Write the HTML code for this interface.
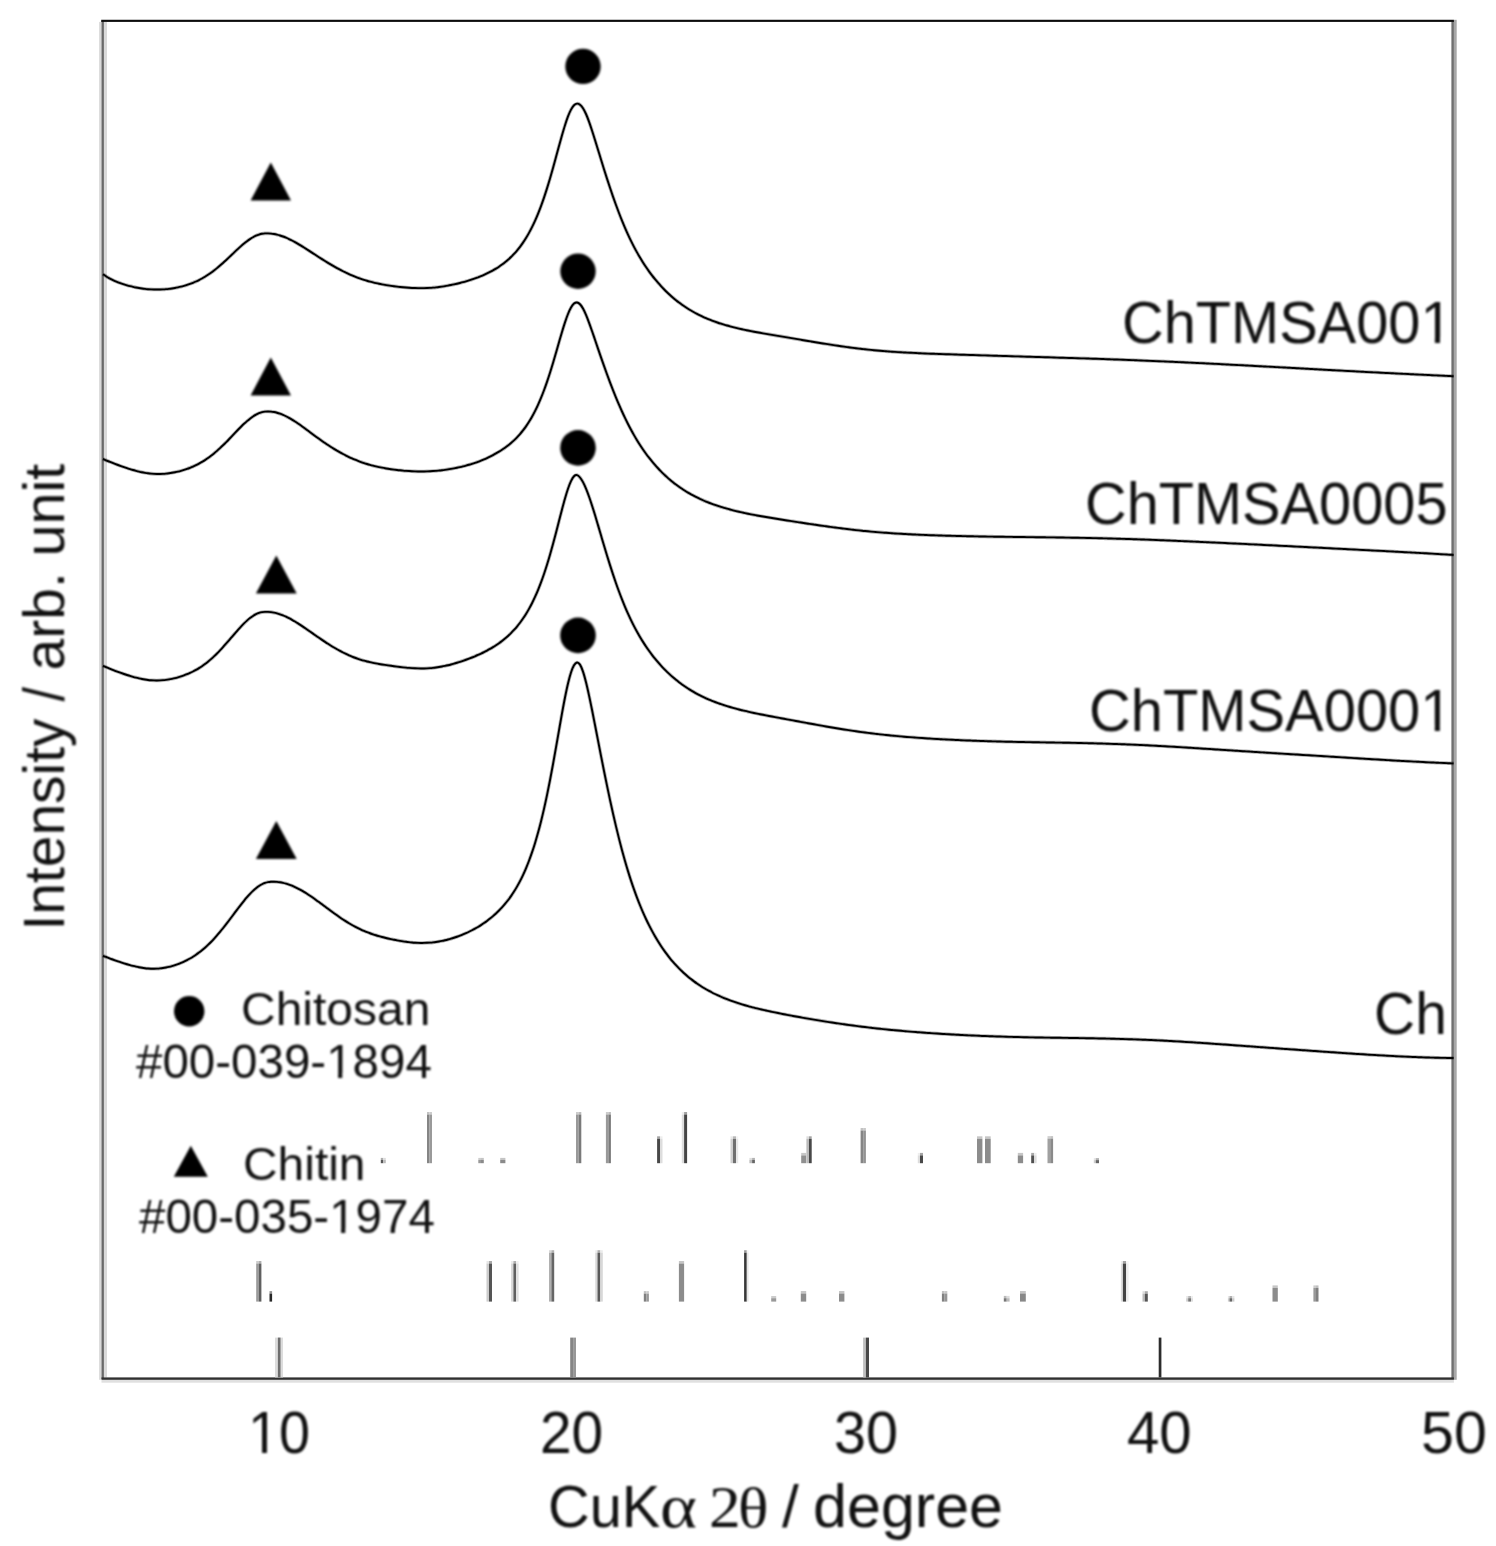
<!DOCTYPE html>
<html><head><meta charset="utf-8"><title>XRD</title>
<style>
html,body{margin:0;padding:0;background:#fff;}
body{width:1496px;height:1546px;overflow:hidden;font-family:"Liberation Sans",sans-serif;}
svg{display:block;}
text{font-family:"Liberation Sans",sans-serif;fill:#111;}
</style></head><body>
<svg width="1496" height="1546" viewBox="0 0 1496 1546">
<defs><filter id="soft" color-interpolation-filters="sRGB" x="-2%" y="-2%" width="104%" height="104%"><feGaussianBlur stdDeviation="0.8"/></filter></defs>
<rect width="1496" height="1546" fill="#fff"/>
<g id="all" filter="url(#soft)">
<rect id="bgw" x="-10" y="-10" width="1516" height="1566" fill="#fff"/>
<g id="curves_ph"></g>
<g id="markers" fill="#000">
<circle cx="583.0" cy="66.4" r="17.7"/>
<circle cx="578.0" cy="271.2" r="17.7"/>
<circle cx="578.0" cy="447.9" r="17.8"/>
<circle cx="578.0" cy="635.4" r="17.8"/>
<polygon points="250.6,200.6 291.0,200.6 270.8,162.6"/>
<polygon points="250.6,395.6 291.0,395.6 270.8,357.6"/>
<polygon points="255.9,593.6 296.7,593.6 276.3,555.6"/>
<polygon points="255.9,858.9 296.7,858.9 276.3,821.0"/>
<circle cx="189.2" cy="1011.3" r="15.2"/>
<polygon points="173.8,1176.8 207.8,1176.8 190.8,1145.8"/>
</g>
<g id="labels">
<g id="g_t10"><text id="t10" x="248.0" y="1453.2" font-size="58.5" textLength="62.06" lengthAdjust="spacingAndGlyphs">10</text><rect x="250.34" y="1447.54" width="11.69" height="6.80" fill="#fff"/><rect x="266.97" y="1447.54" width="11.25" height="6.80" fill="#fff"/></g>
<g id="g_t20"><text id="t20" x="540.0" y="1453.2" font-size="58.5" textLength="63.21" lengthAdjust="spacingAndGlyphs">20</text></g>
<g id="g_t30"><text id="t30" x="834.0" y="1453.2" font-size="58.5" textLength="64.09" lengthAdjust="spacingAndGlyphs">30</text></g>
<g id="g_t40"><text id="t40" x="1127.0" y="1453.2" font-size="58.5" textLength="64.69" lengthAdjust="spacingAndGlyphs">40</text></g>
<g id="g_t50"><text id="t50" x="1421.0" y="1453.2" font-size="58.5" textLength="65.8" lengthAdjust="spacingAndGlyphs">50</text></g>
<g id="g_xl1"><text id="xl1" x="548.0" y="1527.2" font-size="60" textLength="112.41" lengthAdjust="spacingAndGlyphs">CuK</text></g>
<g id="g_xa"><text id="xa" x="660.0" y="1527.2" font-size="62" style="font-family:'Liberation Serif',serif" textLength="37.0" lengthAdjust="spacingAndGlyphs" fill="#2a2a2a">α</text></g>
<g id="g_x2"><text id="x2" x="709.0" y="1527.2" font-size="60" style="font-family:'Liberation Serif',serif" textLength="31.73" lengthAdjust="spacingAndGlyphs" fill="#2a2a2a">2</text></g>
<g id="g_xt"><text id="xt" x="738.0" y="1527.2" font-size="58" style="font-family:'Liberation Serif',serif" textLength="30.49" lengthAdjust="spacingAndGlyphs" fill="#2a2a2a">θ</text></g>
<g id="g_xs"><text id="xs" x="782.0" y="1527.2" font-size="60" textLength="16.78" lengthAdjust="spacingAndGlyphs" fill="#555">/</text></g>
<g id="g_xl3"><text id="xl3" x="813.0" y="1526.8" font-size="60.5" textLength="190.04" lengthAdjust="spacingAndGlyphs">degree</text></g>
<g id="g_yl1"><text id="yl1" x="63.8" y="930.5" font-size="57.5" textLength="211.9" lengthAdjust="spacingAndGlyphs" transform="rotate(-90 63.8 930.5)">Intensity</text></g>
<g id="g_yl2"><text id="yl2" x="63.8" y="701.5" font-size="57.5" textLength="14.62" lengthAdjust="spacingAndGlyphs" transform="rotate(-90 63.8 701.5)">/</text></g>
<g id="g_yl3"><text id="yl3" x="63.8" y="670.5" font-size="57.5" textLength="98.23" lengthAdjust="spacingAndGlyphs" transform="rotate(-90 63.8 670.5)">arb.</text></g>
<g id="g_yl4"><text id="yl4" x="63.8" y="556.5" font-size="57.5" textLength="92.74" lengthAdjust="spacingAndGlyphs" transform="rotate(-90 63.8 556.5)">unit</text></g>
<g id="g_l1"><text id="l1" x="1122.0" y="342.6" font-size="58.5" textLength="330.5" lengthAdjust="spacingAndGlyphs">ChTMSA001</text><rect x="1422.80" y="336.94" width="12.10" height="6.80" fill="#fff"/><rect x="1440.01" y="336.94" width="11.65" height="6.80" fill="#fff"/></g>
<g id="g_l2"><text id="l2" x="1085.0" y="524.0" font-size="58.5" textLength="362.54" lengthAdjust="spacingAndGlyphs">ChTMSA0005</text></g>
<g id="g_l3"><text id="l3" x="1089.0" y="730.8" font-size="58.5" textLength="363.43" lengthAdjust="spacingAndGlyphs">ChTMSA0001</text><rect x="1422.65" y="725.14" width="12.13" height="6.80" fill="#fff"/><rect x="1439.90" y="725.14" width="11.68" height="6.80" fill="#fff"/></g>
<g id="g_l4"><text id="l4" x="1374.0" y="1034.4" font-size="58.5" textLength="72.83" lengthAdjust="spacingAndGlyphs">Ch</text></g>
<g id="g_g1"><text id="g1" x="241.0" y="1024.7" font-size="46.5" textLength="189.31" lengthAdjust="spacingAndGlyphs">Chitosan</text></g>
<g id="g_g2"><text id="g2" x="136.0" y="1078.0" font-size="47.5" textLength="295.81" lengthAdjust="spacingAndGlyphs">#00-039-1894</text><rect x="328.12" y="1073.41" width="9.96" height="5.52" fill="#fff"/><rect x="342.28" y="1073.41" width="9.59" height="5.52" fill="#fff"/></g>
<g id="g_g3"><text id="g3" x="243.0" y="1179.6" font-size="46.5" textLength="122.49" lengthAdjust="spacingAndGlyphs">Chitin</text></g>
<g id="g_g4"><text id="g4" x="139.0" y="1233.4" font-size="47.5" textLength="295.81" lengthAdjust="spacingAndGlyphs">#00-035-1974</text><rect x="331.12" y="1228.81" width="9.96" height="5.52" fill="#fff"/><rect x="345.28" y="1228.81" width="9.59" height="5.52" fill="#fff"/></g>
</g>
</g>
<g id="sticks">
<rect x="380.8" y="1157.9" width="2.5" height="2.1" fill="#acacac"/>
<rect x="380.8" y="1160.0" width="2.5" height="3.2" fill="#585858"/>
<rect x="383.3" y="1157.9" width="2.5" height="2.1" fill="#dddddd"/>
<rect x="383.3" y="1160.0" width="2.5" height="3.2" fill="#bbbbbb"/>
<rect x="427.0" y="1112.0" width="2.5" height="2.5" fill="#c2c2c2"/>
<rect x="427.0" y="1114.5" width="2.5" height="48.7" fill="#858585"/>
<rect x="429.5" y="1112.0" width="2.5" height="2.5" fill="#cccccc"/>
<rect x="429.5" y="1114.5" width="2.5" height="48.7" fill="#9a9a9a"/>
<rect x="478.3" y="1157.9" width="2.7" height="2.1" fill="#cccccc"/>
<rect x="478.3" y="1160.0" width="2.7" height="3.2" fill="#999999"/>
<rect x="481.0" y="1157.9" width="2.8" height="2.1" fill="#c4c4c4"/>
<rect x="481.0" y="1160.0" width="2.8" height="3.2" fill="#8a8a8a"/>
<rect x="500.2" y="1157.9" width="5.2" height="2.1" fill="#c4c4c4"/>
<rect x="500.2" y="1160.0" width="5.2" height="3.2" fill="#8a8a8a"/>
<rect x="576.0" y="1112.0" width="2.6" height="2.5" fill="#cccccc"/>
<rect x="576.0" y="1114.5" width="2.6" height="48.7" fill="#999999"/>
<rect x="578.6" y="1112.0" width="2.7" height="2.5" fill="#bcbcbc"/>
<rect x="578.6" y="1114.5" width="2.7" height="48.7" fill="#7a7a7a"/>
<rect x="605.9" y="1112.0" width="2.5" height="2.5" fill="#cccccc"/>
<rect x="605.9" y="1114.5" width="2.5" height="48.7" fill="#999999"/>
<rect x="608.4" y="1112.0" width="2.5" height="2.5" fill="#bcbcbc"/>
<rect x="608.4" y="1114.5" width="2.5" height="48.7" fill="#7a7a7a"/>
<rect x="657.1" y="1136.3" width="3.0" height="2.5" fill="#a4a4a4"/>
<rect x="657.1" y="1138.8" width="3.0" height="24.4" fill="#484848"/>
<rect x="660.1" y="1136.3" width="2.4" height="2.5" fill="#eeeeee"/>
<rect x="660.1" y="1138.8" width="2.4" height="24.4" fill="#dddddd"/>
<rect x="681.8" y="1112.0" width="2.3" height="2.5" fill="#eeeeee"/>
<rect x="681.8" y="1114.5" width="2.3" height="48.7" fill="#dddddd"/>
<rect x="684.1" y="1112.0" width="3.0" height="2.5" fill="#a2a2a2"/>
<rect x="684.1" y="1114.5" width="3.0" height="48.7" fill="#444444"/>
<rect x="730.5" y="1136.3" width="2.5" height="2.5" fill="#e8e8e8"/>
<rect x="730.5" y="1138.8" width="2.5" height="24.4" fill="#d0d0d0"/>
<rect x="733.0" y="1136.3" width="3.0" height="2.5" fill="#b8b8b8"/>
<rect x="733.0" y="1138.8" width="3.0" height="24.4" fill="#707070"/>
<rect x="736.0" y="1136.3" width="2.2" height="2.5" fill="#f4f4f4"/>
<rect x="736.0" y="1138.8" width="2.2" height="24.4" fill="#e8e8e8"/>
<rect x="749.4" y="1157.9" width="2.7" height="2.1" fill="#dddddd"/>
<rect x="749.4" y="1160.0" width="2.7" height="3.2" fill="#bbbbbb"/>
<rect x="752.1" y="1157.9" width="2.8" height="2.1" fill="#b2b2b2"/>
<rect x="752.1" y="1160.0" width="2.8" height="3.2" fill="#666666"/>
<rect x="801.2" y="1152.9" width="5.0" height="2.5" fill="#c8c8c8"/>
<rect x="801.2" y="1155.4" width="5.0" height="7.8" fill="#909090"/>
<rect x="806.4" y="1136.3" width="2.6" height="2.5" fill="#dddddd"/>
<rect x="806.4" y="1138.8" width="2.6" height="24.4" fill="#bbbbbb"/>
<rect x="809.0" y="1136.3" width="2.7" height="2.5" fill="#a4a4a4"/>
<rect x="809.0" y="1138.8" width="2.7" height="24.4" fill="#484848"/>
<rect x="860.6" y="1128.0" width="2.6" height="2.5" fill="#c2c2c2"/>
<rect x="860.6" y="1130.5" width="2.6" height="32.7" fill="#858585"/>
<rect x="863.2" y="1128.0" width="2.7" height="2.5" fill="#c9c9c9"/>
<rect x="863.2" y="1130.5" width="2.7" height="32.7" fill="#939393"/>
<rect x="917.8" y="1152.9" width="2.2" height="2.5" fill="#eeeeee"/>
<rect x="917.8" y="1155.4" width="2.2" height="7.8" fill="#dddddd"/>
<rect x="920.0" y="1152.9" width="3.0" height="2.5" fill="#a4a4a4"/>
<rect x="920.0" y="1155.4" width="3.0" height="7.8" fill="#484848"/>
<rect x="977.0" y="1136.3" width="5.4" height="2.5" fill="#c6c6c6"/>
<rect x="977.0" y="1138.8" width="5.4" height="24.4" fill="#8c8c8c"/>
<rect x="985.0" y="1136.3" width="5.7" height="2.5" fill="#c6c6c6"/>
<rect x="985.0" y="1138.8" width="5.7" height="24.4" fill="#8c8c8c"/>
<rect x="1017.8" y="1152.9" width="5.3" height="2.5" fill="#c6c6c6"/>
<rect x="1017.8" y="1155.4" width="5.3" height="7.8" fill="#8c8c8c"/>
<rect x="1031.2" y="1152.9" width="3.0" height="2.5" fill="#a8a8a8"/>
<rect x="1031.2" y="1155.4" width="3.0" height="7.8" fill="#505050"/>
<rect x="1034.2" y="1152.9" width="2.4" height="2.5" fill="#eeeeee"/>
<rect x="1034.2" y="1155.4" width="2.4" height="7.8" fill="#dddddd"/>
<rect x="1047.5" y="1136.1" width="2.7" height="2.5" fill="#d0d0d0"/>
<rect x="1047.5" y="1138.6" width="2.7" height="24.6" fill="#a0a0a0"/>
<rect x="1050.2" y="1136.1" width="2.9" height="2.5" fill="#c4c4c4"/>
<rect x="1050.2" y="1138.6" width="2.9" height="24.6" fill="#8a8a8a"/>
<rect x="1093.8" y="1158.1" width="2.0" height="2.0" fill="#e6e6e6"/>
<rect x="1093.8" y="1160.1" width="2.0" height="3.1" fill="#cccccc"/>
<rect x="1095.8" y="1158.1" width="3.2" height="2.0" fill="#b2b2b2"/>
<rect x="1095.8" y="1160.1" width="3.2" height="3.1" fill="#666666"/>
<rect x="256.2" y="1261.0" width="2.6" height="2.5" fill="#cccccc"/>
<rect x="256.2" y="1263.5" width="2.6" height="38.1" fill="#9a9a9a"/>
<rect x="258.8" y="1261.0" width="2.6" height="2.5" fill="#b0b0b0"/>
<rect x="258.8" y="1263.5" width="2.6" height="38.1" fill="#606060"/>
<rect x="269.5" y="1291.1" width="2.6" height="2.5" fill="#949494"/>
<rect x="269.5" y="1293.6" width="2.6" height="8.0" fill="#282828"/>
<rect x="486.5" y="1261.0" width="2.5" height="2.5" fill="#e6e6e6"/>
<rect x="486.5" y="1263.5" width="2.5" height="38.1" fill="#cccccc"/>
<rect x="489.0" y="1261.0" width="3.0" height="2.5" fill="#aaaaaa"/>
<rect x="489.0" y="1263.5" width="3.0" height="38.1" fill="#555555"/>
<rect x="511.1" y="1261.0" width="2.3" height="2.5" fill="#ececec"/>
<rect x="511.1" y="1263.5" width="2.3" height="38.1" fill="#d8d8d8"/>
<rect x="513.4" y="1261.0" width="2.7" height="2.5" fill="#b0b0b0"/>
<rect x="513.4" y="1263.5" width="2.7" height="38.1" fill="#606060"/>
<rect x="516.1" y="1261.0" width="2.5" height="2.5" fill="#f0f0f0"/>
<rect x="516.1" y="1263.5" width="2.5" height="38.1" fill="#e0e0e0"/>
<rect x="549.0" y="1250.2" width="2.4" height="2.5" fill="#d8d8d8"/>
<rect x="549.0" y="1252.7" width="2.4" height="48.9" fill="#b0b0b0"/>
<rect x="551.4" y="1250.2" width="2.8" height="2.5" fill="#b2b2b2"/>
<rect x="551.4" y="1252.7" width="2.8" height="48.9" fill="#666666"/>
<rect x="595.3" y="1250.2" width="2.2" height="2.5" fill="#ececec"/>
<rect x="595.3" y="1252.7" width="2.2" height="48.9" fill="#d8d8d8"/>
<rect x="597.5" y="1250.2" width="2.8" height="2.5" fill="#acacac"/>
<rect x="597.5" y="1252.7" width="2.8" height="48.9" fill="#5a5a5a"/>
<rect x="600.3" y="1250.2" width="2.5" height="2.5" fill="#ececec"/>
<rect x="600.3" y="1252.7" width="2.5" height="48.9" fill="#d8d8d8"/>
<rect x="643.8" y="1291.1" width="2.6" height="2.5" fill="#c0c0c0"/>
<rect x="643.8" y="1293.6" width="2.6" height="8.0" fill="#808080"/>
<rect x="646.4" y="1291.1" width="2.5" height="2.5" fill="#cccccc"/>
<rect x="646.4" y="1293.6" width="2.5" height="8.0" fill="#999999"/>
<rect x="678.9" y="1261.0" width="5.2" height="2.5" fill="#c6c6c6"/>
<rect x="678.9" y="1263.5" width="5.2" height="38.1" fill="#8c8c8c"/>
<rect x="744.1" y="1250.2" width="2.7" height="2.5" fill="#9c9c9c"/>
<rect x="744.1" y="1252.7" width="2.7" height="48.9" fill="#383838"/>
<rect x="746.8" y="1250.2" width="1.8" height="2.5" fill="#f4f4f4"/>
<rect x="746.8" y="1252.7" width="1.8" height="48.9" fill="#e8e8e8"/>
<rect x="771.2" y="1296.0" width="5.0" height="2.2" fill="#cccccc"/>
<rect x="771.2" y="1298.2" width="5.0" height="3.4" fill="#999999"/>
<rect x="800.8" y="1291.0" width="5.4" height="2.5" fill="#c6c6c6"/>
<rect x="800.8" y="1293.5" width="5.4" height="8.1" fill="#8c8c8c"/>
<rect x="839.0" y="1291.0" width="5.4" height="2.5" fill="#c6c6c6"/>
<rect x="839.0" y="1293.5" width="5.4" height="8.1" fill="#8c8c8c"/>
<rect x="941.9" y="1291.0" width="2.7" height="2.5" fill="#c0c0c0"/>
<rect x="941.9" y="1293.5" width="2.7" height="8.1" fill="#808080"/>
<rect x="944.6" y="1291.0" width="2.7" height="2.5" fill="#cacaca"/>
<rect x="944.6" y="1293.5" width="2.7" height="8.1" fill="#969696"/>
<rect x="1003.8" y="1295.9" width="2.9" height="2.3" fill="#bbbbbb"/>
<rect x="1003.8" y="1298.2" width="2.9" height="3.4" fill="#777777"/>
<rect x="1006.7" y="1295.9" width="2.9" height="2.3" fill="#dddddd"/>
<rect x="1006.7" y="1298.2" width="2.9" height="3.4" fill="#bbbbbb"/>
<rect x="1020.0" y="1291.0" width="5.8" height="2.5" fill="#c4c4c4"/>
<rect x="1020.0" y="1293.5" width="5.8" height="8.1" fill="#888888"/>
<rect x="1120.9" y="1261.0" width="2.0" height="2.5" fill="#eeeeee"/>
<rect x="1120.9" y="1263.5" width="2.0" height="38.1" fill="#dddddd"/>
<rect x="1122.9" y="1261.0" width="3.3" height="2.5" fill="#a2a2a2"/>
<rect x="1122.9" y="1263.5" width="3.3" height="38.1" fill="#444444"/>
<rect x="1126.2" y="1261.0" width="2.4" height="2.5" fill="#f6f6f6"/>
<rect x="1126.2" y="1263.5" width="2.4" height="38.1" fill="#eeeeee"/>
<rect x="1142.5" y="1291.2" width="2.4" height="2.5" fill="#dddddd"/>
<rect x="1142.5" y="1293.7" width="2.4" height="7.9" fill="#bbbbbb"/>
<rect x="1144.9" y="1291.2" width="2.9" height="2.5" fill="#aaaaaa"/>
<rect x="1144.9" y="1293.7" width="2.9" height="7.9" fill="#555555"/>
<rect x="1186.2" y="1296.0" width="2.0" height="2.2" fill="#e6e6e6"/>
<rect x="1186.2" y="1298.2" width="2.0" height="3.4" fill="#cccccc"/>
<rect x="1188.2" y="1296.0" width="2.9" height="2.2" fill="#bbbbbb"/>
<rect x="1188.2" y="1298.2" width="2.9" height="3.4" fill="#777777"/>
<rect x="1191.1" y="1296.0" width="1.9" height="2.2" fill="#eeeeee"/>
<rect x="1191.1" y="1298.2" width="1.9" height="3.4" fill="#dddddd"/>
<rect x="1227.9" y="1296.0" width="1.6" height="2.2" fill="#e6e6e6"/>
<rect x="1227.9" y="1298.2" width="1.6" height="3.4" fill="#cccccc"/>
<rect x="1229.5" y="1296.0" width="2.5" height="2.2" fill="#b2b2b2"/>
<rect x="1229.5" y="1298.2" width="2.5" height="3.4" fill="#666666"/>
<rect x="1232.0" y="1296.0" width="2.4" height="2.2" fill="#e6e6e6"/>
<rect x="1232.0" y="1298.2" width="2.4" height="3.4" fill="#cccccc"/>
<rect x="1272.5" y="1285.4" width="5.3" height="2.5" fill="#c6c6c6"/>
<rect x="1272.5" y="1287.9" width="5.3" height="13.7" fill="#8c8c8c"/>
<rect x="1313.4" y="1285.4" width="2.6" height="2.5" fill="#cccccc"/>
<rect x="1313.4" y="1287.9" width="2.6" height="13.7" fill="#999999"/>
<rect x="1316.0" y="1285.4" width="2.5" height="2.5" fill="#c0c0c0"/>
<rect x="1316.0" y="1287.9" width="2.5" height="13.7" fill="#808080"/>
</g>
<g id="frame">
<rect x="99.1" y="21.9" width="2.4" height="1357.9" fill="#dadada"/>
<rect x="103.9" y="21.9" width="3.1" height="1355.5" fill="#dadada"/>
<rect x="101.5" y="1379.8" width="1352.4" height="2.9" fill="#e0e0e0"/>
<rect x="1453.9" y="19.8" width="2.8" height="1360" fill="#a8a8a8"/>
<rect x="101.5" y="21" width="2.4" height="1358" fill="#6a6a6a"/>
<rect x="1451.4" y="21" width="2.5" height="1358" fill="#707070"/>
<rect x="101.2" y="19.76" width="1352.7" height="2.15" fill="#0d0d0d"/>
<rect x="101.5" y="1377.4" width="1352.4" height="2.4" fill="#303030"/>
<rect x="275" y="1337.6" width="8" height="39.8" fill="#dcdcdc"/>
<rect x="277.9" y="1337.6" width="2.6" height="39.8" fill="#6e6e6e"/>
<rect x="570.2" y="1337.6" width="2.9" height="39.8" fill="#858585"/>
<rect x="573.1" y="1337.6" width="2.9" height="39.8" fill="#979797"/>
<rect x="863.1" y="1337.6" width="2.8" height="39.8" fill="#c0c0c0"/>
<rect x="865.9" y="1337.6" width="3.1" height="39.8" fill="#484848"/>
<rect x="1158.7" y="1337.6" width="2.7" height="39.8" fill="#2c2c2c"/>
</g>
<g id="curves" fill="none" stroke="#000" stroke-linejoin="round">
<g stroke-width="3.6" stroke-opacity="0.3">
<path d="M103.00,274.28 C103.50,274.62 105.00,275.67 106.00,276.30 C107.00,276.93 108.00,277.52 109.00,278.08 C110.00,278.63 111.00,279.15 112.00,279.65 C113.00,280.14 114.00,280.60 115.00,281.04 C116.00,281.48 117.00,281.89 118.00,282.29 C119.00,282.68 120.00,283.05 121.00,283.40 C122.00,283.75 123.00,284.08 124.00,284.40 C125.00,284.71 126.00,285.01 127.00,285.30 C128.00,285.58 129.00,285.85 130.00,286.10 C131.00,286.35 132.00,286.59 133.00,286.82 C134.00,287.04 135.00,287.26 136.00,287.45 C137.00,287.65 138.00,287.84 139.00,288.01 C140.00,288.18 141.00,288.34 142.00,288.49 C143.00,288.63 144.00,288.76 145.00,288.88 C146.00,289.00 147.00,289.10 148.00,289.19 C149.00,289.28 150.00,289.35 151.00,289.41 C152.00,289.47 153.00,289.51 154.00,289.53 C155.00,289.56 156.00,289.57 157.00,289.57 C158.00,289.57 159.00,289.55 160.00,289.52 C161.00,289.49 162.00,289.45 163.00,289.39 C164.00,289.33 165.00,289.25 166.00,289.16 C167.00,289.08 168.00,288.97 169.00,288.85 C170.00,288.74 171.00,288.60 172.00,288.45 C173.00,288.31 174.00,288.14 175.00,287.96 C176.00,287.78 177.00,287.58 178.00,287.37 C179.00,287.16 180.00,286.93 181.00,286.68 C182.00,286.43 183.00,286.16 184.00,285.88 C185.00,285.59 186.00,285.29 187.00,284.96 C188.00,284.64 189.00,284.30 190.00,283.93 C191.00,283.57 192.00,283.19 193.00,282.78 C194.00,282.37 195.00,281.95 196.00,281.49 C197.00,281.04 198.00,280.57 199.00,280.06 C200.00,279.56 201.00,279.03 202.00,278.48 C203.00,277.92 204.00,277.34 205.00,276.73 C206.00,276.12 207.00,275.48 208.00,274.82 C209.00,274.15 210.00,273.46 211.00,272.74 C212.00,272.02 213.00,271.27 214.00,270.50 C215.00,269.73 216.00,268.93 217.00,268.11 C218.00,267.29 219.00,266.45 220.00,265.58 C221.00,264.72 222.00,263.84 223.00,262.94 C224.00,262.04 225.00,261.12 226.00,260.20 C227.00,259.27 228.00,258.33 229.00,257.38 C230.00,256.44 231.00,255.48 232.00,254.53 C233.00,253.58 234.00,252.62 235.00,251.68 C236.00,250.73 237.00,249.79 238.00,248.87 C239.00,247.95 240.00,247.04 241.00,246.16 C242.00,245.29 243.00,244.42 244.00,243.60 C245.00,242.78 246.00,241.98 247.00,241.23 C248.00,240.48 249.00,239.77 250.00,239.10 C251.00,238.44 252.00,237.82 253.00,237.26 C254.00,236.69 255.00,236.18 256.00,235.73 C257.00,235.28 258.00,234.88 259.00,234.55 C260.00,234.23 261.00,233.96 262.00,233.76 C263.00,233.56 264.00,233.44 265.00,233.37 C266.00,233.30 267.00,233.32 268.00,233.35 C269.00,233.38 270.00,233.46 271.00,233.57 C272.00,233.67 273.00,233.82 274.00,234.00 C275.00,234.18 276.00,234.39 277.00,234.64 C278.00,234.88 279.00,235.16 280.00,235.47 C281.00,235.78 282.00,236.13 283.00,236.49 C284.00,236.86 285.00,237.26 286.00,237.69 C287.00,238.11 288.00,238.56 289.00,239.03 C290.00,239.51 291.00,240.00 292.00,240.52 C293.00,241.04 294.00,241.58 295.00,242.13 C296.00,242.68 297.00,243.26 298.00,243.85 C299.00,244.43 300.00,245.04 301.00,245.65 C302.00,246.26 303.00,246.88 304.00,247.52 C305.00,248.15 306.00,248.79 307.00,249.43 C308.00,250.08 309.00,250.73 310.00,251.38 C311.00,252.03 312.00,252.68 313.00,253.33 C314.00,253.98 315.00,254.64 316.00,255.29 C317.00,255.93 318.00,256.58 319.00,257.23 C320.00,257.87 321.00,258.51 322.00,259.14 C323.00,259.78 324.00,260.41 325.00,261.03 C326.00,261.65 327.00,262.27 328.00,262.88 C329.00,263.48 330.00,264.08 331.00,264.67 C332.00,265.26 333.00,265.84 334.00,266.41 C335.00,266.98 336.00,267.54 337.00,268.09 C338.00,268.64 339.00,269.18 340.00,269.70 C341.00,270.23 342.00,270.74 343.00,271.24 C344.00,271.74 345.00,272.23 346.00,272.71 C347.00,273.18 348.00,273.64 349.00,274.09 C350.00,274.54 351.00,274.98 352.00,275.40 C353.00,275.82 354.00,276.23 355.00,276.63 C356.00,277.02 357.00,277.41 358.00,277.77 C359.00,278.14 360.00,278.50 361.00,278.84 C362.00,279.19 363.00,279.52 364.00,279.84 C365.00,280.15 366.00,280.46 367.00,280.75 C368.00,281.05 369.00,281.33 370.00,281.60 C371.00,281.87 372.00,282.12 373.00,282.37 C374.00,282.62 375.00,282.86 376.00,283.08 C377.00,283.31 378.00,283.53 379.00,283.73 C380.00,283.94 381.00,284.14 382.00,284.33 C383.00,284.52 384.00,284.70 385.00,284.87 C386.00,285.05 387.00,285.21 388.00,285.37 C389.00,285.53 390.00,285.69 391.00,285.83 C392.00,285.98 393.00,286.12 394.00,286.26 C395.00,286.39 396.00,286.52 397.00,286.64 C398.00,286.76 399.00,286.88 400.00,286.98 C401.00,287.09 402.00,287.19 403.00,287.29 C404.00,287.38 405.00,287.47 406.00,287.55 C407.00,287.63 408.00,287.70 409.00,287.76 C410.00,287.83 411.00,287.89 412.00,287.93 C413.00,287.98 414.00,288.02 415.00,288.06 C416.00,288.09 417.00,288.11 418.00,288.13 C419.00,288.14 420.00,288.15 421.00,288.15 C422.00,288.14 423.00,288.13 424.00,288.11 C425.00,288.09 426.00,288.06 427.00,288.01 C428.00,287.97 429.00,287.92 430.00,287.85 C431.00,287.79 432.00,287.71 433.00,287.63 C434.00,287.54 435.00,287.45 436.00,287.34 C437.00,287.23 438.00,287.12 439.00,286.99 C440.00,286.86 441.00,286.72 442.00,286.58 C443.00,286.43 444.00,286.28 445.00,286.11 C446.00,285.95 447.00,285.77 448.00,285.59 C449.00,285.41 450.00,285.21 451.00,285.01 C452.00,284.81 453.00,284.60 454.00,284.38 C455.00,284.16 456.00,283.93 457.00,283.70 C458.00,283.46 459.00,283.21 460.00,282.96 C461.00,282.70 462.00,282.44 463.00,282.16 C464.00,281.89 465.00,281.61 466.00,281.31 C467.00,281.02 468.00,280.72 469.00,280.40 C470.00,280.09 471.00,279.77 472.00,279.43 C473.00,279.10 474.00,278.76 475.00,278.40 C476.00,278.04 477.00,277.67 478.00,277.29 C479.00,276.90 480.00,276.50 481.00,276.09 C482.00,275.68 483.00,275.25 484.00,274.81 C485.00,274.37 486.00,273.91 487.00,273.43 C488.00,272.95 489.00,272.46 490.00,271.95 C491.00,271.43 492.00,270.90 493.00,270.34 C494.00,269.78 495.00,269.20 496.00,268.59 C497.00,267.98 498.00,267.35 499.00,266.68 C500.00,266.02 501.00,265.33 502.00,264.60 C503.00,263.87 504.00,263.11 505.00,262.31 C506.00,261.51 507.00,260.68 508.00,259.80 C509.00,258.92 510.00,258.00 511.00,257.03 C512.00,256.05 513.00,255.04 514.00,253.96 C515.00,252.89 516.00,251.77 517.00,250.57 C518.00,249.38 519.00,248.14 520.00,246.82 C521.00,245.49 522.00,244.10 523.00,242.63 C524.00,241.16 525.00,239.62 526.00,237.99 C527.00,236.36 528.00,234.65 529.00,232.84 C530.00,231.03 531.00,229.13 532.00,227.12 C533.00,225.11 534.00,223.01 535.00,220.78 C536.00,218.56 537.00,216.23 538.00,213.78 C539.00,211.32 540.00,208.75 541.00,206.06 C542.00,203.36 543.00,200.54 544.00,197.60 C545.00,194.65 546.00,191.58 547.00,188.39 C548.00,185.21 549.00,181.89 550.00,178.50 C551.00,175.10 552.00,171.57 553.00,168.00 C554.00,164.43 555.00,160.75 556.00,157.09 C557.00,153.43 558.00,149.68 559.00,146.04 C560.00,142.40 561.00,138.72 562.00,135.24 C563.00,131.77 564.00,128.32 565.00,125.19 C566.00,122.06 567.00,119.05 568.00,116.46 C569.00,113.87 570.00,111.51 571.00,109.64 C572.00,107.77 573.00,106.25 574.00,105.25 C575.00,104.26 576.00,103.76 577.00,103.67 C578.00,103.59 579.00,103.97 580.00,104.72 C581.00,105.48 582.00,106.65 583.00,108.20 C584.00,109.74 585.00,111.76 586.00,114.00 C587.00,116.24 588.00,118.88 589.00,121.62 C590.00,124.37 591.00,127.40 592.00,130.45 C593.00,133.51 594.00,136.74 595.00,139.95 C596.00,143.16 597.00,146.46 598.00,149.72 C599.00,152.98 600.00,156.28 601.00,159.53 C602.00,162.77 603.00,166.01 604.00,169.20 C605.00,172.39 606.00,175.55 607.00,178.65 C608.00,181.75 609.00,184.80 610.00,187.80 C611.00,190.79 612.00,193.73 613.00,196.60 C614.00,199.47 615.00,202.28 616.00,205.02 C617.00,207.76 618.00,210.43 619.00,213.03 C620.00,215.64 621.00,218.17 622.00,220.63 C623.00,223.10 624.00,225.49 625.00,227.81 C626.00,230.14 627.00,232.39 628.00,234.58 C629.00,236.76 630.00,238.88 631.00,240.92 C632.00,242.97 633.00,244.93 634.00,246.84 C635.00,248.76 636.00,250.60 637.00,252.40 C638.00,254.19 639.00,255.92 640.00,257.60 C641.00,259.28 642.00,260.90 643.00,262.48 C644.00,264.05 645.00,265.57 646.00,267.05 C647.00,268.53 648.00,269.96 649.00,271.34 C650.00,272.73 651.00,274.07 652.00,275.37 C653.00,276.67 654.00,277.93 655.00,279.16 C656.00,280.38 657.00,281.57 658.00,282.72 C659.00,283.88 660.00,284.99 661.00,286.08 C662.00,287.17 663.00,288.22 664.00,289.25 C665.00,290.28 666.00,291.27 667.00,292.24 C668.00,293.21 669.00,294.16 670.00,295.07 C671.00,295.98 672.00,296.85 673.00,297.71 C674.00,298.56 675.00,299.38 676.00,300.18 C677.00,300.99 678.00,301.76 679.00,302.51 C680.00,303.27 681.00,304.00 682.00,304.71 C683.00,305.42 684.00,306.11 685.00,306.77 C686.00,307.44 687.00,308.09 688.00,308.72 C689.00,309.34 690.00,309.95 691.00,310.54 C692.00,311.13 693.00,311.71 694.00,312.26 C695.00,312.82 696.00,313.35 697.00,313.88 C698.00,314.40 699.00,314.90 700.00,315.39 C701.00,315.88 702.00,316.36 703.00,316.81 C704.00,317.27 705.00,317.72 706.00,318.15 C707.00,318.58 708.00,319.00 709.00,319.40 C710.00,319.81 711.00,320.20 712.00,320.58 C713.00,320.96 714.00,321.33 715.00,321.69 C716.00,322.04 717.00,322.39 718.00,322.73 C719.00,323.07 720.00,323.39 721.00,323.71 C722.00,324.03 723.00,324.34 724.00,324.64 C725.00,324.94 726.00,325.23 727.00,325.51 C728.00,325.80 729.00,326.07 730.00,326.34 C731.00,326.61 732.00,326.87 733.00,327.13 C734.00,327.38 735.00,327.63 736.00,327.87 C737.00,328.11 738.00,328.35 739.00,328.58 C740.00,328.81 741.00,329.04 742.00,329.26 C743.00,329.48 744.00,329.69 745.00,329.91 C746.00,330.12 747.00,330.32 748.00,330.53 C749.00,330.73 750.00,330.93 751.00,331.12 C752.00,331.32 753.00,331.51 754.00,331.70 C755.00,331.89 756.00,332.08 757.00,332.26 C758.00,332.44 759.00,332.62 760.00,332.80 C761.00,332.98 762.00,333.16 763.00,333.33 C764.00,333.51 765.00,333.68 766.00,333.85 C767.00,334.03 768.00,334.20 769.00,334.37 C770.00,334.54 771.00,334.71 772.00,334.87 C773.00,335.04 774.00,335.21 775.00,335.38 C776.00,335.54 777.00,335.71 778.00,335.88 C779.00,336.05 780.00,336.21 781.00,336.38 C782.00,336.55 783.00,336.72 784.00,336.89 C785.00,337.06 786.00,337.23 787.00,337.39 C788.00,337.56 789.00,337.73 790.00,337.90 C791.00,338.07 792.00,338.24 793.00,338.41 C794.00,338.58 795.00,338.75 796.00,338.92 C797.00,339.09 798.00,339.26 799.00,339.43 C800.00,339.60 801.00,339.77 802.00,339.94 C803.00,340.11 804.00,340.28 805.00,340.45 C806.00,340.62 807.00,340.79 808.00,340.96 C809.00,341.12 810.00,341.29 811.00,341.46 C812.00,341.63 813.00,341.79 814.00,341.96 C815.00,342.13 816.00,342.29 817.00,342.46 C818.00,342.62 819.00,342.79 820.00,342.95 C821.00,343.12 822.00,343.28 823.00,343.44 C824.00,343.60 825.00,343.76 826.00,343.92 C827.00,344.08 828.00,344.24 829.00,344.40 C830.00,344.56 831.00,344.71 832.00,344.87 C833.00,345.02 834.00,345.18 835.00,345.33 C836.00,345.48 837.00,345.63 838.00,345.78 C839.00,345.93 840.00,346.07 841.00,346.22 C842.00,346.37 843.00,346.51 844.00,346.65 C845.00,346.79 846.00,346.93 847.00,347.07 C848.00,347.21 849.00,347.34 850.00,347.48 C851.00,347.61 852.00,347.74 853.00,347.87 C854.00,348.00 855.00,348.13 856.00,348.25 C857.00,348.38 858.00,348.50 859.00,348.62 C860.00,348.74 861.00,348.85 862.00,348.97 C863.00,349.08 864.00,349.19 865.00,349.30 C866.00,349.41 867.00,349.52 868.00,349.62 C869.00,349.72 870.00,349.82 871.00,349.92 C872.00,350.02 873.00,350.12 874.00,350.21 C875.00,350.31 876.00,350.40 877.00,350.49 C878.00,350.58 879.00,350.67 880.00,350.75 C881.00,350.84 882.00,350.92 883.00,351.00 C884.00,351.08 885.00,351.16 886.00,351.24 C887.00,351.32 888.00,351.39 889.00,351.47 C890.00,351.54 891.00,351.61 892.00,351.68 C893.00,351.75 894.00,351.82 895.00,351.89 C896.00,351.96 897.00,352.02 898.00,352.08 C899.00,352.15 900.00,352.21 901.00,352.27 C902.00,352.33 903.00,352.39 904.00,352.45 C905.00,352.50 906.00,352.56 907.00,352.61 C908.00,352.67 909.00,352.72 910.00,352.77 C911.00,352.82 912.00,352.88 913.00,352.92 C914.00,352.97 915.00,353.02 916.00,353.07 C917.00,353.12 918.00,353.16 919.00,353.21 C920.00,353.25 921.00,353.30 922.00,353.34 C923.00,353.38 924.00,353.42 925.00,353.46 C926.00,353.51 927.00,353.55 928.00,353.58 C929.00,353.62 930.00,353.66 931.00,353.70 C932.00,353.74 933.00,353.78 934.00,353.81 C935.00,353.85 936.00,353.88 937.00,353.92 C938.00,353.95 939.00,353.99 940.00,354.02 C941.00,354.06 942.00,354.09 943.00,354.12 C944.00,354.16 945.00,354.19 946.00,354.22 C947.00,354.25 948.00,354.28 949.00,354.32 C950.00,354.35 951.00,354.38 952.00,354.41 C953.00,354.44 954.00,354.47 955.00,354.50 C956.00,354.53 957.00,354.57 958.00,354.60 C959.00,354.63 960.00,354.66 961.00,354.69 C962.00,354.72 963.00,354.75 964.00,354.78 C965.00,354.81 966.00,354.84 967.00,354.87 C968.00,354.90 969.00,354.93 970.00,354.96 C971.00,354.99 972.00,355.02 973.00,355.05 C974.00,355.09 975.00,355.12 976.00,355.15 C977.00,355.18 978.00,355.21 979.00,355.24 C980.00,355.27 981.00,355.30 982.00,355.33 C983.00,355.36 984.00,355.39 985.00,355.42 C986.00,355.45 987.00,355.48 988.00,355.51 C989.00,355.54 990.00,355.57 991.00,355.60 C992.00,355.63 993.00,355.66 994.00,355.69 C995.00,355.72 996.00,355.75 997.00,355.78 C998.00,355.81 999.00,355.85 1000.00,355.88 C1001.00,355.91 1002.00,355.94 1003.00,355.97 C1004.00,356.00 1005.00,356.03 1006.00,356.06 C1007.00,356.09 1008.00,356.12 1009.00,356.15 C1010.00,356.18 1011.00,356.21 1012.00,356.24 C1013.00,356.27 1014.00,356.30 1015.00,356.33 C1016.00,356.36 1017.00,356.39 1018.00,356.42 C1019.00,356.45 1020.00,356.48 1021.00,356.51 C1022.00,356.54 1023.00,356.57 1024.00,356.60 C1025.00,356.63 1026.00,356.66 1027.00,356.69 C1028.00,356.71 1029.00,356.74 1030.00,356.77 C1031.00,356.80 1032.00,356.83 1033.00,356.86 C1034.00,356.89 1035.00,356.92 1036.00,356.95 C1037.00,356.98 1038.00,357.01 1039.00,357.04 C1040.00,357.07 1041.00,357.10 1042.00,357.13 C1043.00,357.16 1044.00,357.19 1045.00,357.22 C1046.00,357.25 1047.00,357.28 1048.00,357.31 C1049.00,357.34 1050.00,357.37 1051.00,357.40 C1052.00,357.43 1053.00,357.46 1054.00,357.49 C1055.00,357.52 1056.00,357.55 1057.00,357.59 C1058.00,357.62 1059.00,357.65 1060.00,357.68 C1061.00,357.71 1062.00,357.74 1063.00,357.77 C1064.00,357.80 1065.00,357.83 1066.00,357.86 C1067.00,357.89 1068.00,357.92 1069.00,357.95 C1070.00,357.98 1071.00,358.01 1072.00,358.05 C1073.00,358.08 1074.00,358.11 1075.00,358.14 C1076.00,358.17 1077.00,358.20 1078.00,358.23 C1079.00,358.27 1080.00,358.30 1081.00,358.33 C1082.00,358.36 1083.00,358.39 1084.00,358.42 C1085.00,358.46 1086.00,358.49 1087.00,358.52 C1088.00,358.55 1089.00,358.59 1090.00,358.62 C1091.00,358.65 1092.00,358.68 1093.00,358.72 C1094.00,358.75 1095.00,358.78 1096.00,358.82 C1097.00,358.85 1098.00,358.88 1099.00,358.92 C1100.00,358.95 1101.00,358.98 1102.00,359.02 C1103.00,359.05 1104.00,359.09 1105.00,359.12 C1106.00,359.16 1107.00,359.19 1108.00,359.22 C1109.00,359.26 1110.00,359.29 1111.00,359.33 C1112.00,359.37 1113.00,359.40 1114.00,359.44 C1115.00,359.47 1116.00,359.51 1117.00,359.54 C1118.00,359.58 1119.00,359.62 1120.00,359.65 C1121.00,359.69 1122.00,359.73 1123.00,359.76 C1124.00,359.80 1125.00,359.84 1126.00,359.88 C1127.00,359.91 1128.00,359.95 1129.00,359.99 C1130.00,360.03 1131.00,360.07 1132.00,360.10 C1133.00,360.14 1134.00,360.18 1135.00,360.22 C1136.00,360.26 1137.00,360.30 1138.00,360.34 C1139.00,360.38 1140.00,360.42 1141.00,360.46 C1142.00,360.50 1143.00,360.54 1144.00,360.58 C1145.00,360.62 1146.00,360.66 1147.00,360.70 C1148.00,360.75 1149.00,360.79 1150.00,360.83 C1151.00,360.87 1152.00,360.91 1153.00,360.95 C1154.00,361.00 1155.00,361.04 1156.00,361.08 C1157.00,361.13 1158.00,361.17 1159.00,361.21 C1160.00,361.26 1161.00,361.30 1162.00,361.34 C1163.00,361.39 1164.00,361.43 1165.00,361.48 C1166.00,361.52 1167.00,361.56 1168.00,361.61 C1169.00,361.65 1170.00,361.70 1171.00,361.75 C1172.00,361.79 1173.00,361.84 1174.00,361.88 C1175.00,361.93 1176.00,361.97 1177.00,362.02 C1178.00,362.07 1179.00,362.11 1180.00,362.16 C1181.00,362.21 1182.00,362.25 1183.00,362.30 C1184.00,362.35 1185.00,362.40 1186.00,362.44 C1187.00,362.49 1188.00,362.54 1189.00,362.59 C1190.00,362.64 1191.00,362.68 1192.00,362.73 C1193.00,362.78 1194.00,362.83 1195.00,362.88 C1196.00,362.93 1197.00,362.97 1198.00,363.02 C1199.00,363.07 1200.00,363.12 1201.00,363.17 C1202.00,363.22 1203.00,363.27 1204.00,363.32 C1205.00,363.37 1206.00,363.42 1207.00,363.47 C1208.00,363.52 1209.00,363.57 1210.00,363.62 C1211.00,363.67 1212.00,363.72 1213.00,363.77 C1214.00,363.82 1215.00,363.87 1216.00,363.92 C1217.00,363.97 1218.00,364.02 1219.00,364.07 C1220.00,364.12 1221.00,364.17 1222.00,364.22 C1223.00,364.27 1224.00,364.32 1225.00,364.38 C1226.00,364.43 1227.00,364.48 1228.00,364.53 C1229.00,364.58 1230.00,364.63 1231.00,364.68 C1232.00,364.74 1233.00,364.79 1234.00,364.84 C1235.00,364.89 1236.00,364.94 1237.00,365.00 C1238.00,365.05 1239.00,365.10 1240.00,365.15 C1241.00,365.21 1242.00,365.26 1243.00,365.31 C1244.00,365.36 1245.00,365.42 1246.00,365.47 C1247.00,365.52 1248.00,365.58 1249.00,365.63 C1250.00,365.68 1251.00,365.73 1252.00,365.79 C1253.00,365.84 1254.00,365.89 1255.00,365.95 C1256.00,366.00 1257.00,366.05 1258.00,366.11 C1259.00,366.16 1260.00,366.22 1261.00,366.27 C1262.00,366.32 1263.00,366.38 1264.00,366.43 C1265.00,366.48 1266.00,366.54 1267.00,366.59 C1268.00,366.65 1269.00,366.70 1270.00,366.76 C1271.00,366.81 1272.00,366.86 1273.00,366.92 C1274.00,366.97 1275.00,367.03 1276.00,367.08 C1277.00,367.13 1278.00,367.19 1279.00,367.24 C1280.00,367.30 1281.00,367.35 1282.00,367.41 C1283.00,367.46 1284.00,367.52 1285.00,367.57 C1286.00,367.62 1287.00,367.68 1288.00,367.73 C1289.00,367.79 1290.00,367.84 1291.00,367.90 C1292.00,367.95 1293.00,368.01 1294.00,368.06 C1295.00,368.12 1296.00,368.17 1297.00,368.22 C1298.00,368.28 1299.00,368.33 1300.00,368.39 C1301.00,368.44 1302.00,368.50 1303.00,368.55 C1304.00,368.61 1305.00,368.66 1306.00,368.72 C1307.00,368.77 1308.00,368.83 1309.00,368.88 C1310.00,368.93 1311.00,368.99 1312.00,369.04 C1313.00,369.10 1314.00,369.15 1315.00,369.21 C1316.00,369.26 1317.00,369.32 1318.00,369.37 C1319.00,369.42 1320.00,369.48 1321.00,369.53 C1322.00,369.59 1323.00,369.64 1324.00,369.70 C1325.00,369.75 1326.00,369.80 1327.00,369.86 C1328.00,369.91 1329.00,369.97 1330.00,370.02 C1331.00,370.08 1332.00,370.13 1333.00,370.18 C1334.00,370.24 1335.00,370.29 1336.00,370.35 C1337.00,370.40 1338.00,370.45 1339.00,370.51 C1340.00,370.56 1341.00,370.61 1342.00,370.67 C1343.00,370.72 1344.00,370.77 1345.00,370.83 C1346.00,370.88 1347.00,370.93 1348.00,370.99 C1349.00,371.04 1350.00,371.09 1351.00,371.15 C1352.00,371.20 1353.00,371.25 1354.00,371.31 C1355.00,371.36 1356.00,371.41 1357.00,371.46 C1358.00,371.52 1359.00,371.57 1360.00,371.62 C1361.00,371.67 1362.00,371.73 1363.00,371.78 C1364.00,371.83 1365.00,371.88 1366.00,371.93 C1367.00,371.99 1368.00,372.04 1369.00,372.09 C1370.00,372.14 1371.00,372.19 1372.00,372.25 C1373.00,372.30 1374.00,372.35 1375.00,372.40 C1376.00,372.45 1377.00,372.50 1378.00,372.55 C1379.00,372.60 1380.00,372.65 1381.00,372.71 C1382.00,372.76 1383.00,372.81 1384.00,372.86 C1385.00,372.91 1386.00,372.96 1387.00,373.01 C1388.00,373.06 1389.00,373.11 1390.00,373.16 C1391.00,373.21 1392.00,373.26 1393.00,373.31 C1394.00,373.36 1395.00,373.41 1396.00,373.46 C1397.00,373.51 1398.00,373.56 1399.00,373.61 C1400.00,373.66 1401.00,373.71 1402.00,373.75 C1403.00,373.80 1404.00,373.85 1405.00,373.90 C1406.00,373.95 1407.00,374.00 1408.00,374.05 C1409.00,374.10 1410.00,374.15 1411.00,374.20 C1412.00,374.24 1413.00,374.29 1414.00,374.34 C1415.00,374.39 1416.00,374.44 1417.00,374.49 C1418.00,374.53 1419.00,374.58 1420.00,374.63 C1421.00,374.68 1422.00,374.73 1423.00,374.77 C1424.00,374.82 1425.00,374.87 1426.00,374.92 C1427.00,374.97 1428.00,375.01 1429.00,375.06 C1430.00,375.11 1431.00,375.16 1432.00,375.21 C1433.00,375.25 1434.00,375.30 1435.00,375.35 C1436.00,375.40 1437.00,375.44 1438.00,375.49 C1439.00,375.54 1440.00,375.59 1441.00,375.63 C1442.00,375.68 1443.00,375.73 1444.00,375.77 C1445.00,375.82 1446.00,375.87 1447.00,375.92 C1448.00,375.96 1448.90,376.01 1450.00,376.06 C1451.10,376.11 1453.00,376.20 1453.60,376.23"/>
<path d="M103.00,458.99 C103.50,459.20 105.00,459.84 106.00,460.26 C107.00,460.68 108.00,461.09 109.00,461.50 C110.00,461.90 111.00,462.31 112.00,462.70 C113.00,463.10 114.00,463.49 115.00,463.87 C116.00,464.25 117.00,464.63 118.00,465.00 C119.00,465.37 120.00,465.74 121.00,466.10 C122.00,466.46 123.00,466.81 124.00,467.15 C125.00,467.49 126.00,467.83 127.00,468.16 C128.00,468.49 129.00,468.80 130.00,469.11 C131.00,469.42 132.00,469.72 133.00,470.01 C134.00,470.30 135.00,470.57 136.00,470.84 C137.00,471.10 138.00,471.36 139.00,471.59 C140.00,471.83 141.00,472.06 142.00,472.26 C143.00,472.47 144.00,472.66 145.00,472.84 C146.00,473.01 147.00,473.17 148.00,473.31 C149.00,473.44 150.00,473.56 151.00,473.65 C152.00,473.75 153.00,473.82 154.00,473.88 C155.00,473.93 156.00,473.96 157.00,473.98 C158.00,473.99 159.00,473.99 160.00,473.97 C161.00,473.94 162.00,473.90 163.00,473.84 C164.00,473.78 165.00,473.70 166.00,473.61 C167.00,473.51 168.00,473.39 169.00,473.26 C170.00,473.13 171.00,472.98 172.00,472.81 C173.00,472.64 174.00,472.45 175.00,472.25 C176.00,472.04 177.00,471.82 178.00,471.58 C179.00,471.34 180.00,471.08 181.00,470.80 C182.00,470.52 183.00,470.22 184.00,469.90 C185.00,469.58 186.00,469.25 187.00,468.89 C188.00,468.54 189.00,468.16 190.00,467.77 C191.00,467.37 192.00,466.96 193.00,466.52 C194.00,466.09 195.00,465.63 196.00,465.15 C197.00,464.66 198.00,464.16 199.00,463.62 C200.00,463.08 201.00,462.52 202.00,461.93 C203.00,461.34 204.00,460.72 205.00,460.08 C206.00,459.43 207.00,458.75 208.00,458.04 C209.00,457.33 210.00,456.59 211.00,455.83 C212.00,455.06 213.00,454.26 214.00,453.44 C215.00,452.61 216.00,451.75 217.00,450.87 C218.00,449.99 219.00,449.09 220.00,448.16 C221.00,447.22 222.00,446.27 223.00,445.29 C224.00,444.32 225.00,443.32 226.00,442.31 C227.00,441.30 228.00,440.27 229.00,439.23 C230.00,438.19 231.00,437.14 232.00,436.08 C233.00,435.03 234.00,433.97 235.00,432.91 C236.00,431.86 237.00,430.81 238.00,429.78 C239.00,428.74 240.00,427.72 241.00,426.72 C242.00,425.73 243.00,424.75 244.00,423.81 C245.00,422.88 246.00,421.96 247.00,421.10 C248.00,420.24 249.00,419.41 250.00,418.63 C251.00,417.86 252.00,417.13 253.00,416.47 C254.00,415.80 255.00,415.18 256.00,414.64 C257.00,414.09 258.00,413.61 259.00,413.19 C260.00,412.78 261.00,412.43 262.00,412.16 C263.00,411.89 264.00,411.70 265.00,411.57 C266.00,411.45 267.00,411.43 268.00,411.43 C269.00,411.44 270.00,411.50 271.00,411.61 C272.00,411.71 273.00,411.86 274.00,412.05 C275.00,412.24 276.00,412.48 277.00,412.76 C278.00,413.03 279.00,413.35 280.00,413.71 C281.00,414.06 282.00,414.46 283.00,414.88 C284.00,415.31 285.00,415.78 286.00,416.27 C287.00,416.77 288.00,417.30 289.00,417.85 C290.00,418.40 291.00,418.99 292.00,419.60 C293.00,420.20 294.00,420.84 295.00,421.48 C296.00,422.13 297.00,422.81 298.00,423.49 C299.00,424.18 300.00,424.88 301.00,425.60 C302.00,426.31 303.00,427.04 304.00,427.77 C305.00,428.50 306.00,429.24 307.00,429.99 C308.00,430.73 309.00,431.48 310.00,432.22 C311.00,432.96 312.00,433.71 313.00,434.44 C314.00,435.18 315.00,435.92 316.00,436.65 C317.00,437.38 318.00,438.10 319.00,438.82 C320.00,439.54 321.00,440.25 322.00,440.95 C323.00,441.65 324.00,442.35 325.00,443.03 C326.00,443.71 327.00,444.39 328.00,445.05 C329.00,445.71 330.00,446.36 331.00,447.00 C332.00,447.64 333.00,448.26 334.00,448.88 C335.00,449.49 336.00,450.09 337.00,450.68 C338.00,451.26 339.00,451.83 340.00,452.39 C341.00,452.95 342.00,453.49 343.00,454.02 C344.00,454.55 345.00,455.07 346.00,455.57 C347.00,456.07 348.00,456.56 349.00,457.03 C350.00,457.50 351.00,457.96 352.00,458.40 C353.00,458.85 354.00,459.28 355.00,459.69 C356.00,460.11 357.00,460.51 358.00,460.90 C359.00,461.28 360.00,461.66 361.00,462.02 C362.00,462.38 363.00,462.72 364.00,463.05 C365.00,463.38 366.00,463.70 367.00,464.01 C368.00,464.31 369.00,464.60 370.00,464.88 C371.00,465.16 372.00,465.43 373.00,465.69 C374.00,465.94 375.00,466.19 376.00,466.42 C377.00,466.65 378.00,466.87 379.00,467.09 C380.00,467.30 381.00,467.50 382.00,467.69 C383.00,467.88 384.00,468.07 385.00,468.24 C386.00,468.42 387.00,468.58 388.00,468.74 C389.00,468.90 390.00,469.05 391.00,469.20 C392.00,469.34 393.00,469.48 394.00,469.61 C395.00,469.74 396.00,469.86 397.00,469.98 C398.00,470.10 399.00,470.21 400.00,470.31 C401.00,470.42 402.00,470.51 403.00,470.61 C404.00,470.70 405.00,470.78 406.00,470.85 C407.00,470.93 408.00,471.00 409.00,471.06 C410.00,471.13 411.00,471.18 412.00,471.23 C413.00,471.28 414.00,471.32 415.00,471.35 C416.00,471.38 417.00,471.41 418.00,471.43 C419.00,471.45 420.00,471.46 421.00,471.46 C422.00,471.46 423.00,471.46 424.00,471.44 C425.00,471.43 426.00,471.40 427.00,471.37 C428.00,471.34 429.00,471.30 430.00,471.25 C431.00,471.20 432.00,471.14 433.00,471.07 C434.00,471.00 435.00,470.92 436.00,470.84 C437.00,470.75 438.00,470.65 439.00,470.55 C440.00,470.45 441.00,470.33 442.00,470.21 C443.00,470.09 444.00,469.96 445.00,469.82 C446.00,469.68 447.00,469.53 448.00,469.37 C449.00,469.22 450.00,469.05 451.00,468.88 C452.00,468.70 453.00,468.52 454.00,468.33 C455.00,468.13 456.00,467.93 457.00,467.72 C458.00,467.51 459.00,467.29 460.00,467.06 C461.00,466.84 462.00,466.60 463.00,466.35 C464.00,466.10 465.00,465.84 466.00,465.57 C467.00,465.30 468.00,465.03 469.00,464.74 C470.00,464.45 471.00,464.15 472.00,463.83 C473.00,463.52 474.00,463.20 475.00,462.86 C476.00,462.52 477.00,462.18 478.00,461.81 C479.00,461.45 480.00,461.06 481.00,460.66 C482.00,460.26 483.00,459.82 484.00,459.38 C485.00,458.95 486.00,458.50 487.00,458.03 C488.00,457.57 489.00,457.09 490.00,456.60 C491.00,456.11 492.00,455.60 493.00,455.07 C494.00,454.54 495.00,454.00 496.00,453.44 C497.00,452.87 498.00,452.29 499.00,451.68 C500.00,451.07 501.00,450.44 502.00,449.78 C503.00,449.13 504.00,448.44 505.00,447.73 C506.00,447.01 507.00,446.27 508.00,445.49 C509.00,444.71 510.00,443.90 511.00,443.05 C512.00,442.19 513.00,441.30 514.00,440.36 C515.00,439.42 516.00,438.44 517.00,437.40 C518.00,436.35 519.00,435.27 520.00,434.11 C521.00,432.96 522.00,431.74 523.00,430.45 C524.00,429.17 525.00,427.82 526.00,426.38 C527.00,424.95 528.00,423.44 529.00,421.84 C530.00,420.24 531.00,418.57 532.00,416.79 C533.00,415.01 534.00,413.14 535.00,411.16 C536.00,409.17 537.00,407.09 538.00,404.89 C539.00,402.69 540.00,400.38 541.00,397.94 C542.00,395.51 543.00,392.95 544.00,390.27 C545.00,387.59 546.00,384.78 547.00,381.86 C548.00,378.94 549.00,375.88 550.00,372.73 C551.00,369.59 552.00,366.30 553.00,362.97 C554.00,359.63 555.00,356.17 556.00,352.72 C557.00,349.27 558.00,345.72 559.00,342.26 C560.00,338.80 561.00,335.29 562.00,331.97 C563.00,328.65 564.00,325.34 565.00,322.35 C566.00,319.35 567.00,316.46 568.00,314.00 C569.00,311.53 570.00,309.29 571.00,307.55 C572.00,305.82 573.00,304.43 574.00,303.58 C575.00,302.73 576.00,302.37 577.00,302.48 C578.00,302.59 579.00,303.22 580.00,304.23 C581.00,305.25 582.00,306.78 583.00,308.56 C584.00,310.34 585.00,312.57 586.00,314.91 C587.00,317.24 588.00,319.90 589.00,322.59 C590.00,325.27 591.00,328.15 592.00,331.01 C593.00,333.87 594.00,336.84 595.00,339.77 C596.00,342.70 597.00,345.67 598.00,348.60 C599.00,351.53 600.00,354.46 601.00,357.35 C602.00,360.24 603.00,363.11 604.00,365.93 C605.00,368.76 606.00,371.55 607.00,374.29 C608.00,377.03 609.00,379.73 610.00,382.37 C611.00,385.02 612.00,387.61 613.00,390.15 C614.00,392.69 615.00,395.18 616.00,397.61 C617.00,400.04 618.00,402.42 619.00,404.73 C620.00,407.05 621.00,409.31 622.00,411.51 C623.00,413.71 624.00,415.85 625.00,417.93 C626.00,420.01 627.00,422.04 628.00,424.00 C629.00,425.97 630.00,427.88 631.00,429.73 C632.00,431.59 633.00,433.38 634.00,435.12 C635.00,436.86 636.00,438.55 637.00,440.20 C638.00,441.84 639.00,443.43 640.00,444.97 C641.00,446.52 642.00,448.01 643.00,449.46 C644.00,450.92 645.00,452.32 646.00,453.69 C647.00,455.06 648.00,456.38 649.00,457.67 C650.00,458.96 651.00,460.20 652.00,461.41 C653.00,462.63 654.00,463.80 655.00,464.94 C656.00,466.08 657.00,467.19 658.00,468.27 C659.00,469.34 660.00,470.39 661.00,471.40 C662.00,472.42 663.00,473.40 664.00,474.36 C665.00,475.32 666.00,476.25 667.00,477.16 C668.00,478.07 669.00,478.96 670.00,479.81 C671.00,480.66 672.00,481.47 673.00,482.26 C674.00,483.06 675.00,483.83 676.00,484.58 C677.00,485.33 678.00,486.05 679.00,486.76 C680.00,487.47 681.00,488.15 682.00,488.81 C683.00,489.48 684.00,490.12 685.00,490.75 C686.00,491.38 687.00,491.99 688.00,492.58 C689.00,493.17 690.00,493.74 691.00,494.30 C692.00,494.86 693.00,495.40 694.00,495.92 C695.00,496.45 696.00,496.96 697.00,497.46 C698.00,497.95 699.00,498.43 700.00,498.90 C701.00,499.36 702.00,499.81 703.00,500.25 C704.00,500.69 705.00,501.12 706.00,501.53 C707.00,501.95 708.00,502.35 709.00,502.74 C710.00,503.13 711.00,503.51 712.00,503.88 C713.00,504.25 714.00,504.60 715.00,504.95 C716.00,505.30 717.00,505.64 718.00,505.97 C719.00,506.30 720.00,506.62 721.00,506.93 C722.00,507.24 723.00,507.55 724.00,507.84 C725.00,508.14 726.00,508.42 727.00,508.70 C728.00,508.99 729.00,509.26 730.00,509.53 C731.00,509.79 732.00,510.05 733.00,510.31 C734.00,510.56 735.00,510.81 736.00,511.05 C737.00,511.29 738.00,511.53 739.00,511.76 C740.00,511.99 741.00,512.21 742.00,512.44 C743.00,512.66 744.00,512.87 745.00,513.09 C746.00,513.30 747.00,513.51 748.00,513.71 C749.00,513.91 750.00,514.11 751.00,514.31 C752.00,514.51 753.00,514.70 754.00,514.89 C755.00,515.08 756.00,515.26 757.00,515.45 C758.00,515.63 759.00,515.81 760.00,515.99 C761.00,516.17 762.00,516.35 763.00,516.52 C764.00,516.70 765.00,516.87 766.00,517.04 C767.00,517.21 768.00,517.38 769.00,517.54 C770.00,517.71 771.00,517.87 772.00,518.04 C773.00,518.20 774.00,518.37 775.00,518.53 C776.00,518.69 777.00,518.85 778.00,519.01 C779.00,519.17 780.00,519.33 781.00,519.49 C782.00,519.65 783.00,519.81 784.00,519.97 C785.00,520.13 786.00,520.29 787.00,520.45 C788.00,520.60 789.00,520.76 790.00,520.92 C791.00,521.08 792.00,521.23 793.00,521.39 C794.00,521.54 795.00,521.70 796.00,521.85 C797.00,522.01 798.00,522.16 799.00,522.32 C800.00,522.47 801.00,522.63 802.00,522.78 C803.00,522.93 804.00,523.08 805.00,523.23 C806.00,523.39 807.00,523.54 808.00,523.69 C809.00,523.84 810.00,523.99 811.00,524.14 C812.00,524.28 813.00,524.43 814.00,524.58 C815.00,524.73 816.00,524.87 817.00,525.02 C818.00,525.16 819.00,525.31 820.00,525.45 C821.00,525.60 822.00,525.74 823.00,525.88 C824.00,526.02 825.00,526.16 826.00,526.30 C827.00,526.44 828.00,526.58 829.00,526.72 C830.00,526.86 831.00,526.99 832.00,527.13 C833.00,527.26 834.00,527.40 835.00,527.53 C836.00,527.66 837.00,527.79 838.00,527.92 C839.00,528.05 840.00,528.18 841.00,528.31 C842.00,528.43 843.00,528.56 844.00,528.68 C845.00,528.81 846.00,528.93 847.00,529.05 C848.00,529.17 849.00,529.29 850.00,529.41 C851.00,529.52 852.00,529.64 853.00,529.75 C854.00,529.87 855.00,529.98 856.00,530.09 C857.00,530.20 858.00,530.31 859.00,530.41 C860.00,530.52 861.00,530.62 862.00,530.72 C863.00,530.83 864.00,530.93 865.00,531.02 C866.00,531.12 867.00,531.22 868.00,531.31 C869.00,531.41 870.00,531.50 871.00,531.59 C872.00,531.68 873.00,531.77 874.00,531.85 C875.00,531.94 876.00,532.02 877.00,532.11 C878.00,532.19 879.00,532.27 880.00,532.35 C881.00,532.43 882.00,532.51 883.00,532.59 C884.00,532.66 885.00,532.74 886.00,532.81 C887.00,532.88 888.00,532.95 889.00,533.02 C890.00,533.09 891.00,533.16 892.00,533.23 C893.00,533.30 894.00,533.36 895.00,533.43 C896.00,533.49 897.00,533.55 898.00,533.61 C899.00,533.68 900.00,533.74 901.00,533.79 C902.00,533.85 903.00,533.91 904.00,533.97 C905.00,534.02 906.00,534.08 907.00,534.13 C908.00,534.18 909.00,534.24 910.00,534.29 C911.00,534.34 912.00,534.39 913.00,534.44 C914.00,534.48 915.00,534.53 916.00,534.58 C917.00,534.62 918.00,534.67 919.00,534.71 C920.00,534.76 921.00,534.80 922.00,534.84 C923.00,534.88 924.00,534.93 925.00,534.97 C926.00,535.01 927.00,535.04 928.00,535.08 C929.00,535.12 930.00,535.16 931.00,535.19 C932.00,535.23 933.00,535.27 934.00,535.30 C935.00,535.33 936.00,535.37 937.00,535.40 C938.00,535.43 939.00,535.47 940.00,535.50 C941.00,535.53 942.00,535.56 943.00,535.59 C944.00,535.62 945.00,535.65 946.00,535.68 C947.00,535.71 948.00,535.73 949.00,535.76 C950.00,535.79 951.00,535.81 952.00,535.84 C953.00,535.87 954.00,535.89 955.00,535.92 C956.00,535.94 957.00,535.97 958.00,535.99 C959.00,536.01 960.00,536.04 961.00,536.06 C962.00,536.08 963.00,536.11 964.00,536.13 C965.00,536.15 966.00,536.17 967.00,536.19 C968.00,536.21 969.00,536.24 970.00,536.26 C971.00,536.28 972.00,536.30 973.00,536.32 C974.00,536.34 975.00,536.35 976.00,536.37 C977.00,536.39 978.00,536.41 979.00,536.43 C980.00,536.45 981.00,536.46 982.00,536.48 C983.00,536.50 984.00,536.52 985.00,536.53 C986.00,536.55 987.00,536.57 988.00,536.58 C989.00,536.60 990.00,536.61 991.00,536.63 C992.00,536.65 993.00,536.66 994.00,536.68 C995.00,536.69 996.00,536.71 997.00,536.72 C998.00,536.74 999.00,536.75 1000.00,536.76 C1001.00,536.78 1002.00,536.79 1003.00,536.80 C1004.00,536.82 1005.00,536.83 1006.00,536.84 C1007.00,536.86 1008.00,536.87 1009.00,536.88 C1010.00,536.90 1011.00,536.91 1012.00,536.92 C1013.00,536.93 1014.00,536.95 1015.00,536.96 C1016.00,536.97 1017.00,536.98 1018.00,537.00 C1019.00,537.01 1020.00,537.02 1021.00,537.03 C1022.00,537.04 1023.00,537.05 1024.00,537.07 C1025.00,537.08 1026.00,537.09 1027.00,537.10 C1028.00,537.11 1029.00,537.12 1030.00,537.14 C1031.00,537.15 1032.00,537.16 1033.00,537.17 C1034.00,537.18 1035.00,537.19 1036.00,537.20 C1037.00,537.22 1038.00,537.23 1039.00,537.24 C1040.00,537.25 1041.00,537.26 1042.00,537.28 C1043.00,537.29 1044.00,537.30 1045.00,537.31 C1046.00,537.32 1047.00,537.34 1048.00,537.35 C1049.00,537.36 1050.00,537.37 1051.00,537.38 C1052.00,537.40 1053.00,537.41 1054.00,537.42 C1055.00,537.44 1056.00,537.45 1057.00,537.46 C1058.00,537.48 1059.00,537.49 1060.00,537.50 C1061.00,537.52 1062.00,537.53 1063.00,537.55 C1064.00,537.56 1065.00,537.57 1066.00,537.59 C1067.00,537.60 1068.00,537.62 1069.00,537.63 C1070.00,537.65 1071.00,537.67 1072.00,537.68 C1073.00,537.70 1074.00,537.71 1075.00,537.73 C1076.00,537.75 1077.00,537.77 1078.00,537.78 C1079.00,537.80 1080.00,537.82 1081.00,537.84 C1082.00,537.86 1083.00,537.87 1084.00,537.89 C1085.00,537.91 1086.00,537.93 1087.00,537.95 C1088.00,537.97 1089.00,537.99 1090.00,538.02 C1091.00,538.04 1092.00,538.06 1093.00,538.08 C1094.00,538.10 1095.00,538.12 1096.00,538.15 C1097.00,538.17 1098.00,538.19 1099.00,538.22 C1100.00,538.24 1101.00,538.26 1102.00,538.29 C1103.00,538.31 1104.00,538.34 1105.00,538.36 C1106.00,538.39 1107.00,538.41 1108.00,538.44 C1109.00,538.47 1110.00,538.49 1111.00,538.52 C1112.00,538.55 1113.00,538.58 1114.00,538.60 C1115.00,538.63 1116.00,538.66 1117.00,538.69 C1118.00,538.72 1119.00,538.75 1120.00,538.78 C1121.00,538.81 1122.00,538.84 1123.00,538.87 C1124.00,538.90 1125.00,538.93 1126.00,538.96 C1127.00,538.99 1128.00,539.02 1129.00,539.05 C1130.00,539.09 1131.00,539.12 1132.00,539.15 C1133.00,539.18 1134.00,539.22 1135.00,539.25 C1136.00,539.28 1137.00,539.32 1138.00,539.35 C1139.00,539.39 1140.00,539.42 1141.00,539.46 C1142.00,539.49 1143.00,539.53 1144.00,539.57 C1145.00,539.60 1146.00,539.64 1147.00,539.67 C1148.00,539.71 1149.00,539.75 1150.00,539.79 C1151.00,539.82 1152.00,539.86 1153.00,539.90 C1154.00,539.94 1155.00,539.98 1156.00,540.02 C1157.00,540.05 1158.00,540.09 1159.00,540.13 C1160.00,540.17 1161.00,540.21 1162.00,540.25 C1163.00,540.29 1164.00,540.33 1165.00,540.37 C1166.00,540.42 1167.00,540.46 1168.00,540.50 C1169.00,540.54 1170.00,540.58 1171.00,540.62 C1172.00,540.67 1173.00,540.71 1174.00,540.75 C1175.00,540.79 1176.00,540.84 1177.00,540.88 C1178.00,540.92 1179.00,540.97 1180.00,541.01 C1181.00,541.05 1182.00,541.10 1183.00,541.14 C1184.00,541.18 1185.00,541.23 1186.00,541.27 C1187.00,541.32 1188.00,541.36 1189.00,541.40 C1190.00,541.45 1191.00,541.49 1192.00,541.54 C1193.00,541.58 1194.00,541.63 1195.00,541.67 C1196.00,541.72 1197.00,541.76 1198.00,541.81 C1199.00,541.86 1200.00,541.90 1201.00,541.95 C1202.00,541.99 1203.00,542.04 1204.00,542.08 C1205.00,542.13 1206.00,542.17 1207.00,542.22 C1208.00,542.27 1209.00,542.31 1210.00,542.36 C1211.00,542.40 1212.00,542.45 1213.00,542.50 C1214.00,542.54 1215.00,542.59 1216.00,542.63 C1217.00,542.68 1218.00,542.73 1219.00,542.77 C1220.00,542.82 1221.00,542.87 1222.00,542.91 C1223.00,542.96 1224.00,543.01 1225.00,543.05 C1226.00,543.10 1227.00,543.15 1228.00,543.19 C1229.00,543.24 1230.00,543.29 1231.00,543.34 C1232.00,543.38 1233.00,543.43 1234.00,543.48 C1235.00,543.53 1236.00,543.57 1237.00,543.62 C1238.00,543.67 1239.00,543.72 1240.00,543.77 C1241.00,543.81 1242.00,543.86 1243.00,543.91 C1244.00,543.96 1245.00,544.01 1246.00,544.05 C1247.00,544.10 1248.00,544.15 1249.00,544.20 C1250.00,544.25 1251.00,544.30 1252.00,544.35 C1253.00,544.40 1254.00,544.44 1255.00,544.49 C1256.00,544.54 1257.00,544.59 1258.00,544.64 C1259.00,544.69 1260.00,544.74 1261.00,544.79 C1262.00,544.84 1263.00,544.89 1264.00,544.94 C1265.00,544.99 1266.00,545.04 1267.00,545.09 C1268.00,545.14 1269.00,545.19 1270.00,545.24 C1271.00,545.29 1272.00,545.34 1273.00,545.39 C1274.00,545.44 1275.00,545.49 1276.00,545.54 C1277.00,545.59 1278.00,545.64 1279.00,545.69 C1280.00,545.74 1281.00,545.79 1282.00,545.84 C1283.00,545.89 1284.00,545.94 1285.00,545.99 C1286.00,546.04 1287.00,546.09 1288.00,546.14 C1289.00,546.19 1290.00,546.24 1291.00,546.29 C1292.00,546.34 1293.00,546.39 1294.00,546.44 C1295.00,546.50 1296.00,546.55 1297.00,546.60 C1298.00,546.65 1299.00,546.70 1300.00,546.75 C1301.00,546.80 1302.00,546.85 1303.00,546.90 C1304.00,546.95 1305.00,547.01 1306.00,547.06 C1307.00,547.11 1308.00,547.16 1309.00,547.21 C1310.00,547.26 1311.00,547.31 1312.00,547.36 C1313.00,547.41 1314.00,547.47 1315.00,547.52 C1316.00,547.57 1317.00,547.62 1318.00,547.67 C1319.00,547.72 1320.00,547.77 1321.00,547.82 C1322.00,547.88 1323.00,547.93 1324.00,547.98 C1325.00,548.03 1326.00,548.08 1327.00,548.13 C1328.00,548.18 1329.00,548.23 1330.00,548.29 C1331.00,548.34 1332.00,548.39 1333.00,548.44 C1334.00,548.49 1335.00,548.54 1336.00,548.59 C1337.00,548.65 1338.00,548.70 1339.00,548.75 C1340.00,548.80 1341.00,548.85 1342.00,548.90 C1343.00,548.95 1344.00,549.01 1345.00,549.06 C1346.00,549.11 1347.00,549.16 1348.00,549.21 C1349.00,549.26 1350.00,549.31 1351.00,549.37 C1352.00,549.42 1353.00,549.47 1354.00,549.52 C1355.00,549.57 1356.00,549.62 1357.00,549.67 C1358.00,549.73 1359.00,549.78 1360.00,549.83 C1361.00,549.88 1362.00,549.93 1363.00,549.98 C1364.00,550.04 1365.00,550.09 1366.00,550.14 C1367.00,550.19 1368.00,550.24 1369.00,550.29 C1370.00,550.34 1371.00,550.40 1372.00,550.45 C1373.00,550.50 1374.00,550.55 1375.00,550.60 C1376.00,550.66 1377.00,550.71 1378.00,550.76 C1379.00,550.81 1380.00,550.86 1381.00,550.91 C1382.00,550.97 1383.00,551.02 1384.00,551.07 C1385.00,551.12 1386.00,551.18 1387.00,551.23 C1388.00,551.28 1389.00,551.33 1390.00,551.38 C1391.00,551.44 1392.00,551.49 1393.00,551.54 C1394.00,551.59 1395.00,551.65 1396.00,551.70 C1397.00,551.75 1398.00,551.81 1399.00,551.86 C1400.00,551.91 1401.00,551.96 1402.00,552.02 C1403.00,552.07 1404.00,552.12 1405.00,552.18 C1406.00,552.23 1407.00,552.29 1408.00,552.34 C1409.00,552.39 1410.00,552.45 1411.00,552.50 C1412.00,552.55 1413.00,552.61 1414.00,552.66 C1415.00,552.72 1416.00,552.77 1417.00,552.83 C1418.00,552.88 1419.00,552.94 1420.00,552.99 C1421.00,553.05 1422.00,553.10 1423.00,553.16 C1424.00,553.21 1425.00,553.27 1426.00,553.32 C1427.00,553.38 1428.00,553.44 1429.00,553.49 C1430.00,553.55 1431.00,553.61 1432.00,553.66 C1433.00,553.72 1434.00,553.78 1435.00,553.83 C1436.00,553.89 1437.00,553.95 1438.00,554.01 C1439.00,554.07 1440.00,554.12 1441.00,554.18 C1442.00,554.24 1443.00,554.30 1444.00,554.36 C1445.00,554.42 1446.00,554.48 1447.00,554.54 C1448.00,554.60 1448.90,554.65 1450.00,554.72 C1451.10,554.78 1453.00,554.90 1453.60,554.94"/>
<path d="M103.00,665.79 C103.50,666.01 105.00,666.68 106.00,667.11 C107.00,667.55 108.00,667.97 109.00,668.38 C110.00,668.80 111.00,669.20 112.00,669.60 C113.00,670.00 114.00,670.38 115.00,670.77 C116.00,671.15 117.00,671.52 118.00,671.89 C119.00,672.26 120.00,672.62 121.00,672.97 C122.00,673.32 123.00,673.67 124.00,674.01 C125.00,674.34 126.00,674.67 127.00,674.99 C128.00,675.31 129.00,675.63 130.00,675.93 C131.00,676.23 132.00,676.52 133.00,676.80 C134.00,677.08 135.00,677.35 136.00,677.61 C137.00,677.87 138.00,678.11 139.00,678.34 C140.00,678.57 141.00,678.78 142.00,678.98 C143.00,679.18 144.00,679.36 145.00,679.52 C146.00,679.68 147.00,679.83 148.00,679.95 C149.00,680.07 150.00,680.17 151.00,680.25 C152.00,680.33 153.00,680.38 154.00,680.41 C155.00,680.44 156.00,680.45 157.00,680.44 C158.00,680.43 159.00,680.40 160.00,680.35 C161.00,680.30 162.00,680.23 163.00,680.14 C164.00,680.05 165.00,679.94 166.00,679.82 C167.00,679.69 168.00,679.54 169.00,679.37 C170.00,679.21 171.00,679.02 172.00,678.82 C173.00,678.61 174.00,678.39 175.00,678.14 C176.00,677.90 177.00,677.64 178.00,677.35 C179.00,677.07 180.00,676.76 181.00,676.44 C182.00,676.11 183.00,675.77 184.00,675.40 C185.00,675.03 186.00,674.64 187.00,674.23 C188.00,673.82 189.00,673.39 190.00,672.93 C191.00,672.48 192.00,672.00 193.00,671.50 C194.00,670.99 195.00,670.46 196.00,669.91 C197.00,669.35 198.00,668.76 199.00,668.14 C200.00,667.53 201.00,666.88 202.00,666.20 C203.00,665.51 204.00,664.80 205.00,664.05 C206.00,663.30 207.00,662.52 208.00,661.71 C209.00,660.89 210.00,660.04 211.00,659.16 C212.00,658.28 213.00,657.36 214.00,656.41 C215.00,655.46 216.00,654.48 217.00,653.47 C218.00,652.47 219.00,651.43 220.00,650.37 C221.00,649.31 222.00,648.22 223.00,647.11 C224.00,646.00 225.00,644.87 226.00,643.73 C227.00,642.59 228.00,641.43 229.00,640.27 C230.00,639.11 231.00,637.93 232.00,636.76 C233.00,635.60 234.00,634.42 235.00,633.26 C236.00,632.11 237.00,630.95 238.00,629.83 C239.00,628.71 240.00,627.60 241.00,626.54 C242.00,625.47 243.00,624.43 244.00,623.44 C245.00,622.45 246.00,621.50 247.00,620.60 C248.00,619.71 249.00,618.86 250.00,618.09 C251.00,617.31 252.00,616.59 253.00,615.94 C254.00,615.29 255.00,614.71 256.00,614.21 C257.00,613.71 258.00,613.29 259.00,612.94 C260.00,612.60 261.00,612.34 262.00,612.16 C263.00,611.99 264.00,611.92 265.00,611.88 C266.00,611.84 267.00,611.85 268.00,611.90 C269.00,611.94 270.00,612.03 271.00,612.15 C272.00,612.27 273.00,612.44 274.00,612.64 C275.00,612.84 276.00,613.08 277.00,613.35 C278.00,613.63 279.00,613.94 280.00,614.28 C281.00,614.62 282.00,615.00 283.00,615.40 C284.00,615.81 285.00,616.25 286.00,616.71 C287.00,617.17 288.00,617.67 289.00,618.18 C290.00,618.70 291.00,619.24 292.00,619.81 C293.00,620.37 294.00,620.95 295.00,621.56 C296.00,622.16 297.00,622.78 298.00,623.42 C299.00,624.05 300.00,624.70 301.00,625.37 C302.00,626.03 303.00,626.70 304.00,627.38 C305.00,628.06 306.00,628.76 307.00,629.45 C308.00,630.14 309.00,630.84 310.00,631.54 C311.00,632.24 312.00,632.94 313.00,633.64 C314.00,634.34 315.00,635.04 316.00,635.74 C317.00,636.43 318.00,637.13 319.00,637.81 C320.00,638.50 321.00,639.18 322.00,639.86 C323.00,640.53 324.00,641.20 325.00,641.86 C326.00,642.52 327.00,643.18 328.00,643.82 C329.00,644.46 330.00,645.09 331.00,645.71 C332.00,646.33 333.00,646.94 334.00,647.53 C335.00,648.12 336.00,648.71 337.00,649.27 C338.00,649.84 339.00,650.39 340.00,650.93 C341.00,651.47 342.00,651.99 343.00,652.50 C344.00,653.00 345.00,653.49 346.00,653.97 C347.00,654.44 348.00,654.90 349.00,655.33 C350.00,655.77 351.00,656.19 352.00,656.60 C353.00,657.00 354.00,657.39 355.00,657.76 C356.00,658.13 357.00,658.48 358.00,658.82 C359.00,659.16 360.00,659.48 361.00,659.79 C362.00,660.10 363.00,660.39 364.00,660.67 C365.00,660.95 366.00,661.21 367.00,661.47 C368.00,661.72 369.00,661.96 370.00,662.19 C371.00,662.42 372.00,662.63 373.00,662.84 C374.00,663.05 375.00,663.24 376.00,663.43 C377.00,663.62 378.00,663.80 379.00,663.97 C380.00,664.14 381.00,664.31 382.00,664.47 C383.00,664.63 384.00,664.78 385.00,664.93 C386.00,665.08 387.00,665.22 388.00,665.37 C389.00,665.51 390.00,665.65 391.00,665.79 C392.00,665.93 393.00,666.07 394.00,666.20 C395.00,666.34 396.00,666.47 397.00,666.60 C398.00,666.73 399.00,666.85 400.00,666.97 C401.00,667.09 402.00,667.21 403.00,667.32 C404.00,667.43 405.00,667.53 406.00,667.63 C407.00,667.73 408.00,667.82 409.00,667.90 C410.00,667.99 411.00,668.06 412.00,668.13 C413.00,668.20 414.00,668.26 415.00,668.30 C416.00,668.35 417.00,668.39 418.00,668.42 C419.00,668.45 420.00,668.47 421.00,668.47 C422.00,668.48 423.00,668.47 424.00,668.45 C425.00,668.43 426.00,668.40 427.00,668.35 C428.00,668.30 429.00,668.24 430.00,668.16 C431.00,668.08 432.00,667.98 433.00,667.88 C434.00,667.77 435.00,667.64 436.00,667.50 C437.00,667.36 438.00,667.21 439.00,667.05 C440.00,666.88 441.00,666.70 442.00,666.51 C443.00,666.32 444.00,666.11 445.00,665.90 C446.00,665.68 447.00,665.45 448.00,665.21 C449.00,664.97 450.00,664.72 451.00,664.46 C452.00,664.20 453.00,663.92 454.00,663.64 C455.00,663.36 456.00,663.06 457.00,662.76 C458.00,662.46 459.00,662.14 460.00,661.82 C461.00,661.50 462.00,661.17 463.00,660.82 C464.00,660.48 465.00,660.13 466.00,659.77 C467.00,659.41 468.00,659.04 469.00,658.66 C470.00,658.28 471.00,657.89 472.00,657.49 C473.00,657.09 474.00,656.69 475.00,656.27 C476.00,655.85 477.00,655.42 478.00,654.97 C479.00,654.53 480.00,654.07 481.00,653.60 C482.00,653.12 483.00,652.64 484.00,652.13 C485.00,651.63 486.00,651.11 487.00,650.58 C488.00,650.05 489.00,649.50 490.00,648.93 C491.00,648.36 492.00,647.77 493.00,647.16 C494.00,646.55 495.00,645.92 496.00,645.26 C497.00,644.60 498.00,643.92 499.00,643.21 C500.00,642.50 501.00,641.76 502.00,640.99 C503.00,640.22 504.00,639.42 505.00,638.59 C506.00,637.75 507.00,636.88 508.00,635.96 C509.00,635.05 510.00,634.10 511.00,633.10 C512.00,632.10 513.00,631.06 514.00,629.97 C515.00,628.87 516.00,627.73 517.00,626.53 C518.00,625.32 519.00,624.07 520.00,622.74 C521.00,621.41 522.00,620.03 523.00,618.56 C524.00,617.10 525.00,615.57 526.00,613.95 C527.00,612.34 528.00,610.65 529.00,608.85 C530.00,607.06 531.00,605.19 532.00,603.21 C533.00,601.23 534.00,599.15 535.00,596.96 C536.00,594.76 537.00,592.46 538.00,590.04 C539.00,587.61 540.00,585.07 541.00,582.39 C542.00,579.71 543.00,576.91 544.00,573.97 C545.00,571.04 546.00,567.96 547.00,564.76 C548.00,561.55 549.00,558.21 550.00,554.75 C551.00,551.29 552.00,547.69 553.00,544.02 C554.00,540.34 555.00,536.53 556.00,532.70 C557.00,528.87 558.00,524.92 559.00,521.05 C560.00,517.17 561.00,513.22 562.00,509.45 C563.00,505.69 564.00,501.90 565.00,498.45 C566.00,494.99 567.00,491.62 568.00,488.72 C569.00,485.82 570.00,483.12 571.00,481.04 C572.00,478.95 573.00,477.20 574.00,476.21 C575.00,475.22 576.00,474.88 577.00,475.10 C578.00,475.31 579.00,476.33 580.00,477.51 C581.00,478.69 582.00,480.31 583.00,482.17 C584.00,484.02 585.00,486.23 586.00,488.62 C587.00,491.01 588.00,493.69 589.00,496.49 C590.00,499.29 591.00,502.33 592.00,505.42 C593.00,508.52 594.00,511.78 595.00,515.06 C596.00,518.35 597.00,521.74 598.00,525.12 C599.00,528.50 600.00,531.94 601.00,535.34 C602.00,538.74 603.00,542.16 604.00,545.52 C605.00,548.88 606.00,552.22 607.00,555.49 C608.00,558.76 609.00,561.99 610.00,565.15 C611.00,568.30 612.00,571.39 613.00,574.40 C614.00,577.41 615.00,580.35 616.00,583.21 C617.00,586.07 618.00,588.85 619.00,591.54 C620.00,594.24 621.00,596.86 622.00,599.39 C623.00,601.93 624.00,604.38 625.00,606.76 C626.00,609.14 627.00,611.44 628.00,613.66 C629.00,615.89 630.00,618.03 631.00,620.11 C632.00,622.18 633.00,624.18 634.00,626.11 C635.00,628.05 636.00,629.91 637.00,631.72 C638.00,633.53 639.00,635.28 640.00,636.97 C641.00,638.66 642.00,640.30 643.00,641.88 C644.00,643.46 645.00,644.99 646.00,646.48 C647.00,647.96 648.00,649.39 649.00,650.79 C650.00,652.18 651.00,653.53 652.00,654.83 C653.00,656.14 654.00,657.41 655.00,658.64 C656.00,659.87 657.00,661.06 658.00,662.22 C659.00,663.38 660.00,664.51 661.00,665.60 C662.00,666.69 663.00,667.76 664.00,668.79 C665.00,669.82 666.00,670.83 667.00,671.81 C668.00,672.78 669.00,673.74 670.00,674.66 C671.00,675.58 672.00,676.45 673.00,677.31 C674.00,678.17 675.00,679.01 676.00,679.82 C677.00,680.63 678.00,681.41 679.00,682.18 C680.00,682.94 681.00,683.68 682.00,684.41 C683.00,685.13 684.00,685.83 685.00,686.51 C686.00,687.19 687.00,687.85 688.00,688.49 C689.00,689.14 690.00,689.76 691.00,690.37 C692.00,690.98 693.00,691.56 694.00,692.14 C695.00,692.71 696.00,693.27 697.00,693.81 C698.00,694.35 699.00,694.87 700.00,695.38 C701.00,695.89 702.00,696.38 703.00,696.86 C704.00,697.34 705.00,697.81 706.00,698.26 C707.00,698.71 708.00,699.15 709.00,699.58 C710.00,700.01 711.00,700.42 712.00,700.82 C713.00,701.23 714.00,701.62 715.00,702.00 C716.00,702.38 717.00,702.75 718.00,703.11 C719.00,703.47 720.00,703.83 721.00,704.17 C722.00,704.51 723.00,704.84 724.00,705.17 C725.00,705.49 726.00,705.81 727.00,706.12 C728.00,706.42 729.00,706.72 730.00,707.02 C731.00,707.31 732.00,707.60 733.00,707.88 C734.00,708.16 735.00,708.43 736.00,708.70 C737.00,708.96 738.00,709.22 739.00,709.48 C740.00,709.74 741.00,709.98 742.00,710.23 C743.00,710.47 744.00,710.71 745.00,710.95 C746.00,711.19 747.00,711.42 748.00,711.64 C749.00,711.87 750.00,712.09 751.00,712.31 C752.00,712.53 753.00,712.75 754.00,712.96 C755.00,713.17 756.00,713.38 757.00,713.59 C758.00,713.79 759.00,714.00 760.00,714.20 C761.00,714.40 762.00,714.60 763.00,714.79 C764.00,714.99 765.00,715.19 766.00,715.38 C767.00,715.57 768.00,715.76 769.00,715.95 C770.00,716.14 771.00,716.33 772.00,716.52 C773.00,716.71 774.00,716.90 775.00,717.09 C776.00,717.27 777.00,717.46 778.00,717.65 C779.00,717.83 780.00,718.02 781.00,718.20 C782.00,718.39 783.00,718.58 784.00,718.76 C785.00,718.95 786.00,719.14 787.00,719.32 C788.00,719.51 789.00,719.69 790.00,719.88 C791.00,720.07 792.00,720.25 793.00,720.44 C794.00,720.62 795.00,720.81 796.00,721.00 C797.00,721.18 798.00,721.37 799.00,721.55 C800.00,721.74 801.00,721.92 802.00,722.11 C803.00,722.29 804.00,722.48 805.00,722.66 C806.00,722.84 807.00,723.03 808.00,723.21 C809.00,723.39 810.00,723.58 811.00,723.76 C812.00,723.94 813.00,724.12 814.00,724.30 C815.00,724.48 816.00,724.66 817.00,724.84 C818.00,725.02 819.00,725.20 820.00,725.38 C821.00,725.56 822.00,725.74 823.00,725.91 C824.00,726.09 825.00,726.27 826.00,726.44 C827.00,726.61 828.00,726.79 829.00,726.96 C830.00,727.13 831.00,727.31 832.00,727.48 C833.00,727.65 834.00,727.81 835.00,727.98 C836.00,728.15 837.00,728.32 838.00,728.48 C839.00,728.65 840.00,728.81 841.00,728.97 C842.00,729.14 843.00,729.30 844.00,729.46 C845.00,729.61 846.00,729.77 847.00,729.93 C848.00,730.08 849.00,730.24 850.00,730.39 C851.00,730.54 852.00,730.69 853.00,730.84 C854.00,730.99 855.00,731.14 856.00,731.28 C857.00,731.43 858.00,731.57 859.00,731.71 C860.00,731.85 861.00,731.99 862.00,732.12 C863.00,732.26 864.00,732.39 865.00,732.52 C866.00,732.65 867.00,732.78 868.00,732.91 C869.00,733.04 870.00,733.16 871.00,733.28 C872.00,733.41 873.00,733.53 874.00,733.65 C875.00,733.77 876.00,733.88 877.00,734.00 C878.00,734.11 879.00,734.23 880.00,734.34 C881.00,734.45 882.00,734.56 883.00,734.67 C884.00,734.78 885.00,734.88 886.00,734.99 C887.00,735.09 888.00,735.19 889.00,735.29 C890.00,735.39 891.00,735.49 892.00,735.59 C893.00,735.69 894.00,735.78 895.00,735.88 C896.00,735.97 897.00,736.06 898.00,736.15 C899.00,736.25 900.00,736.33 901.00,736.42 C902.00,736.51 903.00,736.60 904.00,736.68 C905.00,736.77 906.00,736.85 907.00,736.93 C908.00,737.01 909.00,737.09 910.00,737.17 C911.00,737.25 912.00,737.33 913.00,737.41 C914.00,737.48 915.00,737.56 916.00,737.63 C917.00,737.71 918.00,737.78 919.00,737.85 C920.00,737.92 921.00,737.99 922.00,738.06 C923.00,738.13 924.00,738.20 925.00,738.26 C926.00,738.33 927.00,738.40 928.00,738.46 C929.00,738.52 930.00,738.59 931.00,738.65 C932.00,738.71 933.00,738.77 934.00,738.83 C935.00,738.89 936.00,738.95 937.00,739.01 C938.00,739.06 939.00,739.12 940.00,739.18 C941.00,739.23 942.00,739.29 943.00,739.34 C944.00,739.39 945.00,739.45 946.00,739.50 C947.00,739.55 948.00,739.60 949.00,739.65 C950.00,739.70 951.00,739.75 952.00,739.80 C953.00,739.84 954.00,739.89 955.00,739.94 C956.00,739.98 957.00,740.03 958.00,740.07 C959.00,740.12 960.00,740.16 961.00,740.21 C962.00,740.25 963.00,740.29 964.00,740.33 C965.00,740.38 966.00,740.42 967.00,740.46 C968.00,740.50 969.00,740.54 970.00,740.57 C971.00,740.61 972.00,740.65 973.00,740.69 C974.00,740.73 975.00,740.76 976.00,740.80 C977.00,740.83 978.00,740.87 979.00,740.90 C980.00,740.94 981.00,740.97 982.00,741.01 C983.00,741.04 984.00,741.07 985.00,741.10 C986.00,741.13 987.00,741.17 988.00,741.20 C989.00,741.23 990.00,741.26 991.00,741.29 C992.00,741.32 993.00,741.34 994.00,741.37 C995.00,741.40 996.00,741.43 997.00,741.46 C998.00,741.48 999.00,741.51 1000.00,741.53 C1001.00,741.56 1002.00,741.59 1003.00,741.61 C1004.00,741.64 1005.00,741.66 1006.00,741.68 C1007.00,741.71 1008.00,741.73 1009.00,741.75 C1010.00,741.78 1011.00,741.80 1012.00,741.82 C1013.00,741.84 1014.00,741.86 1015.00,741.88 C1016.00,741.91 1017.00,741.93 1018.00,741.95 C1019.00,741.97 1020.00,741.99 1021.00,742.01 C1022.00,742.02 1023.00,742.04 1024.00,742.06 C1025.00,742.08 1026.00,742.10 1027.00,742.12 C1028.00,742.14 1029.00,742.15 1030.00,742.17 C1031.00,742.19 1032.00,742.21 1033.00,742.22 C1034.00,742.24 1035.00,742.26 1036.00,742.27 C1037.00,742.29 1038.00,742.31 1039.00,742.32 C1040.00,742.34 1041.00,742.35 1042.00,742.37 C1043.00,742.39 1044.00,742.40 1045.00,742.42 C1046.00,742.43 1047.00,742.45 1048.00,742.46 C1049.00,742.48 1050.00,742.49 1051.00,742.51 C1052.00,742.53 1053.00,742.54 1054.00,742.56 C1055.00,742.57 1056.00,742.59 1057.00,742.60 C1058.00,742.62 1059.00,742.64 1060.00,742.65 C1061.00,742.67 1062.00,742.68 1063.00,742.70 C1064.00,742.72 1065.00,742.73 1066.00,742.75 C1067.00,742.77 1068.00,742.78 1069.00,742.80 C1070.00,742.82 1071.00,742.84 1072.00,742.86 C1073.00,742.87 1074.00,742.89 1075.00,742.91 C1076.00,742.93 1077.00,742.95 1078.00,742.97 C1079.00,742.99 1080.00,743.01 1081.00,743.03 C1082.00,743.05 1083.00,743.07 1084.00,743.10 C1085.00,743.12 1086.00,743.14 1087.00,743.16 C1088.00,743.19 1089.00,743.21 1090.00,743.24 C1091.00,743.26 1092.00,743.28 1093.00,743.31 C1094.00,743.34 1095.00,743.36 1096.00,743.39 C1097.00,743.42 1098.00,743.44 1099.00,743.47 C1100.00,743.50 1101.00,743.53 1102.00,743.56 C1103.00,743.59 1104.00,743.62 1105.00,743.65 C1106.00,743.68 1107.00,743.71 1108.00,743.74 C1109.00,743.77 1110.00,743.80 1111.00,743.84 C1112.00,743.87 1113.00,743.90 1114.00,743.94 C1115.00,743.97 1116.00,744.01 1117.00,744.04 C1118.00,744.08 1119.00,744.11 1120.00,744.15 C1121.00,744.19 1122.00,744.22 1123.00,744.26 C1124.00,744.30 1125.00,744.34 1126.00,744.38 C1127.00,744.42 1128.00,744.46 1129.00,744.50 C1130.00,744.54 1131.00,744.58 1132.00,744.63 C1133.00,744.67 1134.00,744.71 1135.00,744.76 C1136.00,744.80 1137.00,744.84 1138.00,744.89 C1139.00,744.94 1140.00,744.98 1141.00,745.03 C1142.00,745.07 1143.00,745.12 1144.00,745.17 C1145.00,745.22 1146.00,745.27 1147.00,745.32 C1148.00,745.37 1149.00,745.42 1150.00,745.47 C1151.00,745.52 1152.00,745.57 1153.00,745.62 C1154.00,745.67 1155.00,745.72 1156.00,745.78 C1157.00,745.83 1158.00,745.88 1159.00,745.94 C1160.00,745.99 1161.00,746.05 1162.00,746.10 C1163.00,746.16 1164.00,746.22 1165.00,746.27 C1166.00,746.33 1167.00,746.39 1168.00,746.44 C1169.00,746.50 1170.00,746.56 1171.00,746.62 C1172.00,746.68 1173.00,746.74 1174.00,746.80 C1175.00,746.86 1176.00,746.92 1177.00,746.98 C1178.00,747.04 1179.00,747.10 1180.00,747.16 C1181.00,747.22 1182.00,747.28 1183.00,747.35 C1184.00,747.41 1185.00,747.47 1186.00,747.53 C1187.00,747.60 1188.00,747.66 1189.00,747.72 C1190.00,747.78 1191.00,747.85 1192.00,747.91 C1193.00,747.97 1194.00,748.04 1195.00,748.10 C1196.00,748.17 1197.00,748.23 1198.00,748.29 C1199.00,748.36 1200.00,748.42 1201.00,748.49 C1202.00,748.55 1203.00,748.61 1204.00,748.68 C1205.00,748.74 1206.00,748.81 1207.00,748.87 C1208.00,748.94 1209.00,749.00 1210.00,749.06 C1211.00,749.13 1212.00,749.19 1213.00,749.26 C1214.00,749.32 1215.00,749.38 1216.00,749.45 C1217.00,749.51 1218.00,749.58 1219.00,749.64 C1220.00,749.71 1221.00,749.77 1222.00,749.84 C1223.00,749.90 1224.00,749.96 1225.00,750.03 C1226.00,750.09 1227.00,750.16 1228.00,750.22 C1229.00,750.29 1230.00,750.35 1231.00,750.41 C1232.00,750.48 1233.00,750.54 1234.00,750.61 C1235.00,750.67 1236.00,750.74 1237.00,750.80 C1238.00,750.86 1239.00,750.93 1240.00,750.99 C1241.00,751.06 1242.00,751.12 1243.00,751.18 C1244.00,751.25 1245.00,751.31 1246.00,751.38 C1247.00,751.44 1248.00,751.50 1249.00,751.57 C1250.00,751.63 1251.00,751.70 1252.00,751.76 C1253.00,751.82 1254.00,751.89 1255.00,751.95 C1256.00,752.01 1257.00,752.08 1258.00,752.14 C1259.00,752.20 1260.00,752.27 1261.00,752.33 C1262.00,752.39 1263.00,752.46 1264.00,752.52 C1265.00,752.58 1266.00,752.65 1267.00,752.71 C1268.00,752.77 1269.00,752.83 1270.00,752.90 C1271.00,752.96 1272.00,753.02 1273.00,753.08 C1274.00,753.15 1275.00,753.21 1276.00,753.27 C1277.00,753.33 1278.00,753.40 1279.00,753.46 C1280.00,753.52 1281.00,753.58 1282.00,753.64 C1283.00,753.71 1284.00,753.77 1285.00,753.83 C1286.00,753.89 1287.00,753.95 1288.00,754.01 C1289.00,754.08 1290.00,754.14 1291.00,754.20 C1292.00,754.26 1293.00,754.32 1294.00,754.38 C1295.00,754.44 1296.00,754.51 1297.00,754.57 C1298.00,754.63 1299.00,754.69 1300.00,754.75 C1301.00,754.81 1302.00,754.87 1303.00,754.93 C1304.00,755.00 1305.00,755.06 1306.00,755.12 C1307.00,755.18 1308.00,755.24 1309.00,755.30 C1310.00,755.36 1311.00,755.42 1312.00,755.49 C1313.00,755.55 1314.00,755.61 1315.00,755.67 C1316.00,755.73 1317.00,755.79 1318.00,755.85 C1319.00,755.92 1320.00,755.98 1321.00,756.04 C1322.00,756.10 1323.00,756.16 1324.00,756.23 C1325.00,756.29 1326.00,756.35 1327.00,756.41 C1328.00,756.48 1329.00,756.54 1330.00,756.60 C1331.00,756.66 1332.00,756.73 1333.00,756.79 C1334.00,756.85 1335.00,756.91 1336.00,756.98 C1337.00,757.04 1338.00,757.10 1339.00,757.16 C1340.00,757.23 1341.00,757.29 1342.00,757.35 C1343.00,757.42 1344.00,757.48 1345.00,757.54 C1346.00,757.60 1347.00,757.66 1348.00,757.73 C1349.00,757.79 1350.00,757.85 1351.00,757.91 C1352.00,757.98 1353.00,758.04 1354.00,758.10 C1355.00,758.16 1356.00,758.22 1357.00,758.29 C1358.00,758.35 1359.00,758.41 1360.00,758.47 C1361.00,758.53 1362.00,758.59 1363.00,758.66 C1364.00,758.72 1365.00,758.78 1366.00,758.84 C1367.00,758.90 1368.00,758.96 1369.00,759.02 C1370.00,759.08 1371.00,759.14 1372.00,759.20 C1373.00,759.26 1374.00,759.32 1375.00,759.38 C1376.00,759.44 1377.00,759.50 1378.00,759.56 C1379.00,759.62 1380.00,759.68 1381.00,759.74 C1382.00,759.80 1383.00,759.86 1384.00,759.91 C1385.00,759.97 1386.00,760.03 1387.00,760.09 C1388.00,760.15 1389.00,760.20 1390.00,760.26 C1391.00,760.32 1392.00,760.38 1393.00,760.43 C1394.00,760.49 1395.00,760.55 1396.00,760.60 C1397.00,760.66 1398.00,760.71 1399.00,760.77 C1400.00,760.83 1401.00,760.88 1402.00,760.94 C1403.00,760.99 1404.00,761.05 1405.00,761.10 C1406.00,761.16 1407.00,761.21 1408.00,761.26 C1409.00,761.32 1410.00,761.37 1411.00,761.42 C1412.00,761.48 1413.00,761.53 1414.00,761.58 C1415.00,761.63 1416.00,761.69 1417.00,761.74 C1418.00,761.79 1419.00,761.84 1420.00,761.89 C1421.00,761.94 1422.00,761.99 1423.00,762.04 C1424.00,762.09 1425.00,762.14 1426.00,762.19 C1427.00,762.24 1428.00,762.29 1429.00,762.34 C1430.00,762.38 1431.00,762.43 1432.00,762.48 C1433.00,762.53 1434.00,762.57 1435.00,762.62 C1436.00,762.67 1437.00,762.71 1438.00,762.76 C1439.00,762.80 1440.00,762.85 1441.00,762.89 C1442.00,762.94 1443.00,762.98 1444.00,763.02 C1445.00,763.07 1446.00,763.11 1447.00,763.15 C1448.00,763.19 1448.90,763.23 1450.00,763.28 C1451.10,763.32 1453.00,763.40 1453.60,763.42"/>
<path d="M103.00,955.79 C103.50,955.99 105.00,956.59 106.00,956.99 C107.00,957.38 108.00,957.76 109.00,958.14 C110.00,958.52 111.00,958.90 112.00,959.26 C113.00,959.63 114.00,959.99 115.00,960.35 C116.00,960.70 117.00,961.05 118.00,961.39 C119.00,961.73 120.00,962.07 121.00,962.39 C122.00,962.72 123.00,963.04 124.00,963.35 C125.00,963.66 126.00,963.96 127.00,964.26 C128.00,964.55 129.00,964.83 130.00,965.11 C131.00,965.38 132.00,965.64 133.00,965.89 C134.00,966.14 135.00,966.38 136.00,966.61 C137.00,966.83 138.00,967.04 139.00,967.24 C140.00,967.43 141.00,967.61 142.00,967.77 C143.00,967.94 144.00,968.08 145.00,968.20 C146.00,968.33 147.00,968.43 148.00,968.52 C149.00,968.60 150.00,968.66 151.00,968.69 C152.00,968.73 153.00,968.74 154.00,968.73 C155.00,968.72 156.00,968.68 157.00,968.63 C158.00,968.57 159.00,968.49 160.00,968.39 C161.00,968.29 162.00,968.16 163.00,968.02 C164.00,967.87 165.00,967.70 166.00,967.51 C167.00,967.32 168.00,967.11 169.00,966.87 C170.00,966.64 171.00,966.38 172.00,966.10 C173.00,965.82 174.00,965.52 175.00,965.19 C176.00,964.86 177.00,964.51 178.00,964.14 C179.00,963.77 180.00,963.37 181.00,962.95 C182.00,962.53 183.00,962.08 184.00,961.61 C185.00,961.14 186.00,960.64 187.00,960.12 C188.00,959.60 189.00,959.05 190.00,958.48 C191.00,957.91 192.00,957.31 193.00,956.68 C194.00,956.05 195.00,955.40 196.00,954.71 C197.00,954.03 198.00,953.31 199.00,952.56 C200.00,951.82 201.00,951.04 202.00,950.22 C203.00,949.41 204.00,948.56 205.00,947.67 C206.00,946.79 207.00,945.87 208.00,944.92 C209.00,943.97 210.00,942.98 211.00,941.96 C212.00,940.94 213.00,939.88 214.00,938.80 C215.00,937.71 216.00,936.59 217.00,935.44 C218.00,934.29 219.00,933.11 220.00,931.91 C221.00,930.70 222.00,929.47 223.00,928.22 C224.00,926.96 225.00,925.68 226.00,924.39 C227.00,923.10 228.00,921.78 229.00,920.46 C230.00,919.14 231.00,917.80 232.00,916.47 C233.00,915.13 234.00,913.78 235.00,912.44 C236.00,911.11 237.00,909.77 238.00,908.45 C239.00,907.14 240.00,905.83 241.00,904.55 C242.00,903.27 243.00,902.01 244.00,900.79 C245.00,899.57 246.00,898.37 247.00,897.23 C248.00,896.09 249.00,894.98 250.00,893.93 C251.00,892.88 252.00,891.87 253.00,890.93 C254.00,889.99 255.00,889.11 256.00,888.29 C257.00,887.48 258.00,886.73 259.00,886.06 C260.00,885.39 261.00,884.78 262.00,884.26 C263.00,883.74 264.00,883.29 265.00,882.94 C266.00,882.58 267.00,882.30 268.00,882.10 C269.00,881.91 270.00,881.83 271.00,881.76 C272.00,881.69 273.00,881.68 274.00,881.70 C275.00,881.72 276.00,881.77 277.00,881.86 C278.00,881.95 279.00,882.08 280.00,882.24 C281.00,882.40 282.00,882.59 283.00,882.82 C284.00,883.05 285.00,883.31 286.00,883.60 C287.00,883.90 288.00,884.22 289.00,884.58 C290.00,884.93 291.00,885.32 292.00,885.73 C293.00,886.15 294.00,886.59 295.00,887.06 C296.00,887.53 297.00,888.02 298.00,888.54 C299.00,889.06 300.00,889.60 301.00,890.17 C302.00,890.73 303.00,891.32 304.00,891.92 C305.00,892.52 306.00,893.15 307.00,893.79 C308.00,894.43 309.00,895.09 310.00,895.76 C311.00,896.43 312.00,897.11 313.00,897.81 C314.00,898.50 315.00,899.21 316.00,899.93 C317.00,900.64 318.00,901.37 319.00,902.10 C320.00,902.83 321.00,903.57 322.00,904.30 C323.00,905.04 324.00,905.79 325.00,906.53 C326.00,907.27 327.00,908.02 328.00,908.76 C329.00,909.50 330.00,910.24 331.00,910.98 C332.00,911.71 333.00,912.44 334.00,913.17 C335.00,913.89 336.00,914.61 337.00,915.32 C338.00,916.02 339.00,916.72 340.00,917.41 C341.00,918.10 342.00,918.77 343.00,919.43 C344.00,920.09 345.00,920.74 346.00,921.38 C347.00,922.01 348.00,922.63 349.00,923.23 C350.00,923.82 351.00,924.41 352.00,924.97 C353.00,925.54 354.00,926.08 355.00,926.61 C356.00,927.14 357.00,927.65 358.00,928.14 C359.00,928.63 360.00,929.11 361.00,929.57 C362.00,930.03 363.00,930.47 364.00,930.90 C365.00,931.32 366.00,931.73 367.00,932.12 C368.00,932.52 369.00,932.90 370.00,933.26 C371.00,933.63 372.00,933.97 373.00,934.31 C374.00,934.65 375.00,934.97 376.00,935.28 C377.00,935.59 378.00,935.88 379.00,936.17 C380.00,936.45 381.00,936.73 382.00,936.99 C383.00,937.26 384.00,937.51 385.00,937.76 C386.00,938.00 387.00,938.24 388.00,938.47 C389.00,938.70 390.00,938.92 391.00,939.14 C392.00,939.35 393.00,939.57 394.00,939.77 C395.00,939.97 396.00,940.17 397.00,940.35 C398.00,940.54 399.00,940.72 400.00,940.89 C401.00,941.06 402.00,941.23 403.00,941.38 C404.00,941.53 405.00,941.67 406.00,941.80 C407.00,941.94 408.00,942.06 409.00,942.17 C410.00,942.28 411.00,942.38 412.00,942.47 C413.00,942.56 414.00,942.64 415.00,942.70 C416.00,942.76 417.00,942.82 418.00,942.85 C419.00,942.89 420.00,942.92 421.00,942.93 C422.00,942.94 423.00,942.94 424.00,942.92 C425.00,942.90 426.00,942.87 427.00,942.82 C428.00,942.78 429.00,942.71 430.00,942.63 C431.00,942.55 432.00,942.46 433.00,942.34 C434.00,942.23 435.00,942.10 436.00,941.96 C437.00,941.82 438.00,941.66 439.00,941.48 C440.00,941.31 441.00,941.12 442.00,940.91 C443.00,940.71 444.00,940.48 445.00,940.25 C446.00,940.02 447.00,939.77 448.00,939.50 C449.00,939.24 450.00,938.96 451.00,938.66 C452.00,938.37 453.00,938.06 454.00,937.74 C455.00,937.42 456.00,937.08 457.00,936.73 C458.00,936.37 459.00,936.01 460.00,935.62 C461.00,935.24 462.00,934.84 463.00,934.43 C464.00,934.01 465.00,933.58 466.00,933.14 C467.00,932.69 468.00,932.23 469.00,931.75 C470.00,931.27 471.00,930.77 472.00,930.26 C473.00,929.74 474.00,929.21 475.00,928.66 C476.00,928.11 477.00,927.54 478.00,926.94 C479.00,926.35 480.00,925.73 481.00,925.08 C482.00,924.44 483.00,923.77 484.00,923.07 C485.00,922.38 486.00,921.66 487.00,920.92 C488.00,920.17 489.00,919.41 490.00,918.61 C491.00,917.81 492.00,916.98 493.00,916.12 C494.00,915.26 495.00,914.37 496.00,913.44 C497.00,912.51 498.00,911.54 499.00,910.54 C500.00,909.53 501.00,908.48 502.00,907.39 C503.00,906.29 504.00,905.15 505.00,903.96 C506.00,902.76 507.00,901.52 508.00,900.21 C509.00,898.91 510.00,897.55 511.00,896.11 C512.00,894.68 513.00,893.18 514.00,891.60 C515.00,890.02 516.00,888.38 517.00,886.64 C518.00,884.89 519.00,883.08 520.00,881.14 C521.00,879.21 522.00,877.19 523.00,875.05 C524.00,872.91 525.00,870.67 526.00,868.29 C527.00,865.91 528.00,863.42 529.00,860.78 C530.00,858.14 531.00,855.37 532.00,852.43 C533.00,849.50 534.00,846.42 535.00,843.16 C536.00,839.89 537.00,836.48 538.00,832.86 C539.00,829.24 540.00,825.45 541.00,821.46 C542.00,817.46 543.00,813.27 544.00,808.88 C545.00,804.50 546.00,799.90 547.00,795.12 C548.00,790.34 549.00,785.34 550.00,780.19 C551.00,775.04 552.00,769.67 553.00,764.22 C554.00,758.76 555.00,753.11 556.00,747.45 C557.00,741.80 558.00,735.98 559.00,730.31 C560.00,724.63 561.00,718.85 562.00,713.37 C563.00,707.90 564.00,702.43 565.00,697.45 C566.00,692.47 567.00,687.64 568.00,683.47 C569.00,679.30 570.00,675.47 571.00,672.43 C572.00,669.39 573.00,666.88 574.00,665.22 C575.00,663.55 576.00,662.54 577.00,662.44 C578.00,662.34 579.00,663.09 580.00,664.62 C581.00,666.15 582.00,668.70 583.00,671.64 C584.00,674.58 585.00,678.33 586.00,682.28 C587.00,686.23 588.00,690.74 589.00,695.33 C590.00,699.91 591.00,704.85 592.00,709.79 C593.00,714.74 594.00,719.88 595.00,724.98 C596.00,730.09 597.00,735.28 598.00,740.42 C599.00,745.56 600.00,750.73 601.00,755.82 C602.00,760.91 603.00,765.98 604.00,770.95 C605.00,775.93 606.00,780.85 607.00,785.67 C608.00,790.49 609.00,795.24 610.00,799.87 C611.00,804.50 612.00,809.04 613.00,813.46 C614.00,817.88 615.00,822.19 616.00,826.39 C617.00,830.58 618.00,834.67 619.00,838.63 C620.00,842.59 621.00,846.43 622.00,850.16 C623.00,853.89 624.00,857.50 625.00,860.99 C626.00,864.49 627.00,867.87 628.00,871.13 C629.00,874.40 630.00,877.55 631.00,880.60 C632.00,883.64 633.00,886.57 634.00,889.41 C635.00,892.24 636.00,894.97 637.00,897.61 C638.00,900.25 639.00,902.80 640.00,905.25 C641.00,907.71 642.00,910.08 643.00,912.37 C644.00,914.66 645.00,916.86 646.00,918.99 C647.00,921.12 648.00,923.17 649.00,925.16 C650.00,927.15 651.00,929.06 652.00,930.91 C653.00,932.76 654.00,934.54 655.00,936.27 C656.00,938.00 657.00,939.66 658.00,941.28 C659.00,942.89 660.00,944.45 661.00,945.96 C662.00,947.47 663.00,948.92 664.00,950.33 C665.00,951.75 666.00,953.11 667.00,954.43 C668.00,955.76 669.00,957.04 670.00,958.28 C671.00,959.52 672.00,960.70 673.00,961.86 C674.00,963.01 675.00,964.13 676.00,965.21 C677.00,966.29 678.00,967.33 679.00,968.35 C680.00,969.36 681.00,970.34 682.00,971.29 C683.00,972.24 684.00,973.16 685.00,974.05 C686.00,974.95 687.00,975.81 688.00,976.65 C689.00,977.48 690.00,978.29 691.00,979.08 C692.00,979.87 693.00,980.63 694.00,981.37 C695.00,982.11 696.00,982.83 697.00,983.52 C698.00,984.22 699.00,984.89 700.00,985.54 C701.00,986.20 702.00,986.83 703.00,987.44 C704.00,988.06 705.00,988.65 706.00,989.23 C707.00,989.81 708.00,990.37 709.00,990.92 C710.00,991.46 711.00,991.99 712.00,992.50 C713.00,993.02 714.00,993.51 715.00,994.00 C716.00,994.48 717.00,994.95 718.00,995.41 C719.00,995.87 720.00,996.31 721.00,996.75 C722.00,997.18 723.00,997.60 724.00,998.01 C725.00,998.42 726.00,998.82 727.00,999.21 C728.00,999.60 729.00,999.97 730.00,1000.34 C731.00,1000.71 732.00,1001.07 733.00,1001.42 C734.00,1001.77 735.00,1002.11 736.00,1002.44 C737.00,1002.77 738.00,1003.10 739.00,1003.42 C740.00,1003.73 741.00,1004.04 742.00,1004.35 C743.00,1004.65 744.00,1004.94 745.00,1005.23 C746.00,1005.52 747.00,1005.80 748.00,1006.08 C749.00,1006.36 750.00,1006.63 751.00,1006.89 C752.00,1007.16 753.00,1007.42 754.00,1007.67 C755.00,1007.93 756.00,1008.18 757.00,1008.42 C758.00,1008.67 759.00,1008.91 760.00,1009.15 C761.00,1009.38 762.00,1009.62 763.00,1009.85 C764.00,1010.07 765.00,1010.30 766.00,1010.52 C767.00,1010.74 768.00,1010.96 769.00,1011.18 C770.00,1011.39 771.00,1011.61 772.00,1011.82 C773.00,1012.03 774.00,1012.24 775.00,1012.44 C776.00,1012.65 777.00,1012.85 778.00,1013.05 C779.00,1013.25 780.00,1013.45 781.00,1013.65 C782.00,1013.85 783.00,1014.04 784.00,1014.24 C785.00,1014.43 786.00,1014.63 787.00,1014.82 C788.00,1015.01 789.00,1015.20 790.00,1015.39 C791.00,1015.58 792.00,1015.76 793.00,1015.95 C794.00,1016.13 795.00,1016.32 796.00,1016.50 C797.00,1016.68 798.00,1016.86 799.00,1017.04 C800.00,1017.22 801.00,1017.40 802.00,1017.58 C803.00,1017.76 804.00,1017.93 805.00,1018.11 C806.00,1018.28 807.00,1018.46 808.00,1018.63 C809.00,1018.80 810.00,1018.97 811.00,1019.14 C812.00,1019.31 813.00,1019.48 814.00,1019.65 C815.00,1019.82 816.00,1019.98 817.00,1020.15 C818.00,1020.31 819.00,1020.48 820.00,1020.64 C821.00,1020.80 822.00,1020.96 823.00,1021.12 C824.00,1021.28 825.00,1021.44 826.00,1021.60 C827.00,1021.76 828.00,1021.91 829.00,1022.07 C830.00,1022.23 831.00,1022.38 832.00,1022.53 C833.00,1022.68 834.00,1022.84 835.00,1022.99 C836.00,1023.14 837.00,1023.28 838.00,1023.43 C839.00,1023.58 840.00,1023.73 841.00,1023.87 C842.00,1024.01 843.00,1024.16 844.00,1024.30 C845.00,1024.44 846.00,1024.58 847.00,1024.72 C848.00,1024.86 849.00,1025.00 850.00,1025.13 C851.00,1025.27 852.00,1025.41 853.00,1025.54 C854.00,1025.67 855.00,1025.80 856.00,1025.93 C857.00,1026.06 858.00,1026.19 859.00,1026.32 C860.00,1026.45 861.00,1026.57 862.00,1026.70 C863.00,1026.82 864.00,1026.94 865.00,1027.06 C866.00,1027.18 867.00,1027.30 868.00,1027.42 C869.00,1027.54 870.00,1027.65 871.00,1027.77 C872.00,1027.88 873.00,1028.00 874.00,1028.11 C875.00,1028.22 876.00,1028.33 877.00,1028.44 C878.00,1028.55 879.00,1028.66 880.00,1028.76 C881.00,1028.87 882.00,1028.97 883.00,1029.08 C884.00,1029.18 885.00,1029.28 886.00,1029.39 C887.00,1029.49 888.00,1029.59 889.00,1029.69 C890.00,1029.78 891.00,1029.88 892.00,1029.98 C893.00,1030.07 894.00,1030.17 895.00,1030.26 C896.00,1030.36 897.00,1030.45 898.00,1030.54 C899.00,1030.63 900.00,1030.72 901.00,1030.81 C902.00,1030.90 903.00,1030.99 904.00,1031.08 C905.00,1031.16 906.00,1031.25 907.00,1031.33 C908.00,1031.42 909.00,1031.50 910.00,1031.58 C911.00,1031.67 912.00,1031.75 913.00,1031.83 C914.00,1031.91 915.00,1031.99 916.00,1032.07 C917.00,1032.15 918.00,1032.22 919.00,1032.30 C920.00,1032.38 921.00,1032.45 922.00,1032.53 C923.00,1032.60 924.00,1032.67 925.00,1032.75 C926.00,1032.82 927.00,1032.89 928.00,1032.96 C929.00,1033.03 930.00,1033.10 931.00,1033.17 C932.00,1033.24 933.00,1033.31 934.00,1033.37 C935.00,1033.44 936.00,1033.51 937.00,1033.57 C938.00,1033.64 939.00,1033.70 940.00,1033.76 C941.00,1033.83 942.00,1033.89 943.00,1033.95 C944.00,1034.01 945.00,1034.07 946.00,1034.13 C947.00,1034.19 948.00,1034.25 949.00,1034.31 C950.00,1034.37 951.00,1034.43 952.00,1034.48 C953.00,1034.54 954.00,1034.59 955.00,1034.65 C956.00,1034.70 957.00,1034.76 958.00,1034.81 C959.00,1034.86 960.00,1034.91 961.00,1034.97 C962.00,1035.02 963.00,1035.07 964.00,1035.12 C965.00,1035.17 966.00,1035.22 967.00,1035.26 C968.00,1035.31 969.00,1035.36 970.00,1035.41 C971.00,1035.45 972.00,1035.50 973.00,1035.54 C974.00,1035.59 975.00,1035.63 976.00,1035.67 C977.00,1035.72 978.00,1035.76 979.00,1035.80 C980.00,1035.84 981.00,1035.89 982.00,1035.93 C983.00,1035.97 984.00,1036.01 985.00,1036.04 C986.00,1036.08 987.00,1036.12 988.00,1036.16 C989.00,1036.20 990.00,1036.23 991.00,1036.27 C992.00,1036.30 993.00,1036.34 994.00,1036.37 C995.00,1036.41 996.00,1036.44 997.00,1036.47 C998.00,1036.51 999.00,1036.54 1000.00,1036.57 C1001.00,1036.60 1002.00,1036.63 1003.00,1036.66 C1004.00,1036.69 1005.00,1036.72 1006.00,1036.75 C1007.00,1036.78 1008.00,1036.81 1009.00,1036.84 C1010.00,1036.86 1011.00,1036.89 1012.00,1036.92 C1013.00,1036.94 1014.00,1036.97 1015.00,1036.99 C1016.00,1037.02 1017.00,1037.04 1018.00,1037.07 C1019.00,1037.09 1020.00,1037.11 1021.00,1037.14 C1022.00,1037.16 1023.00,1037.18 1024.00,1037.20 C1025.00,1037.23 1026.00,1037.25 1027.00,1037.27 C1028.00,1037.29 1029.00,1037.31 1030.00,1037.33 C1031.00,1037.35 1032.00,1037.37 1033.00,1037.39 C1034.00,1037.40 1035.00,1037.42 1036.00,1037.44 C1037.00,1037.46 1038.00,1037.48 1039.00,1037.49 C1040.00,1037.51 1041.00,1037.53 1042.00,1037.54 C1043.00,1037.56 1044.00,1037.58 1045.00,1037.59 C1046.00,1037.61 1047.00,1037.62 1048.00,1037.64 C1049.00,1037.65 1050.00,1037.67 1051.00,1037.68 C1052.00,1037.70 1053.00,1037.71 1054.00,1037.73 C1055.00,1037.74 1056.00,1037.76 1057.00,1037.77 C1058.00,1037.78 1059.00,1037.80 1060.00,1037.81 C1061.00,1037.83 1062.00,1037.84 1063.00,1037.85 C1064.00,1037.87 1065.00,1037.88 1066.00,1037.89 C1067.00,1037.91 1068.00,1037.92 1069.00,1037.94 C1070.00,1037.95 1071.00,1037.96 1072.00,1037.98 C1073.00,1037.99 1074.00,1038.01 1075.00,1038.02 C1076.00,1038.03 1077.00,1038.05 1078.00,1038.06 C1079.00,1038.08 1080.00,1038.09 1081.00,1038.11 C1082.00,1038.12 1083.00,1038.14 1084.00,1038.16 C1085.00,1038.17 1086.00,1038.19 1087.00,1038.21 C1088.00,1038.22 1089.00,1038.24 1090.00,1038.26 C1091.00,1038.27 1092.00,1038.29 1093.00,1038.31 C1094.00,1038.33 1095.00,1038.35 1096.00,1038.37 C1097.00,1038.39 1098.00,1038.41 1099.00,1038.43 C1100.00,1038.45 1101.00,1038.47 1102.00,1038.49 C1103.00,1038.51 1104.00,1038.53 1105.00,1038.55 C1106.00,1038.57 1107.00,1038.60 1108.00,1038.62 C1109.00,1038.64 1110.00,1038.67 1111.00,1038.69 C1112.00,1038.72 1113.00,1038.74 1114.00,1038.77 C1115.00,1038.79 1116.00,1038.82 1117.00,1038.85 C1118.00,1038.87 1119.00,1038.90 1120.00,1038.93 C1121.00,1038.96 1122.00,1038.99 1123.00,1039.02 C1124.00,1039.04 1125.00,1039.08 1126.00,1039.11 C1127.00,1039.14 1128.00,1039.17 1129.00,1039.20 C1130.00,1039.23 1131.00,1039.27 1132.00,1039.30 C1133.00,1039.34 1134.00,1039.37 1135.00,1039.41 C1136.00,1039.44 1137.00,1039.48 1138.00,1039.52 C1139.00,1039.55 1140.00,1039.59 1141.00,1039.63 C1142.00,1039.67 1143.00,1039.71 1144.00,1039.75 C1145.00,1039.79 1146.00,1039.83 1147.00,1039.87 C1148.00,1039.92 1149.00,1039.96 1150.00,1040.00 C1151.00,1040.05 1152.00,1040.09 1153.00,1040.14 C1154.00,1040.18 1155.00,1040.23 1156.00,1040.28 C1157.00,1040.33 1158.00,1040.37 1159.00,1040.42 C1160.00,1040.47 1161.00,1040.52 1162.00,1040.57 C1163.00,1040.62 1164.00,1040.67 1165.00,1040.73 C1166.00,1040.78 1167.00,1040.83 1168.00,1040.88 C1169.00,1040.94 1170.00,1040.99 1171.00,1041.05 C1172.00,1041.10 1173.00,1041.16 1174.00,1041.22 C1175.00,1041.27 1176.00,1041.33 1177.00,1041.39 C1178.00,1041.45 1179.00,1041.51 1180.00,1041.56 C1181.00,1041.62 1182.00,1041.68 1183.00,1041.75 C1184.00,1041.81 1185.00,1041.87 1186.00,1041.93 C1187.00,1041.99 1188.00,1042.05 1189.00,1042.12 C1190.00,1042.18 1191.00,1042.24 1192.00,1042.31 C1193.00,1042.37 1194.00,1042.44 1195.00,1042.50 C1196.00,1042.57 1197.00,1042.63 1198.00,1042.70 C1199.00,1042.77 1200.00,1042.83 1201.00,1042.90 C1202.00,1042.97 1203.00,1043.03 1204.00,1043.10 C1205.00,1043.17 1206.00,1043.24 1207.00,1043.30 C1208.00,1043.37 1209.00,1043.44 1210.00,1043.51 C1211.00,1043.58 1212.00,1043.65 1213.00,1043.72 C1214.00,1043.79 1215.00,1043.86 1216.00,1043.93 C1217.00,1044.00 1218.00,1044.07 1219.00,1044.14 C1220.00,1044.21 1221.00,1044.28 1222.00,1044.35 C1223.00,1044.42 1224.00,1044.49 1225.00,1044.56 C1226.00,1044.64 1227.00,1044.71 1228.00,1044.78 C1229.00,1044.85 1230.00,1044.92 1231.00,1045.00 C1232.00,1045.07 1233.00,1045.14 1234.00,1045.21 C1235.00,1045.29 1236.00,1045.36 1237.00,1045.43 C1238.00,1045.51 1239.00,1045.58 1240.00,1045.65 C1241.00,1045.72 1242.00,1045.80 1243.00,1045.87 C1244.00,1045.94 1245.00,1046.02 1246.00,1046.09 C1247.00,1046.16 1248.00,1046.24 1249.00,1046.31 C1250.00,1046.38 1251.00,1046.46 1252.00,1046.53 C1253.00,1046.60 1254.00,1046.68 1255.00,1046.75 C1256.00,1046.82 1257.00,1046.90 1258.00,1046.97 C1259.00,1047.04 1260.00,1047.12 1261.00,1047.19 C1262.00,1047.26 1263.00,1047.34 1264.00,1047.41 C1265.00,1047.48 1266.00,1047.56 1267.00,1047.63 C1268.00,1047.70 1269.00,1047.78 1270.00,1047.85 C1271.00,1047.92 1272.00,1047.99 1273.00,1048.07 C1274.00,1048.14 1275.00,1048.21 1276.00,1048.28 C1277.00,1048.36 1278.00,1048.43 1279.00,1048.50 C1280.00,1048.57 1281.00,1048.65 1282.00,1048.72 C1283.00,1048.79 1284.00,1048.86 1285.00,1048.93 C1286.00,1049.00 1287.00,1049.08 1288.00,1049.15 C1289.00,1049.22 1290.00,1049.29 1291.00,1049.36 C1292.00,1049.43 1293.00,1049.50 1294.00,1049.57 C1295.00,1049.65 1296.00,1049.72 1297.00,1049.79 C1298.00,1049.86 1299.00,1049.93 1300.00,1050.00 C1301.00,1050.07 1302.00,1050.14 1303.00,1050.21 C1304.00,1050.28 1305.00,1050.35 1306.00,1050.42 C1307.00,1050.49 1308.00,1050.56 1309.00,1050.63 C1310.00,1050.70 1311.00,1050.77 1312.00,1050.84 C1313.00,1050.91 1314.00,1050.98 1315.00,1051.05 C1316.00,1051.12 1317.00,1051.19 1318.00,1051.26 C1319.00,1051.33 1320.00,1051.40 1321.00,1051.47 C1322.00,1051.54 1323.00,1051.61 1324.00,1051.68 C1325.00,1051.75 1326.00,1051.82 1327.00,1051.89 C1328.00,1051.96 1329.00,1052.03 1330.00,1052.10 C1331.00,1052.17 1332.00,1052.24 1333.00,1052.31 C1334.00,1052.38 1335.00,1052.45 1336.00,1052.52 C1337.00,1052.59 1338.00,1052.66 1339.00,1052.73 C1340.00,1052.79 1341.00,1052.86 1342.00,1052.93 C1343.00,1053.00 1344.00,1053.07 1345.00,1053.13 C1346.00,1053.20 1347.00,1053.27 1348.00,1053.34 C1349.00,1053.40 1350.00,1053.47 1351.00,1053.54 C1352.00,1053.60 1353.00,1053.67 1354.00,1053.74 C1355.00,1053.80 1356.00,1053.87 1357.00,1053.93 C1358.00,1054.00 1359.00,1054.06 1360.00,1054.13 C1361.00,1054.19 1362.00,1054.25 1363.00,1054.32 C1364.00,1054.38 1365.00,1054.44 1366.00,1054.51 C1367.00,1054.57 1368.00,1054.63 1369.00,1054.69 C1370.00,1054.75 1371.00,1054.81 1372.00,1054.87 C1373.00,1054.94 1374.00,1055.00 1375.00,1055.05 C1376.00,1055.11 1377.00,1055.17 1378.00,1055.23 C1379.00,1055.29 1380.00,1055.35 1381.00,1055.40 C1382.00,1055.46 1383.00,1055.52 1384.00,1055.57 C1385.00,1055.63 1386.00,1055.68 1387.00,1055.74 C1388.00,1055.79 1389.00,1055.84 1390.00,1055.90 C1391.00,1055.95 1392.00,1056.00 1393.00,1056.05 C1394.00,1056.10 1395.00,1056.15 1396.00,1056.20 C1397.00,1056.25 1398.00,1056.30 1399.00,1056.35 C1400.00,1056.40 1401.00,1056.45 1402.00,1056.49 C1403.00,1056.54 1404.00,1056.59 1405.00,1056.63 C1406.00,1056.68 1407.00,1056.72 1408.00,1056.76 C1409.00,1056.81 1410.00,1056.85 1411.00,1056.89 C1412.00,1056.93 1413.00,1056.97 1414.00,1057.01 C1415.00,1057.05 1416.00,1057.09 1417.00,1057.13 C1418.00,1057.17 1419.00,1057.20 1420.00,1057.24 C1421.00,1057.27 1422.00,1057.31 1423.00,1057.34 C1424.00,1057.38 1425.00,1057.41 1426.00,1057.44 C1427.00,1057.47 1428.00,1057.50 1429.00,1057.53 C1430.00,1057.56 1431.00,1057.59 1432.00,1057.62 C1433.00,1057.64 1434.00,1057.67 1435.00,1057.69 C1436.00,1057.72 1437.00,1057.74 1438.00,1057.76 C1439.00,1057.79 1440.00,1057.81 1441.00,1057.83 C1442.00,1057.85 1443.00,1057.86 1444.00,1057.88 C1445.00,1057.90 1446.00,1057.91 1447.00,1057.93 C1448.00,1057.94 1448.90,1057.96 1450.00,1057.97 C1451.10,1057.98 1453.00,1058.00 1453.60,1058.01"/>
</g>
<g stroke-width="1.9">
<path d="M103.00,274.28 C103.50,274.62 105.00,275.67 106.00,276.30 C107.00,276.93 108.00,277.52 109.00,278.08 C110.00,278.63 111.00,279.15 112.00,279.65 C113.00,280.14 114.00,280.60 115.00,281.04 C116.00,281.48 117.00,281.89 118.00,282.29 C119.00,282.68 120.00,283.05 121.00,283.40 C122.00,283.75 123.00,284.08 124.00,284.40 C125.00,284.71 126.00,285.01 127.00,285.30 C128.00,285.58 129.00,285.85 130.00,286.10 C131.00,286.35 132.00,286.59 133.00,286.82 C134.00,287.04 135.00,287.26 136.00,287.45 C137.00,287.65 138.00,287.84 139.00,288.01 C140.00,288.18 141.00,288.34 142.00,288.49 C143.00,288.63 144.00,288.76 145.00,288.88 C146.00,289.00 147.00,289.10 148.00,289.19 C149.00,289.28 150.00,289.35 151.00,289.41 C152.00,289.47 153.00,289.51 154.00,289.53 C155.00,289.56 156.00,289.57 157.00,289.57 C158.00,289.57 159.00,289.55 160.00,289.52 C161.00,289.49 162.00,289.45 163.00,289.39 C164.00,289.33 165.00,289.25 166.00,289.16 C167.00,289.08 168.00,288.97 169.00,288.85 C170.00,288.74 171.00,288.60 172.00,288.45 C173.00,288.31 174.00,288.14 175.00,287.96 C176.00,287.78 177.00,287.58 178.00,287.37 C179.00,287.16 180.00,286.93 181.00,286.68 C182.00,286.43 183.00,286.16 184.00,285.88 C185.00,285.59 186.00,285.29 187.00,284.96 C188.00,284.64 189.00,284.30 190.00,283.93 C191.00,283.57 192.00,283.19 193.00,282.78 C194.00,282.37 195.00,281.95 196.00,281.49 C197.00,281.04 198.00,280.57 199.00,280.06 C200.00,279.56 201.00,279.03 202.00,278.48 C203.00,277.92 204.00,277.34 205.00,276.73 C206.00,276.12 207.00,275.48 208.00,274.82 C209.00,274.15 210.00,273.46 211.00,272.74 C212.00,272.02 213.00,271.27 214.00,270.50 C215.00,269.73 216.00,268.93 217.00,268.11 C218.00,267.29 219.00,266.45 220.00,265.58 C221.00,264.72 222.00,263.84 223.00,262.94 C224.00,262.04 225.00,261.12 226.00,260.20 C227.00,259.27 228.00,258.33 229.00,257.38 C230.00,256.44 231.00,255.48 232.00,254.53 C233.00,253.58 234.00,252.62 235.00,251.68 C236.00,250.73 237.00,249.79 238.00,248.87 C239.00,247.95 240.00,247.04 241.00,246.16 C242.00,245.29 243.00,244.42 244.00,243.60 C245.00,242.78 246.00,241.98 247.00,241.23 C248.00,240.48 249.00,239.77 250.00,239.10 C251.00,238.44 252.00,237.82 253.00,237.26 C254.00,236.69 255.00,236.18 256.00,235.73 C257.00,235.28 258.00,234.88 259.00,234.55 C260.00,234.23 261.00,233.96 262.00,233.76 C263.00,233.56 264.00,233.44 265.00,233.37 C266.00,233.30 267.00,233.32 268.00,233.35 C269.00,233.38 270.00,233.46 271.00,233.57 C272.00,233.67 273.00,233.82 274.00,234.00 C275.00,234.18 276.00,234.39 277.00,234.64 C278.00,234.88 279.00,235.16 280.00,235.47 C281.00,235.78 282.00,236.13 283.00,236.49 C284.00,236.86 285.00,237.26 286.00,237.69 C287.00,238.11 288.00,238.56 289.00,239.03 C290.00,239.51 291.00,240.00 292.00,240.52 C293.00,241.04 294.00,241.58 295.00,242.13 C296.00,242.68 297.00,243.26 298.00,243.85 C299.00,244.43 300.00,245.04 301.00,245.65 C302.00,246.26 303.00,246.88 304.00,247.52 C305.00,248.15 306.00,248.79 307.00,249.43 C308.00,250.08 309.00,250.73 310.00,251.38 C311.00,252.03 312.00,252.68 313.00,253.33 C314.00,253.98 315.00,254.64 316.00,255.29 C317.00,255.93 318.00,256.58 319.00,257.23 C320.00,257.87 321.00,258.51 322.00,259.14 C323.00,259.78 324.00,260.41 325.00,261.03 C326.00,261.65 327.00,262.27 328.00,262.88 C329.00,263.48 330.00,264.08 331.00,264.67 C332.00,265.26 333.00,265.84 334.00,266.41 C335.00,266.98 336.00,267.54 337.00,268.09 C338.00,268.64 339.00,269.18 340.00,269.70 C341.00,270.23 342.00,270.74 343.00,271.24 C344.00,271.74 345.00,272.23 346.00,272.71 C347.00,273.18 348.00,273.64 349.00,274.09 C350.00,274.54 351.00,274.98 352.00,275.40 C353.00,275.82 354.00,276.23 355.00,276.63 C356.00,277.02 357.00,277.41 358.00,277.77 C359.00,278.14 360.00,278.50 361.00,278.84 C362.00,279.19 363.00,279.52 364.00,279.84 C365.00,280.15 366.00,280.46 367.00,280.75 C368.00,281.05 369.00,281.33 370.00,281.60 C371.00,281.87 372.00,282.12 373.00,282.37 C374.00,282.62 375.00,282.86 376.00,283.08 C377.00,283.31 378.00,283.53 379.00,283.73 C380.00,283.94 381.00,284.14 382.00,284.33 C383.00,284.52 384.00,284.70 385.00,284.87 C386.00,285.05 387.00,285.21 388.00,285.37 C389.00,285.53 390.00,285.69 391.00,285.83 C392.00,285.98 393.00,286.12 394.00,286.26 C395.00,286.39 396.00,286.52 397.00,286.64 C398.00,286.76 399.00,286.88 400.00,286.98 C401.00,287.09 402.00,287.19 403.00,287.29 C404.00,287.38 405.00,287.47 406.00,287.55 C407.00,287.63 408.00,287.70 409.00,287.76 C410.00,287.83 411.00,287.89 412.00,287.93 C413.00,287.98 414.00,288.02 415.00,288.06 C416.00,288.09 417.00,288.11 418.00,288.13 C419.00,288.14 420.00,288.15 421.00,288.15 C422.00,288.14 423.00,288.13 424.00,288.11 C425.00,288.09 426.00,288.06 427.00,288.01 C428.00,287.97 429.00,287.92 430.00,287.85 C431.00,287.79 432.00,287.71 433.00,287.63 C434.00,287.54 435.00,287.45 436.00,287.34 C437.00,287.23 438.00,287.12 439.00,286.99 C440.00,286.86 441.00,286.72 442.00,286.58 C443.00,286.43 444.00,286.28 445.00,286.11 C446.00,285.95 447.00,285.77 448.00,285.59 C449.00,285.41 450.00,285.21 451.00,285.01 C452.00,284.81 453.00,284.60 454.00,284.38 C455.00,284.16 456.00,283.93 457.00,283.70 C458.00,283.46 459.00,283.21 460.00,282.96 C461.00,282.70 462.00,282.44 463.00,282.16 C464.00,281.89 465.00,281.61 466.00,281.31 C467.00,281.02 468.00,280.72 469.00,280.40 C470.00,280.09 471.00,279.77 472.00,279.43 C473.00,279.10 474.00,278.76 475.00,278.40 C476.00,278.04 477.00,277.67 478.00,277.29 C479.00,276.90 480.00,276.50 481.00,276.09 C482.00,275.68 483.00,275.25 484.00,274.81 C485.00,274.37 486.00,273.91 487.00,273.43 C488.00,272.95 489.00,272.46 490.00,271.95 C491.00,271.43 492.00,270.90 493.00,270.34 C494.00,269.78 495.00,269.20 496.00,268.59 C497.00,267.98 498.00,267.35 499.00,266.68 C500.00,266.02 501.00,265.33 502.00,264.60 C503.00,263.87 504.00,263.11 505.00,262.31 C506.00,261.51 507.00,260.68 508.00,259.80 C509.00,258.92 510.00,258.00 511.00,257.03 C512.00,256.05 513.00,255.04 514.00,253.96 C515.00,252.89 516.00,251.77 517.00,250.57 C518.00,249.38 519.00,248.14 520.00,246.82 C521.00,245.49 522.00,244.10 523.00,242.63 C524.00,241.16 525.00,239.62 526.00,237.99 C527.00,236.36 528.00,234.65 529.00,232.84 C530.00,231.03 531.00,229.13 532.00,227.12 C533.00,225.11 534.00,223.01 535.00,220.78 C536.00,218.56 537.00,216.23 538.00,213.78 C539.00,211.32 540.00,208.75 541.00,206.06 C542.00,203.36 543.00,200.54 544.00,197.60 C545.00,194.65 546.00,191.58 547.00,188.39 C548.00,185.21 549.00,181.89 550.00,178.50 C551.00,175.10 552.00,171.57 553.00,168.00 C554.00,164.43 555.00,160.75 556.00,157.09 C557.00,153.43 558.00,149.68 559.00,146.04 C560.00,142.40 561.00,138.72 562.00,135.24 C563.00,131.77 564.00,128.32 565.00,125.19 C566.00,122.06 567.00,119.05 568.00,116.46 C569.00,113.87 570.00,111.51 571.00,109.64 C572.00,107.77 573.00,106.25 574.00,105.25 C575.00,104.26 576.00,103.76 577.00,103.67 C578.00,103.59 579.00,103.97 580.00,104.72 C581.00,105.48 582.00,106.65 583.00,108.20 C584.00,109.74 585.00,111.76 586.00,114.00 C587.00,116.24 588.00,118.88 589.00,121.62 C590.00,124.37 591.00,127.40 592.00,130.45 C593.00,133.51 594.00,136.74 595.00,139.95 C596.00,143.16 597.00,146.46 598.00,149.72 C599.00,152.98 600.00,156.28 601.00,159.53 C602.00,162.77 603.00,166.01 604.00,169.20 C605.00,172.39 606.00,175.55 607.00,178.65 C608.00,181.75 609.00,184.80 610.00,187.80 C611.00,190.79 612.00,193.73 613.00,196.60 C614.00,199.47 615.00,202.28 616.00,205.02 C617.00,207.76 618.00,210.43 619.00,213.03 C620.00,215.64 621.00,218.17 622.00,220.63 C623.00,223.10 624.00,225.49 625.00,227.81 C626.00,230.14 627.00,232.39 628.00,234.58 C629.00,236.76 630.00,238.88 631.00,240.92 C632.00,242.97 633.00,244.93 634.00,246.84 C635.00,248.76 636.00,250.60 637.00,252.40 C638.00,254.19 639.00,255.92 640.00,257.60 C641.00,259.28 642.00,260.90 643.00,262.48 C644.00,264.05 645.00,265.57 646.00,267.05 C647.00,268.53 648.00,269.96 649.00,271.34 C650.00,272.73 651.00,274.07 652.00,275.37 C653.00,276.67 654.00,277.93 655.00,279.16 C656.00,280.38 657.00,281.57 658.00,282.72 C659.00,283.88 660.00,284.99 661.00,286.08 C662.00,287.17 663.00,288.22 664.00,289.25 C665.00,290.28 666.00,291.27 667.00,292.24 C668.00,293.21 669.00,294.16 670.00,295.07 C671.00,295.98 672.00,296.85 673.00,297.71 C674.00,298.56 675.00,299.38 676.00,300.18 C677.00,300.99 678.00,301.76 679.00,302.51 C680.00,303.27 681.00,304.00 682.00,304.71 C683.00,305.42 684.00,306.11 685.00,306.77 C686.00,307.44 687.00,308.09 688.00,308.72 C689.00,309.34 690.00,309.95 691.00,310.54 C692.00,311.13 693.00,311.71 694.00,312.26 C695.00,312.82 696.00,313.35 697.00,313.88 C698.00,314.40 699.00,314.90 700.00,315.39 C701.00,315.88 702.00,316.36 703.00,316.81 C704.00,317.27 705.00,317.72 706.00,318.15 C707.00,318.58 708.00,319.00 709.00,319.40 C710.00,319.81 711.00,320.20 712.00,320.58 C713.00,320.96 714.00,321.33 715.00,321.69 C716.00,322.04 717.00,322.39 718.00,322.73 C719.00,323.07 720.00,323.39 721.00,323.71 C722.00,324.03 723.00,324.34 724.00,324.64 C725.00,324.94 726.00,325.23 727.00,325.51 C728.00,325.80 729.00,326.07 730.00,326.34 C731.00,326.61 732.00,326.87 733.00,327.13 C734.00,327.38 735.00,327.63 736.00,327.87 C737.00,328.11 738.00,328.35 739.00,328.58 C740.00,328.81 741.00,329.04 742.00,329.26 C743.00,329.48 744.00,329.69 745.00,329.91 C746.00,330.12 747.00,330.32 748.00,330.53 C749.00,330.73 750.00,330.93 751.00,331.12 C752.00,331.32 753.00,331.51 754.00,331.70 C755.00,331.89 756.00,332.08 757.00,332.26 C758.00,332.44 759.00,332.62 760.00,332.80 C761.00,332.98 762.00,333.16 763.00,333.33 C764.00,333.51 765.00,333.68 766.00,333.85 C767.00,334.03 768.00,334.20 769.00,334.37 C770.00,334.54 771.00,334.71 772.00,334.87 C773.00,335.04 774.00,335.21 775.00,335.38 C776.00,335.54 777.00,335.71 778.00,335.88 C779.00,336.05 780.00,336.21 781.00,336.38 C782.00,336.55 783.00,336.72 784.00,336.89 C785.00,337.06 786.00,337.23 787.00,337.39 C788.00,337.56 789.00,337.73 790.00,337.90 C791.00,338.07 792.00,338.24 793.00,338.41 C794.00,338.58 795.00,338.75 796.00,338.92 C797.00,339.09 798.00,339.26 799.00,339.43 C800.00,339.60 801.00,339.77 802.00,339.94 C803.00,340.11 804.00,340.28 805.00,340.45 C806.00,340.62 807.00,340.79 808.00,340.96 C809.00,341.12 810.00,341.29 811.00,341.46 C812.00,341.63 813.00,341.79 814.00,341.96 C815.00,342.13 816.00,342.29 817.00,342.46 C818.00,342.62 819.00,342.79 820.00,342.95 C821.00,343.12 822.00,343.28 823.00,343.44 C824.00,343.60 825.00,343.76 826.00,343.92 C827.00,344.08 828.00,344.24 829.00,344.40 C830.00,344.56 831.00,344.71 832.00,344.87 C833.00,345.02 834.00,345.18 835.00,345.33 C836.00,345.48 837.00,345.63 838.00,345.78 C839.00,345.93 840.00,346.07 841.00,346.22 C842.00,346.37 843.00,346.51 844.00,346.65 C845.00,346.79 846.00,346.93 847.00,347.07 C848.00,347.21 849.00,347.34 850.00,347.48 C851.00,347.61 852.00,347.74 853.00,347.87 C854.00,348.00 855.00,348.13 856.00,348.25 C857.00,348.38 858.00,348.50 859.00,348.62 C860.00,348.74 861.00,348.85 862.00,348.97 C863.00,349.08 864.00,349.19 865.00,349.30 C866.00,349.41 867.00,349.52 868.00,349.62 C869.00,349.72 870.00,349.82 871.00,349.92 C872.00,350.02 873.00,350.12 874.00,350.21 C875.00,350.31 876.00,350.40 877.00,350.49 C878.00,350.58 879.00,350.67 880.00,350.75 C881.00,350.84 882.00,350.92 883.00,351.00 C884.00,351.08 885.00,351.16 886.00,351.24 C887.00,351.32 888.00,351.39 889.00,351.47 C890.00,351.54 891.00,351.61 892.00,351.68 C893.00,351.75 894.00,351.82 895.00,351.89 C896.00,351.96 897.00,352.02 898.00,352.08 C899.00,352.15 900.00,352.21 901.00,352.27 C902.00,352.33 903.00,352.39 904.00,352.45 C905.00,352.50 906.00,352.56 907.00,352.61 C908.00,352.67 909.00,352.72 910.00,352.77 C911.00,352.82 912.00,352.88 913.00,352.92 C914.00,352.97 915.00,353.02 916.00,353.07 C917.00,353.12 918.00,353.16 919.00,353.21 C920.00,353.25 921.00,353.30 922.00,353.34 C923.00,353.38 924.00,353.42 925.00,353.46 C926.00,353.51 927.00,353.55 928.00,353.58 C929.00,353.62 930.00,353.66 931.00,353.70 C932.00,353.74 933.00,353.78 934.00,353.81 C935.00,353.85 936.00,353.88 937.00,353.92 C938.00,353.95 939.00,353.99 940.00,354.02 C941.00,354.06 942.00,354.09 943.00,354.12 C944.00,354.16 945.00,354.19 946.00,354.22 C947.00,354.25 948.00,354.28 949.00,354.32 C950.00,354.35 951.00,354.38 952.00,354.41 C953.00,354.44 954.00,354.47 955.00,354.50 C956.00,354.53 957.00,354.57 958.00,354.60 C959.00,354.63 960.00,354.66 961.00,354.69 C962.00,354.72 963.00,354.75 964.00,354.78 C965.00,354.81 966.00,354.84 967.00,354.87 C968.00,354.90 969.00,354.93 970.00,354.96 C971.00,354.99 972.00,355.02 973.00,355.05 C974.00,355.09 975.00,355.12 976.00,355.15 C977.00,355.18 978.00,355.21 979.00,355.24 C980.00,355.27 981.00,355.30 982.00,355.33 C983.00,355.36 984.00,355.39 985.00,355.42 C986.00,355.45 987.00,355.48 988.00,355.51 C989.00,355.54 990.00,355.57 991.00,355.60 C992.00,355.63 993.00,355.66 994.00,355.69 C995.00,355.72 996.00,355.75 997.00,355.78 C998.00,355.81 999.00,355.85 1000.00,355.88 C1001.00,355.91 1002.00,355.94 1003.00,355.97 C1004.00,356.00 1005.00,356.03 1006.00,356.06 C1007.00,356.09 1008.00,356.12 1009.00,356.15 C1010.00,356.18 1011.00,356.21 1012.00,356.24 C1013.00,356.27 1014.00,356.30 1015.00,356.33 C1016.00,356.36 1017.00,356.39 1018.00,356.42 C1019.00,356.45 1020.00,356.48 1021.00,356.51 C1022.00,356.54 1023.00,356.57 1024.00,356.60 C1025.00,356.63 1026.00,356.66 1027.00,356.69 C1028.00,356.71 1029.00,356.74 1030.00,356.77 C1031.00,356.80 1032.00,356.83 1033.00,356.86 C1034.00,356.89 1035.00,356.92 1036.00,356.95 C1037.00,356.98 1038.00,357.01 1039.00,357.04 C1040.00,357.07 1041.00,357.10 1042.00,357.13 C1043.00,357.16 1044.00,357.19 1045.00,357.22 C1046.00,357.25 1047.00,357.28 1048.00,357.31 C1049.00,357.34 1050.00,357.37 1051.00,357.40 C1052.00,357.43 1053.00,357.46 1054.00,357.49 C1055.00,357.52 1056.00,357.55 1057.00,357.59 C1058.00,357.62 1059.00,357.65 1060.00,357.68 C1061.00,357.71 1062.00,357.74 1063.00,357.77 C1064.00,357.80 1065.00,357.83 1066.00,357.86 C1067.00,357.89 1068.00,357.92 1069.00,357.95 C1070.00,357.98 1071.00,358.01 1072.00,358.05 C1073.00,358.08 1074.00,358.11 1075.00,358.14 C1076.00,358.17 1077.00,358.20 1078.00,358.23 C1079.00,358.27 1080.00,358.30 1081.00,358.33 C1082.00,358.36 1083.00,358.39 1084.00,358.42 C1085.00,358.46 1086.00,358.49 1087.00,358.52 C1088.00,358.55 1089.00,358.59 1090.00,358.62 C1091.00,358.65 1092.00,358.68 1093.00,358.72 C1094.00,358.75 1095.00,358.78 1096.00,358.82 C1097.00,358.85 1098.00,358.88 1099.00,358.92 C1100.00,358.95 1101.00,358.98 1102.00,359.02 C1103.00,359.05 1104.00,359.09 1105.00,359.12 C1106.00,359.16 1107.00,359.19 1108.00,359.22 C1109.00,359.26 1110.00,359.29 1111.00,359.33 C1112.00,359.37 1113.00,359.40 1114.00,359.44 C1115.00,359.47 1116.00,359.51 1117.00,359.54 C1118.00,359.58 1119.00,359.62 1120.00,359.65 C1121.00,359.69 1122.00,359.73 1123.00,359.76 C1124.00,359.80 1125.00,359.84 1126.00,359.88 C1127.00,359.91 1128.00,359.95 1129.00,359.99 C1130.00,360.03 1131.00,360.07 1132.00,360.10 C1133.00,360.14 1134.00,360.18 1135.00,360.22 C1136.00,360.26 1137.00,360.30 1138.00,360.34 C1139.00,360.38 1140.00,360.42 1141.00,360.46 C1142.00,360.50 1143.00,360.54 1144.00,360.58 C1145.00,360.62 1146.00,360.66 1147.00,360.70 C1148.00,360.75 1149.00,360.79 1150.00,360.83 C1151.00,360.87 1152.00,360.91 1153.00,360.95 C1154.00,361.00 1155.00,361.04 1156.00,361.08 C1157.00,361.13 1158.00,361.17 1159.00,361.21 C1160.00,361.26 1161.00,361.30 1162.00,361.34 C1163.00,361.39 1164.00,361.43 1165.00,361.48 C1166.00,361.52 1167.00,361.56 1168.00,361.61 C1169.00,361.65 1170.00,361.70 1171.00,361.75 C1172.00,361.79 1173.00,361.84 1174.00,361.88 C1175.00,361.93 1176.00,361.97 1177.00,362.02 C1178.00,362.07 1179.00,362.11 1180.00,362.16 C1181.00,362.21 1182.00,362.25 1183.00,362.30 C1184.00,362.35 1185.00,362.40 1186.00,362.44 C1187.00,362.49 1188.00,362.54 1189.00,362.59 C1190.00,362.64 1191.00,362.68 1192.00,362.73 C1193.00,362.78 1194.00,362.83 1195.00,362.88 C1196.00,362.93 1197.00,362.97 1198.00,363.02 C1199.00,363.07 1200.00,363.12 1201.00,363.17 C1202.00,363.22 1203.00,363.27 1204.00,363.32 C1205.00,363.37 1206.00,363.42 1207.00,363.47 C1208.00,363.52 1209.00,363.57 1210.00,363.62 C1211.00,363.67 1212.00,363.72 1213.00,363.77 C1214.00,363.82 1215.00,363.87 1216.00,363.92 C1217.00,363.97 1218.00,364.02 1219.00,364.07 C1220.00,364.12 1221.00,364.17 1222.00,364.22 C1223.00,364.27 1224.00,364.32 1225.00,364.38 C1226.00,364.43 1227.00,364.48 1228.00,364.53 C1229.00,364.58 1230.00,364.63 1231.00,364.68 C1232.00,364.74 1233.00,364.79 1234.00,364.84 C1235.00,364.89 1236.00,364.94 1237.00,365.00 C1238.00,365.05 1239.00,365.10 1240.00,365.15 C1241.00,365.21 1242.00,365.26 1243.00,365.31 C1244.00,365.36 1245.00,365.42 1246.00,365.47 C1247.00,365.52 1248.00,365.58 1249.00,365.63 C1250.00,365.68 1251.00,365.73 1252.00,365.79 C1253.00,365.84 1254.00,365.89 1255.00,365.95 C1256.00,366.00 1257.00,366.05 1258.00,366.11 C1259.00,366.16 1260.00,366.22 1261.00,366.27 C1262.00,366.32 1263.00,366.38 1264.00,366.43 C1265.00,366.48 1266.00,366.54 1267.00,366.59 C1268.00,366.65 1269.00,366.70 1270.00,366.76 C1271.00,366.81 1272.00,366.86 1273.00,366.92 C1274.00,366.97 1275.00,367.03 1276.00,367.08 C1277.00,367.13 1278.00,367.19 1279.00,367.24 C1280.00,367.30 1281.00,367.35 1282.00,367.41 C1283.00,367.46 1284.00,367.52 1285.00,367.57 C1286.00,367.62 1287.00,367.68 1288.00,367.73 C1289.00,367.79 1290.00,367.84 1291.00,367.90 C1292.00,367.95 1293.00,368.01 1294.00,368.06 C1295.00,368.12 1296.00,368.17 1297.00,368.22 C1298.00,368.28 1299.00,368.33 1300.00,368.39 C1301.00,368.44 1302.00,368.50 1303.00,368.55 C1304.00,368.61 1305.00,368.66 1306.00,368.72 C1307.00,368.77 1308.00,368.83 1309.00,368.88 C1310.00,368.93 1311.00,368.99 1312.00,369.04 C1313.00,369.10 1314.00,369.15 1315.00,369.21 C1316.00,369.26 1317.00,369.32 1318.00,369.37 C1319.00,369.42 1320.00,369.48 1321.00,369.53 C1322.00,369.59 1323.00,369.64 1324.00,369.70 C1325.00,369.75 1326.00,369.80 1327.00,369.86 C1328.00,369.91 1329.00,369.97 1330.00,370.02 C1331.00,370.08 1332.00,370.13 1333.00,370.18 C1334.00,370.24 1335.00,370.29 1336.00,370.35 C1337.00,370.40 1338.00,370.45 1339.00,370.51 C1340.00,370.56 1341.00,370.61 1342.00,370.67 C1343.00,370.72 1344.00,370.77 1345.00,370.83 C1346.00,370.88 1347.00,370.93 1348.00,370.99 C1349.00,371.04 1350.00,371.09 1351.00,371.15 C1352.00,371.20 1353.00,371.25 1354.00,371.31 C1355.00,371.36 1356.00,371.41 1357.00,371.46 C1358.00,371.52 1359.00,371.57 1360.00,371.62 C1361.00,371.67 1362.00,371.73 1363.00,371.78 C1364.00,371.83 1365.00,371.88 1366.00,371.93 C1367.00,371.99 1368.00,372.04 1369.00,372.09 C1370.00,372.14 1371.00,372.19 1372.00,372.25 C1373.00,372.30 1374.00,372.35 1375.00,372.40 C1376.00,372.45 1377.00,372.50 1378.00,372.55 C1379.00,372.60 1380.00,372.65 1381.00,372.71 C1382.00,372.76 1383.00,372.81 1384.00,372.86 C1385.00,372.91 1386.00,372.96 1387.00,373.01 C1388.00,373.06 1389.00,373.11 1390.00,373.16 C1391.00,373.21 1392.00,373.26 1393.00,373.31 C1394.00,373.36 1395.00,373.41 1396.00,373.46 C1397.00,373.51 1398.00,373.56 1399.00,373.61 C1400.00,373.66 1401.00,373.71 1402.00,373.75 C1403.00,373.80 1404.00,373.85 1405.00,373.90 C1406.00,373.95 1407.00,374.00 1408.00,374.05 C1409.00,374.10 1410.00,374.15 1411.00,374.20 C1412.00,374.24 1413.00,374.29 1414.00,374.34 C1415.00,374.39 1416.00,374.44 1417.00,374.49 C1418.00,374.53 1419.00,374.58 1420.00,374.63 C1421.00,374.68 1422.00,374.73 1423.00,374.77 C1424.00,374.82 1425.00,374.87 1426.00,374.92 C1427.00,374.97 1428.00,375.01 1429.00,375.06 C1430.00,375.11 1431.00,375.16 1432.00,375.21 C1433.00,375.25 1434.00,375.30 1435.00,375.35 C1436.00,375.40 1437.00,375.44 1438.00,375.49 C1439.00,375.54 1440.00,375.59 1441.00,375.63 C1442.00,375.68 1443.00,375.73 1444.00,375.77 C1445.00,375.82 1446.00,375.87 1447.00,375.92 C1448.00,375.96 1448.90,376.01 1450.00,376.06 C1451.10,376.11 1453.00,376.20 1453.60,376.23"/>
<path d="M103.00,458.99 C103.50,459.20 105.00,459.84 106.00,460.26 C107.00,460.68 108.00,461.09 109.00,461.50 C110.00,461.90 111.00,462.31 112.00,462.70 C113.00,463.10 114.00,463.49 115.00,463.87 C116.00,464.25 117.00,464.63 118.00,465.00 C119.00,465.37 120.00,465.74 121.00,466.10 C122.00,466.46 123.00,466.81 124.00,467.15 C125.00,467.49 126.00,467.83 127.00,468.16 C128.00,468.49 129.00,468.80 130.00,469.11 C131.00,469.42 132.00,469.72 133.00,470.01 C134.00,470.30 135.00,470.57 136.00,470.84 C137.00,471.10 138.00,471.36 139.00,471.59 C140.00,471.83 141.00,472.06 142.00,472.26 C143.00,472.47 144.00,472.66 145.00,472.84 C146.00,473.01 147.00,473.17 148.00,473.31 C149.00,473.44 150.00,473.56 151.00,473.65 C152.00,473.75 153.00,473.82 154.00,473.88 C155.00,473.93 156.00,473.96 157.00,473.98 C158.00,473.99 159.00,473.99 160.00,473.97 C161.00,473.94 162.00,473.90 163.00,473.84 C164.00,473.78 165.00,473.70 166.00,473.61 C167.00,473.51 168.00,473.39 169.00,473.26 C170.00,473.13 171.00,472.98 172.00,472.81 C173.00,472.64 174.00,472.45 175.00,472.25 C176.00,472.04 177.00,471.82 178.00,471.58 C179.00,471.34 180.00,471.08 181.00,470.80 C182.00,470.52 183.00,470.22 184.00,469.90 C185.00,469.58 186.00,469.25 187.00,468.89 C188.00,468.54 189.00,468.16 190.00,467.77 C191.00,467.37 192.00,466.96 193.00,466.52 C194.00,466.09 195.00,465.63 196.00,465.15 C197.00,464.66 198.00,464.16 199.00,463.62 C200.00,463.08 201.00,462.52 202.00,461.93 C203.00,461.34 204.00,460.72 205.00,460.08 C206.00,459.43 207.00,458.75 208.00,458.04 C209.00,457.33 210.00,456.59 211.00,455.83 C212.00,455.06 213.00,454.26 214.00,453.44 C215.00,452.61 216.00,451.75 217.00,450.87 C218.00,449.99 219.00,449.09 220.00,448.16 C221.00,447.22 222.00,446.27 223.00,445.29 C224.00,444.32 225.00,443.32 226.00,442.31 C227.00,441.30 228.00,440.27 229.00,439.23 C230.00,438.19 231.00,437.14 232.00,436.08 C233.00,435.03 234.00,433.97 235.00,432.91 C236.00,431.86 237.00,430.81 238.00,429.78 C239.00,428.74 240.00,427.72 241.00,426.72 C242.00,425.73 243.00,424.75 244.00,423.81 C245.00,422.88 246.00,421.96 247.00,421.10 C248.00,420.24 249.00,419.41 250.00,418.63 C251.00,417.86 252.00,417.13 253.00,416.47 C254.00,415.80 255.00,415.18 256.00,414.64 C257.00,414.09 258.00,413.61 259.00,413.19 C260.00,412.78 261.00,412.43 262.00,412.16 C263.00,411.89 264.00,411.70 265.00,411.57 C266.00,411.45 267.00,411.43 268.00,411.43 C269.00,411.44 270.00,411.50 271.00,411.61 C272.00,411.71 273.00,411.86 274.00,412.05 C275.00,412.24 276.00,412.48 277.00,412.76 C278.00,413.03 279.00,413.35 280.00,413.71 C281.00,414.06 282.00,414.46 283.00,414.88 C284.00,415.31 285.00,415.78 286.00,416.27 C287.00,416.77 288.00,417.30 289.00,417.85 C290.00,418.40 291.00,418.99 292.00,419.60 C293.00,420.20 294.00,420.84 295.00,421.48 C296.00,422.13 297.00,422.81 298.00,423.49 C299.00,424.18 300.00,424.88 301.00,425.60 C302.00,426.31 303.00,427.04 304.00,427.77 C305.00,428.50 306.00,429.24 307.00,429.99 C308.00,430.73 309.00,431.48 310.00,432.22 C311.00,432.96 312.00,433.71 313.00,434.44 C314.00,435.18 315.00,435.92 316.00,436.65 C317.00,437.38 318.00,438.10 319.00,438.82 C320.00,439.54 321.00,440.25 322.00,440.95 C323.00,441.65 324.00,442.35 325.00,443.03 C326.00,443.71 327.00,444.39 328.00,445.05 C329.00,445.71 330.00,446.36 331.00,447.00 C332.00,447.64 333.00,448.26 334.00,448.88 C335.00,449.49 336.00,450.09 337.00,450.68 C338.00,451.26 339.00,451.83 340.00,452.39 C341.00,452.95 342.00,453.49 343.00,454.02 C344.00,454.55 345.00,455.07 346.00,455.57 C347.00,456.07 348.00,456.56 349.00,457.03 C350.00,457.50 351.00,457.96 352.00,458.40 C353.00,458.85 354.00,459.28 355.00,459.69 C356.00,460.11 357.00,460.51 358.00,460.90 C359.00,461.28 360.00,461.66 361.00,462.02 C362.00,462.38 363.00,462.72 364.00,463.05 C365.00,463.38 366.00,463.70 367.00,464.01 C368.00,464.31 369.00,464.60 370.00,464.88 C371.00,465.16 372.00,465.43 373.00,465.69 C374.00,465.94 375.00,466.19 376.00,466.42 C377.00,466.65 378.00,466.87 379.00,467.09 C380.00,467.30 381.00,467.50 382.00,467.69 C383.00,467.88 384.00,468.07 385.00,468.24 C386.00,468.42 387.00,468.58 388.00,468.74 C389.00,468.90 390.00,469.05 391.00,469.20 C392.00,469.34 393.00,469.48 394.00,469.61 C395.00,469.74 396.00,469.86 397.00,469.98 C398.00,470.10 399.00,470.21 400.00,470.31 C401.00,470.42 402.00,470.51 403.00,470.61 C404.00,470.70 405.00,470.78 406.00,470.85 C407.00,470.93 408.00,471.00 409.00,471.06 C410.00,471.13 411.00,471.18 412.00,471.23 C413.00,471.28 414.00,471.32 415.00,471.35 C416.00,471.38 417.00,471.41 418.00,471.43 C419.00,471.45 420.00,471.46 421.00,471.46 C422.00,471.46 423.00,471.46 424.00,471.44 C425.00,471.43 426.00,471.40 427.00,471.37 C428.00,471.34 429.00,471.30 430.00,471.25 C431.00,471.20 432.00,471.14 433.00,471.07 C434.00,471.00 435.00,470.92 436.00,470.84 C437.00,470.75 438.00,470.65 439.00,470.55 C440.00,470.45 441.00,470.33 442.00,470.21 C443.00,470.09 444.00,469.96 445.00,469.82 C446.00,469.68 447.00,469.53 448.00,469.37 C449.00,469.22 450.00,469.05 451.00,468.88 C452.00,468.70 453.00,468.52 454.00,468.33 C455.00,468.13 456.00,467.93 457.00,467.72 C458.00,467.51 459.00,467.29 460.00,467.06 C461.00,466.84 462.00,466.60 463.00,466.35 C464.00,466.10 465.00,465.84 466.00,465.57 C467.00,465.30 468.00,465.03 469.00,464.74 C470.00,464.45 471.00,464.15 472.00,463.83 C473.00,463.52 474.00,463.20 475.00,462.86 C476.00,462.52 477.00,462.18 478.00,461.81 C479.00,461.45 480.00,461.06 481.00,460.66 C482.00,460.26 483.00,459.82 484.00,459.38 C485.00,458.95 486.00,458.50 487.00,458.03 C488.00,457.57 489.00,457.09 490.00,456.60 C491.00,456.11 492.00,455.60 493.00,455.07 C494.00,454.54 495.00,454.00 496.00,453.44 C497.00,452.87 498.00,452.29 499.00,451.68 C500.00,451.07 501.00,450.44 502.00,449.78 C503.00,449.13 504.00,448.44 505.00,447.73 C506.00,447.01 507.00,446.27 508.00,445.49 C509.00,444.71 510.00,443.90 511.00,443.05 C512.00,442.19 513.00,441.30 514.00,440.36 C515.00,439.42 516.00,438.44 517.00,437.40 C518.00,436.35 519.00,435.27 520.00,434.11 C521.00,432.96 522.00,431.74 523.00,430.45 C524.00,429.17 525.00,427.82 526.00,426.38 C527.00,424.95 528.00,423.44 529.00,421.84 C530.00,420.24 531.00,418.57 532.00,416.79 C533.00,415.01 534.00,413.14 535.00,411.16 C536.00,409.17 537.00,407.09 538.00,404.89 C539.00,402.69 540.00,400.38 541.00,397.94 C542.00,395.51 543.00,392.95 544.00,390.27 C545.00,387.59 546.00,384.78 547.00,381.86 C548.00,378.94 549.00,375.88 550.00,372.73 C551.00,369.59 552.00,366.30 553.00,362.97 C554.00,359.63 555.00,356.17 556.00,352.72 C557.00,349.27 558.00,345.72 559.00,342.26 C560.00,338.80 561.00,335.29 562.00,331.97 C563.00,328.65 564.00,325.34 565.00,322.35 C566.00,319.35 567.00,316.46 568.00,314.00 C569.00,311.53 570.00,309.29 571.00,307.55 C572.00,305.82 573.00,304.43 574.00,303.58 C575.00,302.73 576.00,302.37 577.00,302.48 C578.00,302.59 579.00,303.22 580.00,304.23 C581.00,305.25 582.00,306.78 583.00,308.56 C584.00,310.34 585.00,312.57 586.00,314.91 C587.00,317.24 588.00,319.90 589.00,322.59 C590.00,325.27 591.00,328.15 592.00,331.01 C593.00,333.87 594.00,336.84 595.00,339.77 C596.00,342.70 597.00,345.67 598.00,348.60 C599.00,351.53 600.00,354.46 601.00,357.35 C602.00,360.24 603.00,363.11 604.00,365.93 C605.00,368.76 606.00,371.55 607.00,374.29 C608.00,377.03 609.00,379.73 610.00,382.37 C611.00,385.02 612.00,387.61 613.00,390.15 C614.00,392.69 615.00,395.18 616.00,397.61 C617.00,400.04 618.00,402.42 619.00,404.73 C620.00,407.05 621.00,409.31 622.00,411.51 C623.00,413.71 624.00,415.85 625.00,417.93 C626.00,420.01 627.00,422.04 628.00,424.00 C629.00,425.97 630.00,427.88 631.00,429.73 C632.00,431.59 633.00,433.38 634.00,435.12 C635.00,436.86 636.00,438.55 637.00,440.20 C638.00,441.84 639.00,443.43 640.00,444.97 C641.00,446.52 642.00,448.01 643.00,449.46 C644.00,450.92 645.00,452.32 646.00,453.69 C647.00,455.06 648.00,456.38 649.00,457.67 C650.00,458.96 651.00,460.20 652.00,461.41 C653.00,462.63 654.00,463.80 655.00,464.94 C656.00,466.08 657.00,467.19 658.00,468.27 C659.00,469.34 660.00,470.39 661.00,471.40 C662.00,472.42 663.00,473.40 664.00,474.36 C665.00,475.32 666.00,476.25 667.00,477.16 C668.00,478.07 669.00,478.96 670.00,479.81 C671.00,480.66 672.00,481.47 673.00,482.26 C674.00,483.06 675.00,483.83 676.00,484.58 C677.00,485.33 678.00,486.05 679.00,486.76 C680.00,487.47 681.00,488.15 682.00,488.81 C683.00,489.48 684.00,490.12 685.00,490.75 C686.00,491.38 687.00,491.99 688.00,492.58 C689.00,493.17 690.00,493.74 691.00,494.30 C692.00,494.86 693.00,495.40 694.00,495.92 C695.00,496.45 696.00,496.96 697.00,497.46 C698.00,497.95 699.00,498.43 700.00,498.90 C701.00,499.36 702.00,499.81 703.00,500.25 C704.00,500.69 705.00,501.12 706.00,501.53 C707.00,501.95 708.00,502.35 709.00,502.74 C710.00,503.13 711.00,503.51 712.00,503.88 C713.00,504.25 714.00,504.60 715.00,504.95 C716.00,505.30 717.00,505.64 718.00,505.97 C719.00,506.30 720.00,506.62 721.00,506.93 C722.00,507.24 723.00,507.55 724.00,507.84 C725.00,508.14 726.00,508.42 727.00,508.70 C728.00,508.99 729.00,509.26 730.00,509.53 C731.00,509.79 732.00,510.05 733.00,510.31 C734.00,510.56 735.00,510.81 736.00,511.05 C737.00,511.29 738.00,511.53 739.00,511.76 C740.00,511.99 741.00,512.21 742.00,512.44 C743.00,512.66 744.00,512.87 745.00,513.09 C746.00,513.30 747.00,513.51 748.00,513.71 C749.00,513.91 750.00,514.11 751.00,514.31 C752.00,514.51 753.00,514.70 754.00,514.89 C755.00,515.08 756.00,515.26 757.00,515.45 C758.00,515.63 759.00,515.81 760.00,515.99 C761.00,516.17 762.00,516.35 763.00,516.52 C764.00,516.70 765.00,516.87 766.00,517.04 C767.00,517.21 768.00,517.38 769.00,517.54 C770.00,517.71 771.00,517.87 772.00,518.04 C773.00,518.20 774.00,518.37 775.00,518.53 C776.00,518.69 777.00,518.85 778.00,519.01 C779.00,519.17 780.00,519.33 781.00,519.49 C782.00,519.65 783.00,519.81 784.00,519.97 C785.00,520.13 786.00,520.29 787.00,520.45 C788.00,520.60 789.00,520.76 790.00,520.92 C791.00,521.08 792.00,521.23 793.00,521.39 C794.00,521.54 795.00,521.70 796.00,521.85 C797.00,522.01 798.00,522.16 799.00,522.32 C800.00,522.47 801.00,522.63 802.00,522.78 C803.00,522.93 804.00,523.08 805.00,523.23 C806.00,523.39 807.00,523.54 808.00,523.69 C809.00,523.84 810.00,523.99 811.00,524.14 C812.00,524.28 813.00,524.43 814.00,524.58 C815.00,524.73 816.00,524.87 817.00,525.02 C818.00,525.16 819.00,525.31 820.00,525.45 C821.00,525.60 822.00,525.74 823.00,525.88 C824.00,526.02 825.00,526.16 826.00,526.30 C827.00,526.44 828.00,526.58 829.00,526.72 C830.00,526.86 831.00,526.99 832.00,527.13 C833.00,527.26 834.00,527.40 835.00,527.53 C836.00,527.66 837.00,527.79 838.00,527.92 C839.00,528.05 840.00,528.18 841.00,528.31 C842.00,528.43 843.00,528.56 844.00,528.68 C845.00,528.81 846.00,528.93 847.00,529.05 C848.00,529.17 849.00,529.29 850.00,529.41 C851.00,529.52 852.00,529.64 853.00,529.75 C854.00,529.87 855.00,529.98 856.00,530.09 C857.00,530.20 858.00,530.31 859.00,530.41 C860.00,530.52 861.00,530.62 862.00,530.72 C863.00,530.83 864.00,530.93 865.00,531.02 C866.00,531.12 867.00,531.22 868.00,531.31 C869.00,531.41 870.00,531.50 871.00,531.59 C872.00,531.68 873.00,531.77 874.00,531.85 C875.00,531.94 876.00,532.02 877.00,532.11 C878.00,532.19 879.00,532.27 880.00,532.35 C881.00,532.43 882.00,532.51 883.00,532.59 C884.00,532.66 885.00,532.74 886.00,532.81 C887.00,532.88 888.00,532.95 889.00,533.02 C890.00,533.09 891.00,533.16 892.00,533.23 C893.00,533.30 894.00,533.36 895.00,533.43 C896.00,533.49 897.00,533.55 898.00,533.61 C899.00,533.68 900.00,533.74 901.00,533.79 C902.00,533.85 903.00,533.91 904.00,533.97 C905.00,534.02 906.00,534.08 907.00,534.13 C908.00,534.18 909.00,534.24 910.00,534.29 C911.00,534.34 912.00,534.39 913.00,534.44 C914.00,534.48 915.00,534.53 916.00,534.58 C917.00,534.62 918.00,534.67 919.00,534.71 C920.00,534.76 921.00,534.80 922.00,534.84 C923.00,534.88 924.00,534.93 925.00,534.97 C926.00,535.01 927.00,535.04 928.00,535.08 C929.00,535.12 930.00,535.16 931.00,535.19 C932.00,535.23 933.00,535.27 934.00,535.30 C935.00,535.33 936.00,535.37 937.00,535.40 C938.00,535.43 939.00,535.47 940.00,535.50 C941.00,535.53 942.00,535.56 943.00,535.59 C944.00,535.62 945.00,535.65 946.00,535.68 C947.00,535.71 948.00,535.73 949.00,535.76 C950.00,535.79 951.00,535.81 952.00,535.84 C953.00,535.87 954.00,535.89 955.00,535.92 C956.00,535.94 957.00,535.97 958.00,535.99 C959.00,536.01 960.00,536.04 961.00,536.06 C962.00,536.08 963.00,536.11 964.00,536.13 C965.00,536.15 966.00,536.17 967.00,536.19 C968.00,536.21 969.00,536.24 970.00,536.26 C971.00,536.28 972.00,536.30 973.00,536.32 C974.00,536.34 975.00,536.35 976.00,536.37 C977.00,536.39 978.00,536.41 979.00,536.43 C980.00,536.45 981.00,536.46 982.00,536.48 C983.00,536.50 984.00,536.52 985.00,536.53 C986.00,536.55 987.00,536.57 988.00,536.58 C989.00,536.60 990.00,536.61 991.00,536.63 C992.00,536.65 993.00,536.66 994.00,536.68 C995.00,536.69 996.00,536.71 997.00,536.72 C998.00,536.74 999.00,536.75 1000.00,536.76 C1001.00,536.78 1002.00,536.79 1003.00,536.80 C1004.00,536.82 1005.00,536.83 1006.00,536.84 C1007.00,536.86 1008.00,536.87 1009.00,536.88 C1010.00,536.90 1011.00,536.91 1012.00,536.92 C1013.00,536.93 1014.00,536.95 1015.00,536.96 C1016.00,536.97 1017.00,536.98 1018.00,537.00 C1019.00,537.01 1020.00,537.02 1021.00,537.03 C1022.00,537.04 1023.00,537.05 1024.00,537.07 C1025.00,537.08 1026.00,537.09 1027.00,537.10 C1028.00,537.11 1029.00,537.12 1030.00,537.14 C1031.00,537.15 1032.00,537.16 1033.00,537.17 C1034.00,537.18 1035.00,537.19 1036.00,537.20 C1037.00,537.22 1038.00,537.23 1039.00,537.24 C1040.00,537.25 1041.00,537.26 1042.00,537.28 C1043.00,537.29 1044.00,537.30 1045.00,537.31 C1046.00,537.32 1047.00,537.34 1048.00,537.35 C1049.00,537.36 1050.00,537.37 1051.00,537.38 C1052.00,537.40 1053.00,537.41 1054.00,537.42 C1055.00,537.44 1056.00,537.45 1057.00,537.46 C1058.00,537.48 1059.00,537.49 1060.00,537.50 C1061.00,537.52 1062.00,537.53 1063.00,537.55 C1064.00,537.56 1065.00,537.57 1066.00,537.59 C1067.00,537.60 1068.00,537.62 1069.00,537.63 C1070.00,537.65 1071.00,537.67 1072.00,537.68 C1073.00,537.70 1074.00,537.71 1075.00,537.73 C1076.00,537.75 1077.00,537.77 1078.00,537.78 C1079.00,537.80 1080.00,537.82 1081.00,537.84 C1082.00,537.86 1083.00,537.87 1084.00,537.89 C1085.00,537.91 1086.00,537.93 1087.00,537.95 C1088.00,537.97 1089.00,537.99 1090.00,538.02 C1091.00,538.04 1092.00,538.06 1093.00,538.08 C1094.00,538.10 1095.00,538.12 1096.00,538.15 C1097.00,538.17 1098.00,538.19 1099.00,538.22 C1100.00,538.24 1101.00,538.26 1102.00,538.29 C1103.00,538.31 1104.00,538.34 1105.00,538.36 C1106.00,538.39 1107.00,538.41 1108.00,538.44 C1109.00,538.47 1110.00,538.49 1111.00,538.52 C1112.00,538.55 1113.00,538.58 1114.00,538.60 C1115.00,538.63 1116.00,538.66 1117.00,538.69 C1118.00,538.72 1119.00,538.75 1120.00,538.78 C1121.00,538.81 1122.00,538.84 1123.00,538.87 C1124.00,538.90 1125.00,538.93 1126.00,538.96 C1127.00,538.99 1128.00,539.02 1129.00,539.05 C1130.00,539.09 1131.00,539.12 1132.00,539.15 C1133.00,539.18 1134.00,539.22 1135.00,539.25 C1136.00,539.28 1137.00,539.32 1138.00,539.35 C1139.00,539.39 1140.00,539.42 1141.00,539.46 C1142.00,539.49 1143.00,539.53 1144.00,539.57 C1145.00,539.60 1146.00,539.64 1147.00,539.67 C1148.00,539.71 1149.00,539.75 1150.00,539.79 C1151.00,539.82 1152.00,539.86 1153.00,539.90 C1154.00,539.94 1155.00,539.98 1156.00,540.02 C1157.00,540.05 1158.00,540.09 1159.00,540.13 C1160.00,540.17 1161.00,540.21 1162.00,540.25 C1163.00,540.29 1164.00,540.33 1165.00,540.37 C1166.00,540.42 1167.00,540.46 1168.00,540.50 C1169.00,540.54 1170.00,540.58 1171.00,540.62 C1172.00,540.67 1173.00,540.71 1174.00,540.75 C1175.00,540.79 1176.00,540.84 1177.00,540.88 C1178.00,540.92 1179.00,540.97 1180.00,541.01 C1181.00,541.05 1182.00,541.10 1183.00,541.14 C1184.00,541.18 1185.00,541.23 1186.00,541.27 C1187.00,541.32 1188.00,541.36 1189.00,541.40 C1190.00,541.45 1191.00,541.49 1192.00,541.54 C1193.00,541.58 1194.00,541.63 1195.00,541.67 C1196.00,541.72 1197.00,541.76 1198.00,541.81 C1199.00,541.86 1200.00,541.90 1201.00,541.95 C1202.00,541.99 1203.00,542.04 1204.00,542.08 C1205.00,542.13 1206.00,542.17 1207.00,542.22 C1208.00,542.27 1209.00,542.31 1210.00,542.36 C1211.00,542.40 1212.00,542.45 1213.00,542.50 C1214.00,542.54 1215.00,542.59 1216.00,542.63 C1217.00,542.68 1218.00,542.73 1219.00,542.77 C1220.00,542.82 1221.00,542.87 1222.00,542.91 C1223.00,542.96 1224.00,543.01 1225.00,543.05 C1226.00,543.10 1227.00,543.15 1228.00,543.19 C1229.00,543.24 1230.00,543.29 1231.00,543.34 C1232.00,543.38 1233.00,543.43 1234.00,543.48 C1235.00,543.53 1236.00,543.57 1237.00,543.62 C1238.00,543.67 1239.00,543.72 1240.00,543.77 C1241.00,543.81 1242.00,543.86 1243.00,543.91 C1244.00,543.96 1245.00,544.01 1246.00,544.05 C1247.00,544.10 1248.00,544.15 1249.00,544.20 C1250.00,544.25 1251.00,544.30 1252.00,544.35 C1253.00,544.40 1254.00,544.44 1255.00,544.49 C1256.00,544.54 1257.00,544.59 1258.00,544.64 C1259.00,544.69 1260.00,544.74 1261.00,544.79 C1262.00,544.84 1263.00,544.89 1264.00,544.94 C1265.00,544.99 1266.00,545.04 1267.00,545.09 C1268.00,545.14 1269.00,545.19 1270.00,545.24 C1271.00,545.29 1272.00,545.34 1273.00,545.39 C1274.00,545.44 1275.00,545.49 1276.00,545.54 C1277.00,545.59 1278.00,545.64 1279.00,545.69 C1280.00,545.74 1281.00,545.79 1282.00,545.84 C1283.00,545.89 1284.00,545.94 1285.00,545.99 C1286.00,546.04 1287.00,546.09 1288.00,546.14 C1289.00,546.19 1290.00,546.24 1291.00,546.29 C1292.00,546.34 1293.00,546.39 1294.00,546.44 C1295.00,546.50 1296.00,546.55 1297.00,546.60 C1298.00,546.65 1299.00,546.70 1300.00,546.75 C1301.00,546.80 1302.00,546.85 1303.00,546.90 C1304.00,546.95 1305.00,547.01 1306.00,547.06 C1307.00,547.11 1308.00,547.16 1309.00,547.21 C1310.00,547.26 1311.00,547.31 1312.00,547.36 C1313.00,547.41 1314.00,547.47 1315.00,547.52 C1316.00,547.57 1317.00,547.62 1318.00,547.67 C1319.00,547.72 1320.00,547.77 1321.00,547.82 C1322.00,547.88 1323.00,547.93 1324.00,547.98 C1325.00,548.03 1326.00,548.08 1327.00,548.13 C1328.00,548.18 1329.00,548.23 1330.00,548.29 C1331.00,548.34 1332.00,548.39 1333.00,548.44 C1334.00,548.49 1335.00,548.54 1336.00,548.59 C1337.00,548.65 1338.00,548.70 1339.00,548.75 C1340.00,548.80 1341.00,548.85 1342.00,548.90 C1343.00,548.95 1344.00,549.01 1345.00,549.06 C1346.00,549.11 1347.00,549.16 1348.00,549.21 C1349.00,549.26 1350.00,549.31 1351.00,549.37 C1352.00,549.42 1353.00,549.47 1354.00,549.52 C1355.00,549.57 1356.00,549.62 1357.00,549.67 C1358.00,549.73 1359.00,549.78 1360.00,549.83 C1361.00,549.88 1362.00,549.93 1363.00,549.98 C1364.00,550.04 1365.00,550.09 1366.00,550.14 C1367.00,550.19 1368.00,550.24 1369.00,550.29 C1370.00,550.34 1371.00,550.40 1372.00,550.45 C1373.00,550.50 1374.00,550.55 1375.00,550.60 C1376.00,550.66 1377.00,550.71 1378.00,550.76 C1379.00,550.81 1380.00,550.86 1381.00,550.91 C1382.00,550.97 1383.00,551.02 1384.00,551.07 C1385.00,551.12 1386.00,551.18 1387.00,551.23 C1388.00,551.28 1389.00,551.33 1390.00,551.38 C1391.00,551.44 1392.00,551.49 1393.00,551.54 C1394.00,551.59 1395.00,551.65 1396.00,551.70 C1397.00,551.75 1398.00,551.81 1399.00,551.86 C1400.00,551.91 1401.00,551.96 1402.00,552.02 C1403.00,552.07 1404.00,552.12 1405.00,552.18 C1406.00,552.23 1407.00,552.29 1408.00,552.34 C1409.00,552.39 1410.00,552.45 1411.00,552.50 C1412.00,552.55 1413.00,552.61 1414.00,552.66 C1415.00,552.72 1416.00,552.77 1417.00,552.83 C1418.00,552.88 1419.00,552.94 1420.00,552.99 C1421.00,553.05 1422.00,553.10 1423.00,553.16 C1424.00,553.21 1425.00,553.27 1426.00,553.32 C1427.00,553.38 1428.00,553.44 1429.00,553.49 C1430.00,553.55 1431.00,553.61 1432.00,553.66 C1433.00,553.72 1434.00,553.78 1435.00,553.83 C1436.00,553.89 1437.00,553.95 1438.00,554.01 C1439.00,554.07 1440.00,554.12 1441.00,554.18 C1442.00,554.24 1443.00,554.30 1444.00,554.36 C1445.00,554.42 1446.00,554.48 1447.00,554.54 C1448.00,554.60 1448.90,554.65 1450.00,554.72 C1451.10,554.78 1453.00,554.90 1453.60,554.94"/>
<path d="M103.00,665.79 C103.50,666.01 105.00,666.68 106.00,667.11 C107.00,667.55 108.00,667.97 109.00,668.38 C110.00,668.80 111.00,669.20 112.00,669.60 C113.00,670.00 114.00,670.38 115.00,670.77 C116.00,671.15 117.00,671.52 118.00,671.89 C119.00,672.26 120.00,672.62 121.00,672.97 C122.00,673.32 123.00,673.67 124.00,674.01 C125.00,674.34 126.00,674.67 127.00,674.99 C128.00,675.31 129.00,675.63 130.00,675.93 C131.00,676.23 132.00,676.52 133.00,676.80 C134.00,677.08 135.00,677.35 136.00,677.61 C137.00,677.87 138.00,678.11 139.00,678.34 C140.00,678.57 141.00,678.78 142.00,678.98 C143.00,679.18 144.00,679.36 145.00,679.52 C146.00,679.68 147.00,679.83 148.00,679.95 C149.00,680.07 150.00,680.17 151.00,680.25 C152.00,680.33 153.00,680.38 154.00,680.41 C155.00,680.44 156.00,680.45 157.00,680.44 C158.00,680.43 159.00,680.40 160.00,680.35 C161.00,680.30 162.00,680.23 163.00,680.14 C164.00,680.05 165.00,679.94 166.00,679.82 C167.00,679.69 168.00,679.54 169.00,679.37 C170.00,679.21 171.00,679.02 172.00,678.82 C173.00,678.61 174.00,678.39 175.00,678.14 C176.00,677.90 177.00,677.64 178.00,677.35 C179.00,677.07 180.00,676.76 181.00,676.44 C182.00,676.11 183.00,675.77 184.00,675.40 C185.00,675.03 186.00,674.64 187.00,674.23 C188.00,673.82 189.00,673.39 190.00,672.93 C191.00,672.48 192.00,672.00 193.00,671.50 C194.00,670.99 195.00,670.46 196.00,669.91 C197.00,669.35 198.00,668.76 199.00,668.14 C200.00,667.53 201.00,666.88 202.00,666.20 C203.00,665.51 204.00,664.80 205.00,664.05 C206.00,663.30 207.00,662.52 208.00,661.71 C209.00,660.89 210.00,660.04 211.00,659.16 C212.00,658.28 213.00,657.36 214.00,656.41 C215.00,655.46 216.00,654.48 217.00,653.47 C218.00,652.47 219.00,651.43 220.00,650.37 C221.00,649.31 222.00,648.22 223.00,647.11 C224.00,646.00 225.00,644.87 226.00,643.73 C227.00,642.59 228.00,641.43 229.00,640.27 C230.00,639.11 231.00,637.93 232.00,636.76 C233.00,635.60 234.00,634.42 235.00,633.26 C236.00,632.11 237.00,630.95 238.00,629.83 C239.00,628.71 240.00,627.60 241.00,626.54 C242.00,625.47 243.00,624.43 244.00,623.44 C245.00,622.45 246.00,621.50 247.00,620.60 C248.00,619.71 249.00,618.86 250.00,618.09 C251.00,617.31 252.00,616.59 253.00,615.94 C254.00,615.29 255.00,614.71 256.00,614.21 C257.00,613.71 258.00,613.29 259.00,612.94 C260.00,612.60 261.00,612.34 262.00,612.16 C263.00,611.99 264.00,611.92 265.00,611.88 C266.00,611.84 267.00,611.85 268.00,611.90 C269.00,611.94 270.00,612.03 271.00,612.15 C272.00,612.27 273.00,612.44 274.00,612.64 C275.00,612.84 276.00,613.08 277.00,613.35 C278.00,613.63 279.00,613.94 280.00,614.28 C281.00,614.62 282.00,615.00 283.00,615.40 C284.00,615.81 285.00,616.25 286.00,616.71 C287.00,617.17 288.00,617.67 289.00,618.18 C290.00,618.70 291.00,619.24 292.00,619.81 C293.00,620.37 294.00,620.95 295.00,621.56 C296.00,622.16 297.00,622.78 298.00,623.42 C299.00,624.05 300.00,624.70 301.00,625.37 C302.00,626.03 303.00,626.70 304.00,627.38 C305.00,628.06 306.00,628.76 307.00,629.45 C308.00,630.14 309.00,630.84 310.00,631.54 C311.00,632.24 312.00,632.94 313.00,633.64 C314.00,634.34 315.00,635.04 316.00,635.74 C317.00,636.43 318.00,637.13 319.00,637.81 C320.00,638.50 321.00,639.18 322.00,639.86 C323.00,640.53 324.00,641.20 325.00,641.86 C326.00,642.52 327.00,643.18 328.00,643.82 C329.00,644.46 330.00,645.09 331.00,645.71 C332.00,646.33 333.00,646.94 334.00,647.53 C335.00,648.12 336.00,648.71 337.00,649.27 C338.00,649.84 339.00,650.39 340.00,650.93 C341.00,651.47 342.00,651.99 343.00,652.50 C344.00,653.00 345.00,653.49 346.00,653.97 C347.00,654.44 348.00,654.90 349.00,655.33 C350.00,655.77 351.00,656.19 352.00,656.60 C353.00,657.00 354.00,657.39 355.00,657.76 C356.00,658.13 357.00,658.48 358.00,658.82 C359.00,659.16 360.00,659.48 361.00,659.79 C362.00,660.10 363.00,660.39 364.00,660.67 C365.00,660.95 366.00,661.21 367.00,661.47 C368.00,661.72 369.00,661.96 370.00,662.19 C371.00,662.42 372.00,662.63 373.00,662.84 C374.00,663.05 375.00,663.24 376.00,663.43 C377.00,663.62 378.00,663.80 379.00,663.97 C380.00,664.14 381.00,664.31 382.00,664.47 C383.00,664.63 384.00,664.78 385.00,664.93 C386.00,665.08 387.00,665.22 388.00,665.37 C389.00,665.51 390.00,665.65 391.00,665.79 C392.00,665.93 393.00,666.07 394.00,666.20 C395.00,666.34 396.00,666.47 397.00,666.60 C398.00,666.73 399.00,666.85 400.00,666.97 C401.00,667.09 402.00,667.21 403.00,667.32 C404.00,667.43 405.00,667.53 406.00,667.63 C407.00,667.73 408.00,667.82 409.00,667.90 C410.00,667.99 411.00,668.06 412.00,668.13 C413.00,668.20 414.00,668.26 415.00,668.30 C416.00,668.35 417.00,668.39 418.00,668.42 C419.00,668.45 420.00,668.47 421.00,668.47 C422.00,668.48 423.00,668.47 424.00,668.45 C425.00,668.43 426.00,668.40 427.00,668.35 C428.00,668.30 429.00,668.24 430.00,668.16 C431.00,668.08 432.00,667.98 433.00,667.88 C434.00,667.77 435.00,667.64 436.00,667.50 C437.00,667.36 438.00,667.21 439.00,667.05 C440.00,666.88 441.00,666.70 442.00,666.51 C443.00,666.32 444.00,666.11 445.00,665.90 C446.00,665.68 447.00,665.45 448.00,665.21 C449.00,664.97 450.00,664.72 451.00,664.46 C452.00,664.20 453.00,663.92 454.00,663.64 C455.00,663.36 456.00,663.06 457.00,662.76 C458.00,662.46 459.00,662.14 460.00,661.82 C461.00,661.50 462.00,661.17 463.00,660.82 C464.00,660.48 465.00,660.13 466.00,659.77 C467.00,659.41 468.00,659.04 469.00,658.66 C470.00,658.28 471.00,657.89 472.00,657.49 C473.00,657.09 474.00,656.69 475.00,656.27 C476.00,655.85 477.00,655.42 478.00,654.97 C479.00,654.53 480.00,654.07 481.00,653.60 C482.00,653.12 483.00,652.64 484.00,652.13 C485.00,651.63 486.00,651.11 487.00,650.58 C488.00,650.05 489.00,649.50 490.00,648.93 C491.00,648.36 492.00,647.77 493.00,647.16 C494.00,646.55 495.00,645.92 496.00,645.26 C497.00,644.60 498.00,643.92 499.00,643.21 C500.00,642.50 501.00,641.76 502.00,640.99 C503.00,640.22 504.00,639.42 505.00,638.59 C506.00,637.75 507.00,636.88 508.00,635.96 C509.00,635.05 510.00,634.10 511.00,633.10 C512.00,632.10 513.00,631.06 514.00,629.97 C515.00,628.87 516.00,627.73 517.00,626.53 C518.00,625.32 519.00,624.07 520.00,622.74 C521.00,621.41 522.00,620.03 523.00,618.56 C524.00,617.10 525.00,615.57 526.00,613.95 C527.00,612.34 528.00,610.65 529.00,608.85 C530.00,607.06 531.00,605.19 532.00,603.21 C533.00,601.23 534.00,599.15 535.00,596.96 C536.00,594.76 537.00,592.46 538.00,590.04 C539.00,587.61 540.00,585.07 541.00,582.39 C542.00,579.71 543.00,576.91 544.00,573.97 C545.00,571.04 546.00,567.96 547.00,564.76 C548.00,561.55 549.00,558.21 550.00,554.75 C551.00,551.29 552.00,547.69 553.00,544.02 C554.00,540.34 555.00,536.53 556.00,532.70 C557.00,528.87 558.00,524.92 559.00,521.05 C560.00,517.17 561.00,513.22 562.00,509.45 C563.00,505.69 564.00,501.90 565.00,498.45 C566.00,494.99 567.00,491.62 568.00,488.72 C569.00,485.82 570.00,483.12 571.00,481.04 C572.00,478.95 573.00,477.20 574.00,476.21 C575.00,475.22 576.00,474.88 577.00,475.10 C578.00,475.31 579.00,476.33 580.00,477.51 C581.00,478.69 582.00,480.31 583.00,482.17 C584.00,484.02 585.00,486.23 586.00,488.62 C587.00,491.01 588.00,493.69 589.00,496.49 C590.00,499.29 591.00,502.33 592.00,505.42 C593.00,508.52 594.00,511.78 595.00,515.06 C596.00,518.35 597.00,521.74 598.00,525.12 C599.00,528.50 600.00,531.94 601.00,535.34 C602.00,538.74 603.00,542.16 604.00,545.52 C605.00,548.88 606.00,552.22 607.00,555.49 C608.00,558.76 609.00,561.99 610.00,565.15 C611.00,568.30 612.00,571.39 613.00,574.40 C614.00,577.41 615.00,580.35 616.00,583.21 C617.00,586.07 618.00,588.85 619.00,591.54 C620.00,594.24 621.00,596.86 622.00,599.39 C623.00,601.93 624.00,604.38 625.00,606.76 C626.00,609.14 627.00,611.44 628.00,613.66 C629.00,615.89 630.00,618.03 631.00,620.11 C632.00,622.18 633.00,624.18 634.00,626.11 C635.00,628.05 636.00,629.91 637.00,631.72 C638.00,633.53 639.00,635.28 640.00,636.97 C641.00,638.66 642.00,640.30 643.00,641.88 C644.00,643.46 645.00,644.99 646.00,646.48 C647.00,647.96 648.00,649.39 649.00,650.79 C650.00,652.18 651.00,653.53 652.00,654.83 C653.00,656.14 654.00,657.41 655.00,658.64 C656.00,659.87 657.00,661.06 658.00,662.22 C659.00,663.38 660.00,664.51 661.00,665.60 C662.00,666.69 663.00,667.76 664.00,668.79 C665.00,669.82 666.00,670.83 667.00,671.81 C668.00,672.78 669.00,673.74 670.00,674.66 C671.00,675.58 672.00,676.45 673.00,677.31 C674.00,678.17 675.00,679.01 676.00,679.82 C677.00,680.63 678.00,681.41 679.00,682.18 C680.00,682.94 681.00,683.68 682.00,684.41 C683.00,685.13 684.00,685.83 685.00,686.51 C686.00,687.19 687.00,687.85 688.00,688.49 C689.00,689.14 690.00,689.76 691.00,690.37 C692.00,690.98 693.00,691.56 694.00,692.14 C695.00,692.71 696.00,693.27 697.00,693.81 C698.00,694.35 699.00,694.87 700.00,695.38 C701.00,695.89 702.00,696.38 703.00,696.86 C704.00,697.34 705.00,697.81 706.00,698.26 C707.00,698.71 708.00,699.15 709.00,699.58 C710.00,700.01 711.00,700.42 712.00,700.82 C713.00,701.23 714.00,701.62 715.00,702.00 C716.00,702.38 717.00,702.75 718.00,703.11 C719.00,703.47 720.00,703.83 721.00,704.17 C722.00,704.51 723.00,704.84 724.00,705.17 C725.00,705.49 726.00,705.81 727.00,706.12 C728.00,706.42 729.00,706.72 730.00,707.02 C731.00,707.31 732.00,707.60 733.00,707.88 C734.00,708.16 735.00,708.43 736.00,708.70 C737.00,708.96 738.00,709.22 739.00,709.48 C740.00,709.74 741.00,709.98 742.00,710.23 C743.00,710.47 744.00,710.71 745.00,710.95 C746.00,711.19 747.00,711.42 748.00,711.64 C749.00,711.87 750.00,712.09 751.00,712.31 C752.00,712.53 753.00,712.75 754.00,712.96 C755.00,713.17 756.00,713.38 757.00,713.59 C758.00,713.79 759.00,714.00 760.00,714.20 C761.00,714.40 762.00,714.60 763.00,714.79 C764.00,714.99 765.00,715.19 766.00,715.38 C767.00,715.57 768.00,715.76 769.00,715.95 C770.00,716.14 771.00,716.33 772.00,716.52 C773.00,716.71 774.00,716.90 775.00,717.09 C776.00,717.27 777.00,717.46 778.00,717.65 C779.00,717.83 780.00,718.02 781.00,718.20 C782.00,718.39 783.00,718.58 784.00,718.76 C785.00,718.95 786.00,719.14 787.00,719.32 C788.00,719.51 789.00,719.69 790.00,719.88 C791.00,720.07 792.00,720.25 793.00,720.44 C794.00,720.62 795.00,720.81 796.00,721.00 C797.00,721.18 798.00,721.37 799.00,721.55 C800.00,721.74 801.00,721.92 802.00,722.11 C803.00,722.29 804.00,722.48 805.00,722.66 C806.00,722.84 807.00,723.03 808.00,723.21 C809.00,723.39 810.00,723.58 811.00,723.76 C812.00,723.94 813.00,724.12 814.00,724.30 C815.00,724.48 816.00,724.66 817.00,724.84 C818.00,725.02 819.00,725.20 820.00,725.38 C821.00,725.56 822.00,725.74 823.00,725.91 C824.00,726.09 825.00,726.27 826.00,726.44 C827.00,726.61 828.00,726.79 829.00,726.96 C830.00,727.13 831.00,727.31 832.00,727.48 C833.00,727.65 834.00,727.81 835.00,727.98 C836.00,728.15 837.00,728.32 838.00,728.48 C839.00,728.65 840.00,728.81 841.00,728.97 C842.00,729.14 843.00,729.30 844.00,729.46 C845.00,729.61 846.00,729.77 847.00,729.93 C848.00,730.08 849.00,730.24 850.00,730.39 C851.00,730.54 852.00,730.69 853.00,730.84 C854.00,730.99 855.00,731.14 856.00,731.28 C857.00,731.43 858.00,731.57 859.00,731.71 C860.00,731.85 861.00,731.99 862.00,732.12 C863.00,732.26 864.00,732.39 865.00,732.52 C866.00,732.65 867.00,732.78 868.00,732.91 C869.00,733.04 870.00,733.16 871.00,733.28 C872.00,733.41 873.00,733.53 874.00,733.65 C875.00,733.77 876.00,733.88 877.00,734.00 C878.00,734.11 879.00,734.23 880.00,734.34 C881.00,734.45 882.00,734.56 883.00,734.67 C884.00,734.78 885.00,734.88 886.00,734.99 C887.00,735.09 888.00,735.19 889.00,735.29 C890.00,735.39 891.00,735.49 892.00,735.59 C893.00,735.69 894.00,735.78 895.00,735.88 C896.00,735.97 897.00,736.06 898.00,736.15 C899.00,736.25 900.00,736.33 901.00,736.42 C902.00,736.51 903.00,736.60 904.00,736.68 C905.00,736.77 906.00,736.85 907.00,736.93 C908.00,737.01 909.00,737.09 910.00,737.17 C911.00,737.25 912.00,737.33 913.00,737.41 C914.00,737.48 915.00,737.56 916.00,737.63 C917.00,737.71 918.00,737.78 919.00,737.85 C920.00,737.92 921.00,737.99 922.00,738.06 C923.00,738.13 924.00,738.20 925.00,738.26 C926.00,738.33 927.00,738.40 928.00,738.46 C929.00,738.52 930.00,738.59 931.00,738.65 C932.00,738.71 933.00,738.77 934.00,738.83 C935.00,738.89 936.00,738.95 937.00,739.01 C938.00,739.06 939.00,739.12 940.00,739.18 C941.00,739.23 942.00,739.29 943.00,739.34 C944.00,739.39 945.00,739.45 946.00,739.50 C947.00,739.55 948.00,739.60 949.00,739.65 C950.00,739.70 951.00,739.75 952.00,739.80 C953.00,739.84 954.00,739.89 955.00,739.94 C956.00,739.98 957.00,740.03 958.00,740.07 C959.00,740.12 960.00,740.16 961.00,740.21 C962.00,740.25 963.00,740.29 964.00,740.33 C965.00,740.38 966.00,740.42 967.00,740.46 C968.00,740.50 969.00,740.54 970.00,740.57 C971.00,740.61 972.00,740.65 973.00,740.69 C974.00,740.73 975.00,740.76 976.00,740.80 C977.00,740.83 978.00,740.87 979.00,740.90 C980.00,740.94 981.00,740.97 982.00,741.01 C983.00,741.04 984.00,741.07 985.00,741.10 C986.00,741.13 987.00,741.17 988.00,741.20 C989.00,741.23 990.00,741.26 991.00,741.29 C992.00,741.32 993.00,741.34 994.00,741.37 C995.00,741.40 996.00,741.43 997.00,741.46 C998.00,741.48 999.00,741.51 1000.00,741.53 C1001.00,741.56 1002.00,741.59 1003.00,741.61 C1004.00,741.64 1005.00,741.66 1006.00,741.68 C1007.00,741.71 1008.00,741.73 1009.00,741.75 C1010.00,741.78 1011.00,741.80 1012.00,741.82 C1013.00,741.84 1014.00,741.86 1015.00,741.88 C1016.00,741.91 1017.00,741.93 1018.00,741.95 C1019.00,741.97 1020.00,741.99 1021.00,742.01 C1022.00,742.02 1023.00,742.04 1024.00,742.06 C1025.00,742.08 1026.00,742.10 1027.00,742.12 C1028.00,742.14 1029.00,742.15 1030.00,742.17 C1031.00,742.19 1032.00,742.21 1033.00,742.22 C1034.00,742.24 1035.00,742.26 1036.00,742.27 C1037.00,742.29 1038.00,742.31 1039.00,742.32 C1040.00,742.34 1041.00,742.35 1042.00,742.37 C1043.00,742.39 1044.00,742.40 1045.00,742.42 C1046.00,742.43 1047.00,742.45 1048.00,742.46 C1049.00,742.48 1050.00,742.49 1051.00,742.51 C1052.00,742.53 1053.00,742.54 1054.00,742.56 C1055.00,742.57 1056.00,742.59 1057.00,742.60 C1058.00,742.62 1059.00,742.64 1060.00,742.65 C1061.00,742.67 1062.00,742.68 1063.00,742.70 C1064.00,742.72 1065.00,742.73 1066.00,742.75 C1067.00,742.77 1068.00,742.78 1069.00,742.80 C1070.00,742.82 1071.00,742.84 1072.00,742.86 C1073.00,742.87 1074.00,742.89 1075.00,742.91 C1076.00,742.93 1077.00,742.95 1078.00,742.97 C1079.00,742.99 1080.00,743.01 1081.00,743.03 C1082.00,743.05 1083.00,743.07 1084.00,743.10 C1085.00,743.12 1086.00,743.14 1087.00,743.16 C1088.00,743.19 1089.00,743.21 1090.00,743.24 C1091.00,743.26 1092.00,743.28 1093.00,743.31 C1094.00,743.34 1095.00,743.36 1096.00,743.39 C1097.00,743.42 1098.00,743.44 1099.00,743.47 C1100.00,743.50 1101.00,743.53 1102.00,743.56 C1103.00,743.59 1104.00,743.62 1105.00,743.65 C1106.00,743.68 1107.00,743.71 1108.00,743.74 C1109.00,743.77 1110.00,743.80 1111.00,743.84 C1112.00,743.87 1113.00,743.90 1114.00,743.94 C1115.00,743.97 1116.00,744.01 1117.00,744.04 C1118.00,744.08 1119.00,744.11 1120.00,744.15 C1121.00,744.19 1122.00,744.22 1123.00,744.26 C1124.00,744.30 1125.00,744.34 1126.00,744.38 C1127.00,744.42 1128.00,744.46 1129.00,744.50 C1130.00,744.54 1131.00,744.58 1132.00,744.63 C1133.00,744.67 1134.00,744.71 1135.00,744.76 C1136.00,744.80 1137.00,744.84 1138.00,744.89 C1139.00,744.94 1140.00,744.98 1141.00,745.03 C1142.00,745.07 1143.00,745.12 1144.00,745.17 C1145.00,745.22 1146.00,745.27 1147.00,745.32 C1148.00,745.37 1149.00,745.42 1150.00,745.47 C1151.00,745.52 1152.00,745.57 1153.00,745.62 C1154.00,745.67 1155.00,745.72 1156.00,745.78 C1157.00,745.83 1158.00,745.88 1159.00,745.94 C1160.00,745.99 1161.00,746.05 1162.00,746.10 C1163.00,746.16 1164.00,746.22 1165.00,746.27 C1166.00,746.33 1167.00,746.39 1168.00,746.44 C1169.00,746.50 1170.00,746.56 1171.00,746.62 C1172.00,746.68 1173.00,746.74 1174.00,746.80 C1175.00,746.86 1176.00,746.92 1177.00,746.98 C1178.00,747.04 1179.00,747.10 1180.00,747.16 C1181.00,747.22 1182.00,747.28 1183.00,747.35 C1184.00,747.41 1185.00,747.47 1186.00,747.53 C1187.00,747.60 1188.00,747.66 1189.00,747.72 C1190.00,747.78 1191.00,747.85 1192.00,747.91 C1193.00,747.97 1194.00,748.04 1195.00,748.10 C1196.00,748.17 1197.00,748.23 1198.00,748.29 C1199.00,748.36 1200.00,748.42 1201.00,748.49 C1202.00,748.55 1203.00,748.61 1204.00,748.68 C1205.00,748.74 1206.00,748.81 1207.00,748.87 C1208.00,748.94 1209.00,749.00 1210.00,749.06 C1211.00,749.13 1212.00,749.19 1213.00,749.26 C1214.00,749.32 1215.00,749.38 1216.00,749.45 C1217.00,749.51 1218.00,749.58 1219.00,749.64 C1220.00,749.71 1221.00,749.77 1222.00,749.84 C1223.00,749.90 1224.00,749.96 1225.00,750.03 C1226.00,750.09 1227.00,750.16 1228.00,750.22 C1229.00,750.29 1230.00,750.35 1231.00,750.41 C1232.00,750.48 1233.00,750.54 1234.00,750.61 C1235.00,750.67 1236.00,750.74 1237.00,750.80 C1238.00,750.86 1239.00,750.93 1240.00,750.99 C1241.00,751.06 1242.00,751.12 1243.00,751.18 C1244.00,751.25 1245.00,751.31 1246.00,751.38 C1247.00,751.44 1248.00,751.50 1249.00,751.57 C1250.00,751.63 1251.00,751.70 1252.00,751.76 C1253.00,751.82 1254.00,751.89 1255.00,751.95 C1256.00,752.01 1257.00,752.08 1258.00,752.14 C1259.00,752.20 1260.00,752.27 1261.00,752.33 C1262.00,752.39 1263.00,752.46 1264.00,752.52 C1265.00,752.58 1266.00,752.65 1267.00,752.71 C1268.00,752.77 1269.00,752.83 1270.00,752.90 C1271.00,752.96 1272.00,753.02 1273.00,753.08 C1274.00,753.15 1275.00,753.21 1276.00,753.27 C1277.00,753.33 1278.00,753.40 1279.00,753.46 C1280.00,753.52 1281.00,753.58 1282.00,753.64 C1283.00,753.71 1284.00,753.77 1285.00,753.83 C1286.00,753.89 1287.00,753.95 1288.00,754.01 C1289.00,754.08 1290.00,754.14 1291.00,754.20 C1292.00,754.26 1293.00,754.32 1294.00,754.38 C1295.00,754.44 1296.00,754.51 1297.00,754.57 C1298.00,754.63 1299.00,754.69 1300.00,754.75 C1301.00,754.81 1302.00,754.87 1303.00,754.93 C1304.00,755.00 1305.00,755.06 1306.00,755.12 C1307.00,755.18 1308.00,755.24 1309.00,755.30 C1310.00,755.36 1311.00,755.42 1312.00,755.49 C1313.00,755.55 1314.00,755.61 1315.00,755.67 C1316.00,755.73 1317.00,755.79 1318.00,755.85 C1319.00,755.92 1320.00,755.98 1321.00,756.04 C1322.00,756.10 1323.00,756.16 1324.00,756.23 C1325.00,756.29 1326.00,756.35 1327.00,756.41 C1328.00,756.48 1329.00,756.54 1330.00,756.60 C1331.00,756.66 1332.00,756.73 1333.00,756.79 C1334.00,756.85 1335.00,756.91 1336.00,756.98 C1337.00,757.04 1338.00,757.10 1339.00,757.16 C1340.00,757.23 1341.00,757.29 1342.00,757.35 C1343.00,757.42 1344.00,757.48 1345.00,757.54 C1346.00,757.60 1347.00,757.66 1348.00,757.73 C1349.00,757.79 1350.00,757.85 1351.00,757.91 C1352.00,757.98 1353.00,758.04 1354.00,758.10 C1355.00,758.16 1356.00,758.22 1357.00,758.29 C1358.00,758.35 1359.00,758.41 1360.00,758.47 C1361.00,758.53 1362.00,758.59 1363.00,758.66 C1364.00,758.72 1365.00,758.78 1366.00,758.84 C1367.00,758.90 1368.00,758.96 1369.00,759.02 C1370.00,759.08 1371.00,759.14 1372.00,759.20 C1373.00,759.26 1374.00,759.32 1375.00,759.38 C1376.00,759.44 1377.00,759.50 1378.00,759.56 C1379.00,759.62 1380.00,759.68 1381.00,759.74 C1382.00,759.80 1383.00,759.86 1384.00,759.91 C1385.00,759.97 1386.00,760.03 1387.00,760.09 C1388.00,760.15 1389.00,760.20 1390.00,760.26 C1391.00,760.32 1392.00,760.38 1393.00,760.43 C1394.00,760.49 1395.00,760.55 1396.00,760.60 C1397.00,760.66 1398.00,760.71 1399.00,760.77 C1400.00,760.83 1401.00,760.88 1402.00,760.94 C1403.00,760.99 1404.00,761.05 1405.00,761.10 C1406.00,761.16 1407.00,761.21 1408.00,761.26 C1409.00,761.32 1410.00,761.37 1411.00,761.42 C1412.00,761.48 1413.00,761.53 1414.00,761.58 C1415.00,761.63 1416.00,761.69 1417.00,761.74 C1418.00,761.79 1419.00,761.84 1420.00,761.89 C1421.00,761.94 1422.00,761.99 1423.00,762.04 C1424.00,762.09 1425.00,762.14 1426.00,762.19 C1427.00,762.24 1428.00,762.29 1429.00,762.34 C1430.00,762.38 1431.00,762.43 1432.00,762.48 C1433.00,762.53 1434.00,762.57 1435.00,762.62 C1436.00,762.67 1437.00,762.71 1438.00,762.76 C1439.00,762.80 1440.00,762.85 1441.00,762.89 C1442.00,762.94 1443.00,762.98 1444.00,763.02 C1445.00,763.07 1446.00,763.11 1447.00,763.15 C1448.00,763.19 1448.90,763.23 1450.00,763.28 C1451.10,763.32 1453.00,763.40 1453.60,763.42"/>
<path d="M103.00,955.79 C103.50,955.99 105.00,956.59 106.00,956.99 C107.00,957.38 108.00,957.76 109.00,958.14 C110.00,958.52 111.00,958.90 112.00,959.26 C113.00,959.63 114.00,959.99 115.00,960.35 C116.00,960.70 117.00,961.05 118.00,961.39 C119.00,961.73 120.00,962.07 121.00,962.39 C122.00,962.72 123.00,963.04 124.00,963.35 C125.00,963.66 126.00,963.96 127.00,964.26 C128.00,964.55 129.00,964.83 130.00,965.11 C131.00,965.38 132.00,965.64 133.00,965.89 C134.00,966.14 135.00,966.38 136.00,966.61 C137.00,966.83 138.00,967.04 139.00,967.24 C140.00,967.43 141.00,967.61 142.00,967.77 C143.00,967.94 144.00,968.08 145.00,968.20 C146.00,968.33 147.00,968.43 148.00,968.52 C149.00,968.60 150.00,968.66 151.00,968.69 C152.00,968.73 153.00,968.74 154.00,968.73 C155.00,968.72 156.00,968.68 157.00,968.63 C158.00,968.57 159.00,968.49 160.00,968.39 C161.00,968.29 162.00,968.16 163.00,968.02 C164.00,967.87 165.00,967.70 166.00,967.51 C167.00,967.32 168.00,967.11 169.00,966.87 C170.00,966.64 171.00,966.38 172.00,966.10 C173.00,965.82 174.00,965.52 175.00,965.19 C176.00,964.86 177.00,964.51 178.00,964.14 C179.00,963.77 180.00,963.37 181.00,962.95 C182.00,962.53 183.00,962.08 184.00,961.61 C185.00,961.14 186.00,960.64 187.00,960.12 C188.00,959.60 189.00,959.05 190.00,958.48 C191.00,957.91 192.00,957.31 193.00,956.68 C194.00,956.05 195.00,955.40 196.00,954.71 C197.00,954.03 198.00,953.31 199.00,952.56 C200.00,951.82 201.00,951.04 202.00,950.22 C203.00,949.41 204.00,948.56 205.00,947.67 C206.00,946.79 207.00,945.87 208.00,944.92 C209.00,943.97 210.00,942.98 211.00,941.96 C212.00,940.94 213.00,939.88 214.00,938.80 C215.00,937.71 216.00,936.59 217.00,935.44 C218.00,934.29 219.00,933.11 220.00,931.91 C221.00,930.70 222.00,929.47 223.00,928.22 C224.00,926.96 225.00,925.68 226.00,924.39 C227.00,923.10 228.00,921.78 229.00,920.46 C230.00,919.14 231.00,917.80 232.00,916.47 C233.00,915.13 234.00,913.78 235.00,912.44 C236.00,911.11 237.00,909.77 238.00,908.45 C239.00,907.14 240.00,905.83 241.00,904.55 C242.00,903.27 243.00,902.01 244.00,900.79 C245.00,899.57 246.00,898.37 247.00,897.23 C248.00,896.09 249.00,894.98 250.00,893.93 C251.00,892.88 252.00,891.87 253.00,890.93 C254.00,889.99 255.00,889.11 256.00,888.29 C257.00,887.48 258.00,886.73 259.00,886.06 C260.00,885.39 261.00,884.78 262.00,884.26 C263.00,883.74 264.00,883.29 265.00,882.94 C266.00,882.58 267.00,882.30 268.00,882.10 C269.00,881.91 270.00,881.83 271.00,881.76 C272.00,881.69 273.00,881.68 274.00,881.70 C275.00,881.72 276.00,881.77 277.00,881.86 C278.00,881.95 279.00,882.08 280.00,882.24 C281.00,882.40 282.00,882.59 283.00,882.82 C284.00,883.05 285.00,883.31 286.00,883.60 C287.00,883.90 288.00,884.22 289.00,884.58 C290.00,884.93 291.00,885.32 292.00,885.73 C293.00,886.15 294.00,886.59 295.00,887.06 C296.00,887.53 297.00,888.02 298.00,888.54 C299.00,889.06 300.00,889.60 301.00,890.17 C302.00,890.73 303.00,891.32 304.00,891.92 C305.00,892.52 306.00,893.15 307.00,893.79 C308.00,894.43 309.00,895.09 310.00,895.76 C311.00,896.43 312.00,897.11 313.00,897.81 C314.00,898.50 315.00,899.21 316.00,899.93 C317.00,900.64 318.00,901.37 319.00,902.10 C320.00,902.83 321.00,903.57 322.00,904.30 C323.00,905.04 324.00,905.79 325.00,906.53 C326.00,907.27 327.00,908.02 328.00,908.76 C329.00,909.50 330.00,910.24 331.00,910.98 C332.00,911.71 333.00,912.44 334.00,913.17 C335.00,913.89 336.00,914.61 337.00,915.32 C338.00,916.02 339.00,916.72 340.00,917.41 C341.00,918.10 342.00,918.77 343.00,919.43 C344.00,920.09 345.00,920.74 346.00,921.38 C347.00,922.01 348.00,922.63 349.00,923.23 C350.00,923.82 351.00,924.41 352.00,924.97 C353.00,925.54 354.00,926.08 355.00,926.61 C356.00,927.14 357.00,927.65 358.00,928.14 C359.00,928.63 360.00,929.11 361.00,929.57 C362.00,930.03 363.00,930.47 364.00,930.90 C365.00,931.32 366.00,931.73 367.00,932.12 C368.00,932.52 369.00,932.90 370.00,933.26 C371.00,933.63 372.00,933.97 373.00,934.31 C374.00,934.65 375.00,934.97 376.00,935.28 C377.00,935.59 378.00,935.88 379.00,936.17 C380.00,936.45 381.00,936.73 382.00,936.99 C383.00,937.26 384.00,937.51 385.00,937.76 C386.00,938.00 387.00,938.24 388.00,938.47 C389.00,938.70 390.00,938.92 391.00,939.14 C392.00,939.35 393.00,939.57 394.00,939.77 C395.00,939.97 396.00,940.17 397.00,940.35 C398.00,940.54 399.00,940.72 400.00,940.89 C401.00,941.06 402.00,941.23 403.00,941.38 C404.00,941.53 405.00,941.67 406.00,941.80 C407.00,941.94 408.00,942.06 409.00,942.17 C410.00,942.28 411.00,942.38 412.00,942.47 C413.00,942.56 414.00,942.64 415.00,942.70 C416.00,942.76 417.00,942.82 418.00,942.85 C419.00,942.89 420.00,942.92 421.00,942.93 C422.00,942.94 423.00,942.94 424.00,942.92 C425.00,942.90 426.00,942.87 427.00,942.82 C428.00,942.78 429.00,942.71 430.00,942.63 C431.00,942.55 432.00,942.46 433.00,942.34 C434.00,942.23 435.00,942.10 436.00,941.96 C437.00,941.82 438.00,941.66 439.00,941.48 C440.00,941.31 441.00,941.12 442.00,940.91 C443.00,940.71 444.00,940.48 445.00,940.25 C446.00,940.02 447.00,939.77 448.00,939.50 C449.00,939.24 450.00,938.96 451.00,938.66 C452.00,938.37 453.00,938.06 454.00,937.74 C455.00,937.42 456.00,937.08 457.00,936.73 C458.00,936.37 459.00,936.01 460.00,935.62 C461.00,935.24 462.00,934.84 463.00,934.43 C464.00,934.01 465.00,933.58 466.00,933.14 C467.00,932.69 468.00,932.23 469.00,931.75 C470.00,931.27 471.00,930.77 472.00,930.26 C473.00,929.74 474.00,929.21 475.00,928.66 C476.00,928.11 477.00,927.54 478.00,926.94 C479.00,926.35 480.00,925.73 481.00,925.08 C482.00,924.44 483.00,923.77 484.00,923.07 C485.00,922.38 486.00,921.66 487.00,920.92 C488.00,920.17 489.00,919.41 490.00,918.61 C491.00,917.81 492.00,916.98 493.00,916.12 C494.00,915.26 495.00,914.37 496.00,913.44 C497.00,912.51 498.00,911.54 499.00,910.54 C500.00,909.53 501.00,908.48 502.00,907.39 C503.00,906.29 504.00,905.15 505.00,903.96 C506.00,902.76 507.00,901.52 508.00,900.21 C509.00,898.91 510.00,897.55 511.00,896.11 C512.00,894.68 513.00,893.18 514.00,891.60 C515.00,890.02 516.00,888.38 517.00,886.64 C518.00,884.89 519.00,883.08 520.00,881.14 C521.00,879.21 522.00,877.19 523.00,875.05 C524.00,872.91 525.00,870.67 526.00,868.29 C527.00,865.91 528.00,863.42 529.00,860.78 C530.00,858.14 531.00,855.37 532.00,852.43 C533.00,849.50 534.00,846.42 535.00,843.16 C536.00,839.89 537.00,836.48 538.00,832.86 C539.00,829.24 540.00,825.45 541.00,821.46 C542.00,817.46 543.00,813.27 544.00,808.88 C545.00,804.50 546.00,799.90 547.00,795.12 C548.00,790.34 549.00,785.34 550.00,780.19 C551.00,775.04 552.00,769.67 553.00,764.22 C554.00,758.76 555.00,753.11 556.00,747.45 C557.00,741.80 558.00,735.98 559.00,730.31 C560.00,724.63 561.00,718.85 562.00,713.37 C563.00,707.90 564.00,702.43 565.00,697.45 C566.00,692.47 567.00,687.64 568.00,683.47 C569.00,679.30 570.00,675.47 571.00,672.43 C572.00,669.39 573.00,666.88 574.00,665.22 C575.00,663.55 576.00,662.54 577.00,662.44 C578.00,662.34 579.00,663.09 580.00,664.62 C581.00,666.15 582.00,668.70 583.00,671.64 C584.00,674.58 585.00,678.33 586.00,682.28 C587.00,686.23 588.00,690.74 589.00,695.33 C590.00,699.91 591.00,704.85 592.00,709.79 C593.00,714.74 594.00,719.88 595.00,724.98 C596.00,730.09 597.00,735.28 598.00,740.42 C599.00,745.56 600.00,750.73 601.00,755.82 C602.00,760.91 603.00,765.98 604.00,770.95 C605.00,775.93 606.00,780.85 607.00,785.67 C608.00,790.49 609.00,795.24 610.00,799.87 C611.00,804.50 612.00,809.04 613.00,813.46 C614.00,817.88 615.00,822.19 616.00,826.39 C617.00,830.58 618.00,834.67 619.00,838.63 C620.00,842.59 621.00,846.43 622.00,850.16 C623.00,853.89 624.00,857.50 625.00,860.99 C626.00,864.49 627.00,867.87 628.00,871.13 C629.00,874.40 630.00,877.55 631.00,880.60 C632.00,883.64 633.00,886.57 634.00,889.41 C635.00,892.24 636.00,894.97 637.00,897.61 C638.00,900.25 639.00,902.80 640.00,905.25 C641.00,907.71 642.00,910.08 643.00,912.37 C644.00,914.66 645.00,916.86 646.00,918.99 C647.00,921.12 648.00,923.17 649.00,925.16 C650.00,927.15 651.00,929.06 652.00,930.91 C653.00,932.76 654.00,934.54 655.00,936.27 C656.00,938.00 657.00,939.66 658.00,941.28 C659.00,942.89 660.00,944.45 661.00,945.96 C662.00,947.47 663.00,948.92 664.00,950.33 C665.00,951.75 666.00,953.11 667.00,954.43 C668.00,955.76 669.00,957.04 670.00,958.28 C671.00,959.52 672.00,960.70 673.00,961.86 C674.00,963.01 675.00,964.13 676.00,965.21 C677.00,966.29 678.00,967.33 679.00,968.35 C680.00,969.36 681.00,970.34 682.00,971.29 C683.00,972.24 684.00,973.16 685.00,974.05 C686.00,974.95 687.00,975.81 688.00,976.65 C689.00,977.48 690.00,978.29 691.00,979.08 C692.00,979.87 693.00,980.63 694.00,981.37 C695.00,982.11 696.00,982.83 697.00,983.52 C698.00,984.22 699.00,984.89 700.00,985.54 C701.00,986.20 702.00,986.83 703.00,987.44 C704.00,988.06 705.00,988.65 706.00,989.23 C707.00,989.81 708.00,990.37 709.00,990.92 C710.00,991.46 711.00,991.99 712.00,992.50 C713.00,993.02 714.00,993.51 715.00,994.00 C716.00,994.48 717.00,994.95 718.00,995.41 C719.00,995.87 720.00,996.31 721.00,996.75 C722.00,997.18 723.00,997.60 724.00,998.01 C725.00,998.42 726.00,998.82 727.00,999.21 C728.00,999.60 729.00,999.97 730.00,1000.34 C731.00,1000.71 732.00,1001.07 733.00,1001.42 C734.00,1001.77 735.00,1002.11 736.00,1002.44 C737.00,1002.77 738.00,1003.10 739.00,1003.42 C740.00,1003.73 741.00,1004.04 742.00,1004.35 C743.00,1004.65 744.00,1004.94 745.00,1005.23 C746.00,1005.52 747.00,1005.80 748.00,1006.08 C749.00,1006.36 750.00,1006.63 751.00,1006.89 C752.00,1007.16 753.00,1007.42 754.00,1007.67 C755.00,1007.93 756.00,1008.18 757.00,1008.42 C758.00,1008.67 759.00,1008.91 760.00,1009.15 C761.00,1009.38 762.00,1009.62 763.00,1009.85 C764.00,1010.07 765.00,1010.30 766.00,1010.52 C767.00,1010.74 768.00,1010.96 769.00,1011.18 C770.00,1011.39 771.00,1011.61 772.00,1011.82 C773.00,1012.03 774.00,1012.24 775.00,1012.44 C776.00,1012.65 777.00,1012.85 778.00,1013.05 C779.00,1013.25 780.00,1013.45 781.00,1013.65 C782.00,1013.85 783.00,1014.04 784.00,1014.24 C785.00,1014.43 786.00,1014.63 787.00,1014.82 C788.00,1015.01 789.00,1015.20 790.00,1015.39 C791.00,1015.58 792.00,1015.76 793.00,1015.95 C794.00,1016.13 795.00,1016.32 796.00,1016.50 C797.00,1016.68 798.00,1016.86 799.00,1017.04 C800.00,1017.22 801.00,1017.40 802.00,1017.58 C803.00,1017.76 804.00,1017.93 805.00,1018.11 C806.00,1018.28 807.00,1018.46 808.00,1018.63 C809.00,1018.80 810.00,1018.97 811.00,1019.14 C812.00,1019.31 813.00,1019.48 814.00,1019.65 C815.00,1019.82 816.00,1019.98 817.00,1020.15 C818.00,1020.31 819.00,1020.48 820.00,1020.64 C821.00,1020.80 822.00,1020.96 823.00,1021.12 C824.00,1021.28 825.00,1021.44 826.00,1021.60 C827.00,1021.76 828.00,1021.91 829.00,1022.07 C830.00,1022.23 831.00,1022.38 832.00,1022.53 C833.00,1022.68 834.00,1022.84 835.00,1022.99 C836.00,1023.14 837.00,1023.28 838.00,1023.43 C839.00,1023.58 840.00,1023.73 841.00,1023.87 C842.00,1024.01 843.00,1024.16 844.00,1024.30 C845.00,1024.44 846.00,1024.58 847.00,1024.72 C848.00,1024.86 849.00,1025.00 850.00,1025.13 C851.00,1025.27 852.00,1025.41 853.00,1025.54 C854.00,1025.67 855.00,1025.80 856.00,1025.93 C857.00,1026.06 858.00,1026.19 859.00,1026.32 C860.00,1026.45 861.00,1026.57 862.00,1026.70 C863.00,1026.82 864.00,1026.94 865.00,1027.06 C866.00,1027.18 867.00,1027.30 868.00,1027.42 C869.00,1027.54 870.00,1027.65 871.00,1027.77 C872.00,1027.88 873.00,1028.00 874.00,1028.11 C875.00,1028.22 876.00,1028.33 877.00,1028.44 C878.00,1028.55 879.00,1028.66 880.00,1028.76 C881.00,1028.87 882.00,1028.97 883.00,1029.08 C884.00,1029.18 885.00,1029.28 886.00,1029.39 C887.00,1029.49 888.00,1029.59 889.00,1029.69 C890.00,1029.78 891.00,1029.88 892.00,1029.98 C893.00,1030.07 894.00,1030.17 895.00,1030.26 C896.00,1030.36 897.00,1030.45 898.00,1030.54 C899.00,1030.63 900.00,1030.72 901.00,1030.81 C902.00,1030.90 903.00,1030.99 904.00,1031.08 C905.00,1031.16 906.00,1031.25 907.00,1031.33 C908.00,1031.42 909.00,1031.50 910.00,1031.58 C911.00,1031.67 912.00,1031.75 913.00,1031.83 C914.00,1031.91 915.00,1031.99 916.00,1032.07 C917.00,1032.15 918.00,1032.22 919.00,1032.30 C920.00,1032.38 921.00,1032.45 922.00,1032.53 C923.00,1032.60 924.00,1032.67 925.00,1032.75 C926.00,1032.82 927.00,1032.89 928.00,1032.96 C929.00,1033.03 930.00,1033.10 931.00,1033.17 C932.00,1033.24 933.00,1033.31 934.00,1033.37 C935.00,1033.44 936.00,1033.51 937.00,1033.57 C938.00,1033.64 939.00,1033.70 940.00,1033.76 C941.00,1033.83 942.00,1033.89 943.00,1033.95 C944.00,1034.01 945.00,1034.07 946.00,1034.13 C947.00,1034.19 948.00,1034.25 949.00,1034.31 C950.00,1034.37 951.00,1034.43 952.00,1034.48 C953.00,1034.54 954.00,1034.59 955.00,1034.65 C956.00,1034.70 957.00,1034.76 958.00,1034.81 C959.00,1034.86 960.00,1034.91 961.00,1034.97 C962.00,1035.02 963.00,1035.07 964.00,1035.12 C965.00,1035.17 966.00,1035.22 967.00,1035.26 C968.00,1035.31 969.00,1035.36 970.00,1035.41 C971.00,1035.45 972.00,1035.50 973.00,1035.54 C974.00,1035.59 975.00,1035.63 976.00,1035.67 C977.00,1035.72 978.00,1035.76 979.00,1035.80 C980.00,1035.84 981.00,1035.89 982.00,1035.93 C983.00,1035.97 984.00,1036.01 985.00,1036.04 C986.00,1036.08 987.00,1036.12 988.00,1036.16 C989.00,1036.20 990.00,1036.23 991.00,1036.27 C992.00,1036.30 993.00,1036.34 994.00,1036.37 C995.00,1036.41 996.00,1036.44 997.00,1036.47 C998.00,1036.51 999.00,1036.54 1000.00,1036.57 C1001.00,1036.60 1002.00,1036.63 1003.00,1036.66 C1004.00,1036.69 1005.00,1036.72 1006.00,1036.75 C1007.00,1036.78 1008.00,1036.81 1009.00,1036.84 C1010.00,1036.86 1011.00,1036.89 1012.00,1036.92 C1013.00,1036.94 1014.00,1036.97 1015.00,1036.99 C1016.00,1037.02 1017.00,1037.04 1018.00,1037.07 C1019.00,1037.09 1020.00,1037.11 1021.00,1037.14 C1022.00,1037.16 1023.00,1037.18 1024.00,1037.20 C1025.00,1037.23 1026.00,1037.25 1027.00,1037.27 C1028.00,1037.29 1029.00,1037.31 1030.00,1037.33 C1031.00,1037.35 1032.00,1037.37 1033.00,1037.39 C1034.00,1037.40 1035.00,1037.42 1036.00,1037.44 C1037.00,1037.46 1038.00,1037.48 1039.00,1037.49 C1040.00,1037.51 1041.00,1037.53 1042.00,1037.54 C1043.00,1037.56 1044.00,1037.58 1045.00,1037.59 C1046.00,1037.61 1047.00,1037.62 1048.00,1037.64 C1049.00,1037.65 1050.00,1037.67 1051.00,1037.68 C1052.00,1037.70 1053.00,1037.71 1054.00,1037.73 C1055.00,1037.74 1056.00,1037.76 1057.00,1037.77 C1058.00,1037.78 1059.00,1037.80 1060.00,1037.81 C1061.00,1037.83 1062.00,1037.84 1063.00,1037.85 C1064.00,1037.87 1065.00,1037.88 1066.00,1037.89 C1067.00,1037.91 1068.00,1037.92 1069.00,1037.94 C1070.00,1037.95 1071.00,1037.96 1072.00,1037.98 C1073.00,1037.99 1074.00,1038.01 1075.00,1038.02 C1076.00,1038.03 1077.00,1038.05 1078.00,1038.06 C1079.00,1038.08 1080.00,1038.09 1081.00,1038.11 C1082.00,1038.12 1083.00,1038.14 1084.00,1038.16 C1085.00,1038.17 1086.00,1038.19 1087.00,1038.21 C1088.00,1038.22 1089.00,1038.24 1090.00,1038.26 C1091.00,1038.27 1092.00,1038.29 1093.00,1038.31 C1094.00,1038.33 1095.00,1038.35 1096.00,1038.37 C1097.00,1038.39 1098.00,1038.41 1099.00,1038.43 C1100.00,1038.45 1101.00,1038.47 1102.00,1038.49 C1103.00,1038.51 1104.00,1038.53 1105.00,1038.55 C1106.00,1038.57 1107.00,1038.60 1108.00,1038.62 C1109.00,1038.64 1110.00,1038.67 1111.00,1038.69 C1112.00,1038.72 1113.00,1038.74 1114.00,1038.77 C1115.00,1038.79 1116.00,1038.82 1117.00,1038.85 C1118.00,1038.87 1119.00,1038.90 1120.00,1038.93 C1121.00,1038.96 1122.00,1038.99 1123.00,1039.02 C1124.00,1039.04 1125.00,1039.08 1126.00,1039.11 C1127.00,1039.14 1128.00,1039.17 1129.00,1039.20 C1130.00,1039.23 1131.00,1039.27 1132.00,1039.30 C1133.00,1039.34 1134.00,1039.37 1135.00,1039.41 C1136.00,1039.44 1137.00,1039.48 1138.00,1039.52 C1139.00,1039.55 1140.00,1039.59 1141.00,1039.63 C1142.00,1039.67 1143.00,1039.71 1144.00,1039.75 C1145.00,1039.79 1146.00,1039.83 1147.00,1039.87 C1148.00,1039.92 1149.00,1039.96 1150.00,1040.00 C1151.00,1040.05 1152.00,1040.09 1153.00,1040.14 C1154.00,1040.18 1155.00,1040.23 1156.00,1040.28 C1157.00,1040.33 1158.00,1040.37 1159.00,1040.42 C1160.00,1040.47 1161.00,1040.52 1162.00,1040.57 C1163.00,1040.62 1164.00,1040.67 1165.00,1040.73 C1166.00,1040.78 1167.00,1040.83 1168.00,1040.88 C1169.00,1040.94 1170.00,1040.99 1171.00,1041.05 C1172.00,1041.10 1173.00,1041.16 1174.00,1041.22 C1175.00,1041.27 1176.00,1041.33 1177.00,1041.39 C1178.00,1041.45 1179.00,1041.51 1180.00,1041.56 C1181.00,1041.62 1182.00,1041.68 1183.00,1041.75 C1184.00,1041.81 1185.00,1041.87 1186.00,1041.93 C1187.00,1041.99 1188.00,1042.05 1189.00,1042.12 C1190.00,1042.18 1191.00,1042.24 1192.00,1042.31 C1193.00,1042.37 1194.00,1042.44 1195.00,1042.50 C1196.00,1042.57 1197.00,1042.63 1198.00,1042.70 C1199.00,1042.77 1200.00,1042.83 1201.00,1042.90 C1202.00,1042.97 1203.00,1043.03 1204.00,1043.10 C1205.00,1043.17 1206.00,1043.24 1207.00,1043.30 C1208.00,1043.37 1209.00,1043.44 1210.00,1043.51 C1211.00,1043.58 1212.00,1043.65 1213.00,1043.72 C1214.00,1043.79 1215.00,1043.86 1216.00,1043.93 C1217.00,1044.00 1218.00,1044.07 1219.00,1044.14 C1220.00,1044.21 1221.00,1044.28 1222.00,1044.35 C1223.00,1044.42 1224.00,1044.49 1225.00,1044.56 C1226.00,1044.64 1227.00,1044.71 1228.00,1044.78 C1229.00,1044.85 1230.00,1044.92 1231.00,1045.00 C1232.00,1045.07 1233.00,1045.14 1234.00,1045.21 C1235.00,1045.29 1236.00,1045.36 1237.00,1045.43 C1238.00,1045.51 1239.00,1045.58 1240.00,1045.65 C1241.00,1045.72 1242.00,1045.80 1243.00,1045.87 C1244.00,1045.94 1245.00,1046.02 1246.00,1046.09 C1247.00,1046.16 1248.00,1046.24 1249.00,1046.31 C1250.00,1046.38 1251.00,1046.46 1252.00,1046.53 C1253.00,1046.60 1254.00,1046.68 1255.00,1046.75 C1256.00,1046.82 1257.00,1046.90 1258.00,1046.97 C1259.00,1047.04 1260.00,1047.12 1261.00,1047.19 C1262.00,1047.26 1263.00,1047.34 1264.00,1047.41 C1265.00,1047.48 1266.00,1047.56 1267.00,1047.63 C1268.00,1047.70 1269.00,1047.78 1270.00,1047.85 C1271.00,1047.92 1272.00,1047.99 1273.00,1048.07 C1274.00,1048.14 1275.00,1048.21 1276.00,1048.28 C1277.00,1048.36 1278.00,1048.43 1279.00,1048.50 C1280.00,1048.57 1281.00,1048.65 1282.00,1048.72 C1283.00,1048.79 1284.00,1048.86 1285.00,1048.93 C1286.00,1049.00 1287.00,1049.08 1288.00,1049.15 C1289.00,1049.22 1290.00,1049.29 1291.00,1049.36 C1292.00,1049.43 1293.00,1049.50 1294.00,1049.57 C1295.00,1049.65 1296.00,1049.72 1297.00,1049.79 C1298.00,1049.86 1299.00,1049.93 1300.00,1050.00 C1301.00,1050.07 1302.00,1050.14 1303.00,1050.21 C1304.00,1050.28 1305.00,1050.35 1306.00,1050.42 C1307.00,1050.49 1308.00,1050.56 1309.00,1050.63 C1310.00,1050.70 1311.00,1050.77 1312.00,1050.84 C1313.00,1050.91 1314.00,1050.98 1315.00,1051.05 C1316.00,1051.12 1317.00,1051.19 1318.00,1051.26 C1319.00,1051.33 1320.00,1051.40 1321.00,1051.47 C1322.00,1051.54 1323.00,1051.61 1324.00,1051.68 C1325.00,1051.75 1326.00,1051.82 1327.00,1051.89 C1328.00,1051.96 1329.00,1052.03 1330.00,1052.10 C1331.00,1052.17 1332.00,1052.24 1333.00,1052.31 C1334.00,1052.38 1335.00,1052.45 1336.00,1052.52 C1337.00,1052.59 1338.00,1052.66 1339.00,1052.73 C1340.00,1052.79 1341.00,1052.86 1342.00,1052.93 C1343.00,1053.00 1344.00,1053.07 1345.00,1053.13 C1346.00,1053.20 1347.00,1053.27 1348.00,1053.34 C1349.00,1053.40 1350.00,1053.47 1351.00,1053.54 C1352.00,1053.60 1353.00,1053.67 1354.00,1053.74 C1355.00,1053.80 1356.00,1053.87 1357.00,1053.93 C1358.00,1054.00 1359.00,1054.06 1360.00,1054.13 C1361.00,1054.19 1362.00,1054.25 1363.00,1054.32 C1364.00,1054.38 1365.00,1054.44 1366.00,1054.51 C1367.00,1054.57 1368.00,1054.63 1369.00,1054.69 C1370.00,1054.75 1371.00,1054.81 1372.00,1054.87 C1373.00,1054.94 1374.00,1055.00 1375.00,1055.05 C1376.00,1055.11 1377.00,1055.17 1378.00,1055.23 C1379.00,1055.29 1380.00,1055.35 1381.00,1055.40 C1382.00,1055.46 1383.00,1055.52 1384.00,1055.57 C1385.00,1055.63 1386.00,1055.68 1387.00,1055.74 C1388.00,1055.79 1389.00,1055.84 1390.00,1055.90 C1391.00,1055.95 1392.00,1056.00 1393.00,1056.05 C1394.00,1056.10 1395.00,1056.15 1396.00,1056.20 C1397.00,1056.25 1398.00,1056.30 1399.00,1056.35 C1400.00,1056.40 1401.00,1056.45 1402.00,1056.49 C1403.00,1056.54 1404.00,1056.59 1405.00,1056.63 C1406.00,1056.68 1407.00,1056.72 1408.00,1056.76 C1409.00,1056.81 1410.00,1056.85 1411.00,1056.89 C1412.00,1056.93 1413.00,1056.97 1414.00,1057.01 C1415.00,1057.05 1416.00,1057.09 1417.00,1057.13 C1418.00,1057.17 1419.00,1057.20 1420.00,1057.24 C1421.00,1057.27 1422.00,1057.31 1423.00,1057.34 C1424.00,1057.38 1425.00,1057.41 1426.00,1057.44 C1427.00,1057.47 1428.00,1057.50 1429.00,1057.53 C1430.00,1057.56 1431.00,1057.59 1432.00,1057.62 C1433.00,1057.64 1434.00,1057.67 1435.00,1057.69 C1436.00,1057.72 1437.00,1057.74 1438.00,1057.76 C1439.00,1057.79 1440.00,1057.81 1441.00,1057.83 C1442.00,1057.85 1443.00,1057.86 1444.00,1057.88 C1445.00,1057.90 1446.00,1057.91 1447.00,1057.93 C1448.00,1057.94 1448.90,1057.96 1450.00,1057.97 C1451.10,1057.98 1453.00,1058.00 1453.60,1058.01"/>
</g>
</g>
</svg>
</body></html>
